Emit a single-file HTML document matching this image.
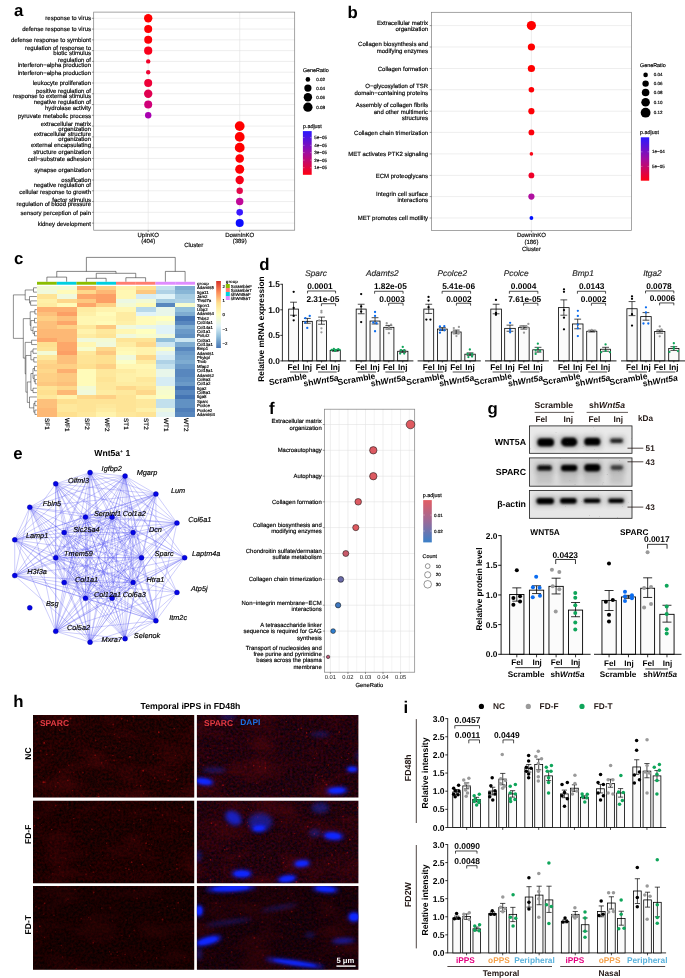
<!DOCTYPE html>
<html lang="en"><head><meta charset="utf-8"><title>Figure</title>
<style>
html,body{margin:0;padding:0;background:#fff;}
body{width:685px;height:978px;overflow:hidden;}
svg{display:block;font-family:"Liberation Sans",Arial,Helvetica,sans-serif;text-rendering:geometricPrecision;}
</style></head><body>
<svg width="685" height="978" viewBox="0 0 685 978">
<rect width="685" height="978" fill="#fff"/>
<g id="pa">
<text x="14" y="15.8" font-size="16.8" font-weight="bold">a</text>
<line x1="93.7" y1="18.3" x2="294.7" y2="18.3" stroke="#e2e2e2" stroke-width="0.6"/>
<line x1="93.7" y1="29.08" x2="294.7" y2="29.08" stroke="#e2e2e2" stroke-width="0.6"/>
<line x1="93.7" y1="39.86" x2="294.7" y2="39.86" stroke="#e2e2e2" stroke-width="0.6"/>
<line x1="93.7" y1="50.64" x2="294.7" y2="50.64" stroke="#e2e2e2" stroke-width="0.6"/>
<line x1="93.7" y1="61.42" x2="294.7" y2="61.42" stroke="#e2e2e2" stroke-width="0.6"/>
<line x1="93.7" y1="72.2" x2="294.7" y2="72.2" stroke="#e2e2e2" stroke-width="0.6"/>
<line x1="93.7" y1="82.98" x2="294.7" y2="82.98" stroke="#e2e2e2" stroke-width="0.6"/>
<line x1="93.7" y1="93.76" x2="294.7" y2="93.76" stroke="#e2e2e2" stroke-width="0.6"/>
<line x1="93.7" y1="104.54" x2="294.7" y2="104.54" stroke="#e2e2e2" stroke-width="0.6"/>
<line x1="93.7" y1="115.32" x2="294.7" y2="115.32" stroke="#e2e2e2" stroke-width="0.6"/>
<line x1="93.7" y1="126.1" x2="294.7" y2="126.1" stroke="#e2e2e2" stroke-width="0.6"/>
<line x1="93.7" y1="136.88" x2="294.7" y2="136.88" stroke="#e2e2e2" stroke-width="0.6"/>
<line x1="93.7" y1="147.66" x2="294.7" y2="147.66" stroke="#e2e2e2" stroke-width="0.6"/>
<line x1="93.7" y1="158.44" x2="294.7" y2="158.44" stroke="#e2e2e2" stroke-width="0.6"/>
<line x1="93.7" y1="169.22" x2="294.7" y2="169.22" stroke="#e2e2e2" stroke-width="0.6"/>
<line x1="93.7" y1="180" x2="294.7" y2="180" stroke="#e2e2e2" stroke-width="0.6"/>
<line x1="93.7" y1="190.78" x2="294.7" y2="190.78" stroke="#e2e2e2" stroke-width="0.6"/>
<line x1="93.7" y1="201.56" x2="294.7" y2="201.56" stroke="#e2e2e2" stroke-width="0.6"/>
<line x1="93.7" y1="212.34" x2="294.7" y2="212.34" stroke="#e2e2e2" stroke-width="0.6"/>
<line x1="93.7" y1="223.12" x2="294.7" y2="223.12" stroke="#e2e2e2" stroke-width="0.6"/>
<line x1="148.2" y1="12.1" x2="148.2" y2="230.2" stroke="#e2e2e2" stroke-width="0.6"/>
<line x1="239.7" y1="12.1" x2="239.7" y2="230.2" stroke="#e2e2e2" stroke-width="0.6"/>
<rect x="93.7" y="12.1" width="201" height="218.1" fill="none" stroke="#7f7f7f" stroke-width="0.7"/>
<line x1="91.9" y1="18.3" x2="93.7" y2="18.3" stroke="#333" stroke-width="0.5"/>
<line x1="91.9" y1="29.08" x2="93.7" y2="29.08" stroke="#333" stroke-width="0.5"/>
<line x1="91.9" y1="39.86" x2="93.7" y2="39.86" stroke="#333" stroke-width="0.5"/>
<line x1="91.9" y1="50.64" x2="93.7" y2="50.64" stroke="#333" stroke-width="0.5"/>
<line x1="91.9" y1="61.42" x2="93.7" y2="61.42" stroke="#333" stroke-width="0.5"/>
<line x1="91.9" y1="72.2" x2="93.7" y2="72.2" stroke="#333" stroke-width="0.5"/>
<line x1="91.9" y1="82.98" x2="93.7" y2="82.98" stroke="#333" stroke-width="0.5"/>
<line x1="91.9" y1="93.76" x2="93.7" y2="93.76" stroke="#333" stroke-width="0.5"/>
<line x1="91.9" y1="104.54" x2="93.7" y2="104.54" stroke="#333" stroke-width="0.5"/>
<line x1="91.9" y1="115.32" x2="93.7" y2="115.32" stroke="#333" stroke-width="0.5"/>
<line x1="91.9" y1="126.1" x2="93.7" y2="126.1" stroke="#333" stroke-width="0.5"/>
<line x1="91.9" y1="136.88" x2="93.7" y2="136.88" stroke="#333" stroke-width="0.5"/>
<line x1="91.9" y1="147.66" x2="93.7" y2="147.66" stroke="#333" stroke-width="0.5"/>
<line x1="91.9" y1="158.44" x2="93.7" y2="158.44" stroke="#333" stroke-width="0.5"/>
<line x1="91.9" y1="169.22" x2="93.7" y2="169.22" stroke="#333" stroke-width="0.5"/>
<line x1="91.9" y1="180" x2="93.7" y2="180" stroke="#333" stroke-width="0.5"/>
<line x1="91.9" y1="190.78" x2="93.7" y2="190.78" stroke="#333" stroke-width="0.5"/>
<line x1="91.9" y1="201.56" x2="93.7" y2="201.56" stroke="#333" stroke-width="0.5"/>
<line x1="91.9" y1="212.34" x2="93.7" y2="212.34" stroke="#333" stroke-width="0.5"/>
<line x1="91.9" y1="223.12" x2="93.7" y2="223.12" stroke="#333" stroke-width="0.5"/>
<line x1="148.2" y1="230.2" x2="148.2" y2="232" stroke="#333" stroke-width="0.5"/>
<line x1="239.7" y1="230.2" x2="239.7" y2="232" stroke="#333" stroke-width="0.5"/>
<text x="91" y="20.3" font-size="6" text-anchor="end" fill="#000" stroke="#000" stroke-width="0.16">response to virus</text>
<text x="91" y="31.4" font-size="6" text-anchor="end" fill="#000" stroke="#000" stroke-width="0.16">defense response to virus</text>
<text x="91" y="41.7" font-size="6" text-anchor="end" fill="#000" stroke="#000" stroke-width="0.16">defense response to symbiont</text>
<text x="91" y="49.7" font-size="6" text-anchor="end" fill="#000" stroke="#000" stroke-width="0.16">regulation of response to</text>
<text x="91" y="55" font-size="6" text-anchor="end" fill="#000" stroke="#000" stroke-width="0.16">biotic stimulus</text>
<text x="91" y="61.8" font-size="6" text-anchor="end" fill="#000" stroke="#000" stroke-width="0.16">regulation of</text>
<text x="91" y="67.1" font-size="6" text-anchor="end" fill="#000" stroke="#000" stroke-width="0.16">interferon−alpha production</text>
<text x="91" y="74.9" font-size="6" text-anchor="end" fill="#000" stroke="#000" stroke-width="0.16">interferon−alpha production</text>
<text x="91" y="84.9" font-size="6" text-anchor="end" fill="#000" stroke="#000" stroke-width="0.16">leukocyte proliferation</text>
<text x="91" y="93" font-size="6" text-anchor="end" fill="#000" stroke="#000" stroke-width="0.16">positive regulation of</text>
<text x="91" y="98.2" font-size="6" text-anchor="end" fill="#000" stroke="#000" stroke-width="0.16">response to external stimulus</text>
<text x="91" y="104.3" font-size="6" text-anchor="end" fill="#000" stroke="#000" stroke-width="0.16">negative regulation of</text>
<text x="91" y="110" font-size="6" text-anchor="end" fill="#000" stroke="#000" stroke-width="0.16">hydrolase activity</text>
<text x="91" y="118.3" font-size="6" text-anchor="end" fill="#000" stroke="#000" stroke-width="0.16">pyruvate metabolic process</text>
<text x="91" y="125.5" font-size="6" text-anchor="end" fill="#000" stroke="#000" stroke-width="0.16">extracellular matrix</text>
<text x="91" y="131.1" font-size="6" text-anchor="end" fill="#000" stroke="#000" stroke-width="0.16">organization</text>
<text x="91" y="136.3" font-size="6" text-anchor="end" fill="#000" stroke="#000" stroke-width="0.16">extracellular structure</text>
<text x="91" y="141.3" font-size="6" text-anchor="end" fill="#000" stroke="#000" stroke-width="0.16">organization</text>
<text x="91" y="147.1" font-size="6" text-anchor="end" fill="#000" stroke="#000" stroke-width="0.16">external encapsulating</text>
<text x="91" y="153.5" font-size="6" text-anchor="end" fill="#000" stroke="#000" stroke-width="0.16">structure organization</text>
<text x="91" y="161.1" font-size="6" text-anchor="end" fill="#000" stroke="#000" stroke-width="0.16">cell−substrate adhesion</text>
<text x="91" y="172.1" font-size="6" text-anchor="end" fill="#000" stroke="#000" stroke-width="0.16">synapse organization</text>
<text x="91" y="181.9" font-size="6" text-anchor="end" fill="#000" stroke="#000" stroke-width="0.16">ossification</text>
<text x="91" y="187" font-size="6" text-anchor="end" fill="#000" stroke="#000" stroke-width="0.16">negative regulation of</text>
<text x="91" y="193.8" font-size="6" text-anchor="end" fill="#000" stroke="#000" stroke-width="0.16">cellular response to growth</text>
<text x="91" y="201.6" font-size="6" text-anchor="end" fill="#000" stroke="#000" stroke-width="0.16">factor stimulus</text>
<text x="91" y="206.1" font-size="6" text-anchor="end" fill="#000" stroke="#000" stroke-width="0.16">regulation of blood pressure</text>
<text x="91" y="214.8" font-size="6" text-anchor="end" fill="#000" stroke="#000" stroke-width="0.16">sensory perception of pain</text>
<text x="91" y="225.9" font-size="6" text-anchor="end" fill="#000" stroke="#000" stroke-width="0.16">kidney development</text>
<circle cx="148.2" cy="18.3" r="4.2" fill="#ff0000"/>
<circle cx="148.2" cy="29.08" r="4" fill="#fe0004"/>
<circle cx="148.2" cy="39.86" r="4" fill="#fc0008"/>
<circle cx="148.2" cy="50.64" r="4.1" fill="#f8001c"/>
<circle cx="148.2" cy="61.42" r="2.2" fill="#f20028"/>
<circle cx="148.2" cy="72.2" r="2.2" fill="#ee0535"/>
<circle cx="148.2" cy="82.98" r="4" fill="#ee0038"/>
<circle cx="148.2" cy="93.76" r="4.2" fill="#e00050"/>
<circle cx="148.2" cy="104.54" r="4" fill="#d00078"/>
<circle cx="148.2" cy="115.32" r="3.2" fill="#a800b0"/>
<circle cx="239.7" cy="126.1" r="4.9" fill="#ff0000"/>
<circle cx="239.7" cy="136.88" r="4.9" fill="#ff0000"/>
<circle cx="239.7" cy="147.66" r="4.9" fill="#ff0000"/>
<circle cx="239.7" cy="158.44" r="4.3" fill="#fe0004"/>
<circle cx="239.7" cy="169.22" r="4.5" fill="#fe0004"/>
<circle cx="239.7" cy="180" r="4.2" fill="#f60018"/>
<circle cx="239.7" cy="190.78" r="3.2" fill="#e2084a"/>
<circle cx="239.7" cy="201.56" r="3.7" fill="#c00898"/>
<circle cx="239.7" cy="212.34" r="3.3" fill="#3a18ff"/>
<circle cx="239.7" cy="223.12" r="4" fill="#0c0cff"/>
<text x="148.2" y="237" font-size="6" text-anchor="middle" fill="#000" stroke="#000" stroke-width="0.16">UpInKO</text>
<text x="148.2" y="243.4" font-size="6" text-anchor="middle" fill="#000" stroke="#000" stroke-width="0.16">(404)</text>
<text x="239.7" y="237" font-size="6" text-anchor="middle" fill="#000" stroke="#000" stroke-width="0.16">DownInKO</text>
<text x="239.7" y="243.4" font-size="6" text-anchor="middle" fill="#000" stroke="#000" stroke-width="0.16">(389)</text>
<text x="193.7" y="246.6" font-size="6" text-anchor="middle" fill="#000" stroke="#000" stroke-width="0.16">Cluster</text>
<text x="302.9" y="71.5" font-size="5.4" fill="#000" stroke="#000" stroke-width="0.16">GeneRatio</text>
<circle cx="307.9" cy="79.4" r="2.3" fill="#000"/>
<text x="316.2" y="80.9" font-size="4.5" fill="#000" stroke="#000" stroke-width="0.16">0.02</text>
<circle cx="307.9" cy="88.1" r="3.6" fill="#000"/>
<text x="316.2" y="89.6" font-size="4.5" fill="#000" stroke="#000" stroke-width="0.16">0.04</text>
<circle cx="307.9" cy="97.2" r="4.2" fill="#000"/>
<text x="316.2" y="98.7" font-size="4.5" fill="#000" stroke="#000" stroke-width="0.16">0.06</text>
<circle cx="307.9" cy="107.2" r="4.65" fill="#000"/>
<text x="316.2" y="108.7" font-size="4.5" fill="#000" stroke="#000" stroke-width="0.16">0.08</text>
<text x="302.9" y="128.4" font-size="5.4" fill="#000" stroke="#000" stroke-width="0.16">p.adjust</text>
<defs><linearGradient id="ga" x1="0" y1="0" x2="0" y2="1"><stop offset="0" stop-color="#2a18ff"/><stop offset="0.5" stop-color="#a00ca0"/><stop offset="1" stop-color="#ff0010"/></linearGradient><linearGradient id="gf" x1="0" y1="0" x2="0" y2="1"><stop offset="0" stop-color="#e25d63"/><stop offset="0.5" stop-color="#9a6a98"/><stop offset="1" stop-color="#3a80c8"/></linearGradient></defs>
<rect x="302.9" y="131.1" width="8.8" height="43.7" fill="url(#ga)"/>
<text x="314.3" y="139.1" font-size="4.5" fill="#000" stroke="#000" stroke-width="0.16">5e−05</text>
<line x1="302.9" y1="137.6" x2="304.6" y2="137.6" stroke="#fff" stroke-width="0.3"/>
<line x1="310" y1="137.6" x2="311.7" y2="137.6" stroke="#fff" stroke-width="0.3"/>
<text x="314.3" y="146.8" font-size="4.5" fill="#000" stroke="#000" stroke-width="0.16">4e−05</text>
<line x1="302.9" y1="145.3" x2="304.6" y2="145.3" stroke="#fff" stroke-width="0.3"/>
<line x1="310" y1="145.3" x2="311.7" y2="145.3" stroke="#fff" stroke-width="0.3"/>
<text x="314.3" y="154.1" font-size="4.5" fill="#000" stroke="#000" stroke-width="0.16">3e−05</text>
<line x1="302.9" y1="152.6" x2="304.6" y2="152.6" stroke="#fff" stroke-width="0.3"/>
<line x1="310" y1="152.6" x2="311.7" y2="152.6" stroke="#fff" stroke-width="0.3"/>
<text x="314.3" y="161.6" font-size="4.5" fill="#000" stroke="#000" stroke-width="0.16">2e−05</text>
<line x1="302.9" y1="160.1" x2="304.6" y2="160.1" stroke="#fff" stroke-width="0.3"/>
<line x1="310" y1="160.1" x2="311.7" y2="160.1" stroke="#fff" stroke-width="0.3"/>
<text x="314.3" y="169.2" font-size="4.5" fill="#000" stroke="#000" stroke-width="0.16">1e−05</text>
<line x1="302.9" y1="167.7" x2="304.6" y2="167.7" stroke="#fff" stroke-width="0.3"/>
<line x1="310" y1="167.7" x2="311.7" y2="167.7" stroke="#fff" stroke-width="0.3"/>
</g>
<g id="pb">
<text x="347.5" y="17.9" font-size="16.8" font-weight="bold">b</text>
<line x1="431.4" y1="25.6" x2="631.6" y2="25.6" stroke="#e2e2e2" stroke-width="0.6"/>
<line x1="431.4" y1="47" x2="631.6" y2="47" stroke="#e2e2e2" stroke-width="0.6"/>
<line x1="431.4" y1="68.5" x2="631.6" y2="68.5" stroke="#e2e2e2" stroke-width="0.6"/>
<line x1="431.4" y1="89.7" x2="631.6" y2="89.7" stroke="#e2e2e2" stroke-width="0.6"/>
<line x1="431.4" y1="111.2" x2="631.6" y2="111.2" stroke="#e2e2e2" stroke-width="0.6"/>
<line x1="431.4" y1="132.4" x2="631.6" y2="132.4" stroke="#e2e2e2" stroke-width="0.6"/>
<line x1="431.4" y1="153.9" x2="631.6" y2="153.9" stroke="#e2e2e2" stroke-width="0.6"/>
<line x1="431.4" y1="175.4" x2="631.6" y2="175.4" stroke="#e2e2e2" stroke-width="0.6"/>
<line x1="431.4" y1="196.6" x2="631.6" y2="196.6" stroke="#e2e2e2" stroke-width="0.6"/>
<line x1="431.4" y1="218" x2="631.6" y2="218" stroke="#e2e2e2" stroke-width="0.6"/>
<line x1="531.4" y1="12.3" x2="531.4" y2="230.6" stroke="#e2e2e2" stroke-width="0.6"/>
<rect x="431.4" y="12.3" width="200.2" height="218.3" fill="none" stroke="#7f7f7f" stroke-width="0.7"/>
<line x1="429.6" y1="25.6" x2="431.4" y2="25.6" stroke="#333" stroke-width="0.5"/>
<line x1="429.6" y1="47" x2="431.4" y2="47" stroke="#333" stroke-width="0.5"/>
<line x1="429.6" y1="68.5" x2="431.4" y2="68.5" stroke="#333" stroke-width="0.5"/>
<line x1="429.6" y1="89.7" x2="431.4" y2="89.7" stroke="#333" stroke-width="0.5"/>
<line x1="429.6" y1="111.2" x2="431.4" y2="111.2" stroke="#333" stroke-width="0.5"/>
<line x1="429.6" y1="132.4" x2="431.4" y2="132.4" stroke="#333" stroke-width="0.5"/>
<line x1="429.6" y1="153.9" x2="431.4" y2="153.9" stroke="#333" stroke-width="0.5"/>
<line x1="429.6" y1="175.4" x2="431.4" y2="175.4" stroke="#333" stroke-width="0.5"/>
<line x1="429.6" y1="196.6" x2="431.4" y2="196.6" stroke="#333" stroke-width="0.5"/>
<line x1="429.6" y1="218" x2="431.4" y2="218" stroke="#333" stroke-width="0.5"/>
<line x1="531.4" y1="230.6" x2="531.4" y2="232.4" stroke="#333" stroke-width="0.5"/>
<text x="428.1" y="24.8" font-size="6" text-anchor="end" fill="#000" stroke="#000" stroke-width="0.16">Extracellular matrix</text>
<text x="428.1" y="31.1" font-size="6" text-anchor="end" fill="#000" stroke="#000" stroke-width="0.16">organization</text>
<text x="428.1" y="46" font-size="6" text-anchor="end" fill="#000" stroke="#000" stroke-width="0.16">Collagen biosynthesis and</text>
<text x="428.1" y="52.6" font-size="6" text-anchor="end" fill="#000" stroke="#000" stroke-width="0.16">modifying enzymes</text>
<text x="428.1" y="70.5" font-size="6" text-anchor="end" fill="#000" stroke="#000" stroke-width="0.16">Collagen formation</text>
<text x="428.1" y="88.4" font-size="6" text-anchor="end" fill="#000" stroke="#000" stroke-width="0.16">O−glycosylation of TSR</text>
<text x="428.1" y="94.8" font-size="6" text-anchor="end" fill="#000" stroke="#000" stroke-width="0.16">domain−containing proteins</text>
<text x="428.1" y="107.1" font-size="6" text-anchor="end" fill="#000" stroke="#000" stroke-width="0.16">Assembly of collagen fibrils</text>
<text x="428.1" y="113.5" font-size="6" text-anchor="end" fill="#000" stroke="#000" stroke-width="0.16">and other multimeric</text>
<text x="428.1" y="119.6" font-size="6" text-anchor="end" fill="#000" stroke="#000" stroke-width="0.16">structures</text>
<text x="428.1" y="134.7" font-size="6" text-anchor="end" fill="#000" stroke="#000" stroke-width="0.16">Collagen chain trimerization</text>
<text x="428.1" y="156.1" font-size="6" text-anchor="end" fill="#000" stroke="#000" stroke-width="0.16">MET activates PTK2 signaling</text>
<text x="428.1" y="177.6" font-size="6" text-anchor="end" fill="#000" stroke="#000" stroke-width="0.16">ECM proteoglycans</text>
<text x="428.1" y="195.8" font-size="6" text-anchor="end" fill="#000" stroke="#000" stroke-width="0.16">Integrin cell surface</text>
<text x="428.1" y="202.2" font-size="6" text-anchor="end" fill="#000" stroke="#000" stroke-width="0.16">interactions</text>
<text x="428.1" y="220.3" font-size="6" text-anchor="end" fill="#000" stroke="#000" stroke-width="0.16">MET promotes cell motility</text>
<circle cx="531.4" cy="25.6" r="4.6" fill="#ff0000"/>
<circle cx="531.4" cy="47" r="3.6" fill="#ff0000"/>
<circle cx="531.4" cy="68.5" r="3.6" fill="#ff0000"/>
<circle cx="531.4" cy="89.7" r="2.8" fill="#fe0006"/>
<circle cx="531.4" cy="111.2" r="3.1" fill="#fe0006"/>
<circle cx="531.4" cy="132.4" r="2.9" fill="#fc000c"/>
<circle cx="531.4" cy="153.9" r="1.8" fill="#f80818"/>
<circle cx="531.4" cy="175.4" r="2.9" fill="#f00028"/>
<circle cx="531.4" cy="196.6" r="3.1" fill="#b010a0"/>
<circle cx="531.4" cy="218" r="1.9" fill="#0010ff"/>
<text x="531.4" y="237.2" font-size="6" text-anchor="middle" fill="#000" stroke="#000" stroke-width="0.16">DownInKO</text>
<text x="531.4" y="243.6" font-size="6" text-anchor="middle" fill="#000" stroke="#000" stroke-width="0.16">(186)</text>
<text x="531.4" y="250.5" font-size="6" text-anchor="middle" fill="#000" stroke="#000" stroke-width="0.16">Cluster</text>
<text x="640" y="67.2" font-size="5.4" fill="#000" stroke="#000" stroke-width="0.16">GeneRatio</text>
<circle cx="645.6" cy="74.9" r="2.3" fill="#000"/>
<text x="653.8" y="76.4" font-size="4.5" fill="#000" stroke="#000" stroke-width="0.16">0.04</text>
<circle cx="645.6" cy="83.6" r="3.2" fill="#000"/>
<text x="653.8" y="85.1" font-size="4.5" fill="#000" stroke="#000" stroke-width="0.16">0.06</text>
<circle cx="645.6" cy="92.5" r="3.8" fill="#000"/>
<text x="653.8" y="94" font-size="4.5" fill="#000" stroke="#000" stroke-width="0.16">0.08</text>
<circle cx="645.6" cy="102.2" r="4.3" fill="#000"/>
<text x="653.8" y="103.7" font-size="4.5" fill="#000" stroke="#000" stroke-width="0.16">0.10</text>
<circle cx="645.6" cy="112.7" r="4.9" fill="#000"/>
<text x="653.8" y="114.2" font-size="4.5" fill="#000" stroke="#000" stroke-width="0.16">0.12</text>
<text x="640" y="134" font-size="5.4" fill="#000" stroke="#000" stroke-width="0.16">p.adjust</text>
<rect x="640.8" y="137.3" width="8.4" height="43.4" fill="url(#ga)"/>
<text x="652" y="153.3" font-size="4.5" fill="#000" stroke="#000" stroke-width="0.16">1e−04</text>
<line x1="640.8" y1="151.8" x2="642.5" y2="151.8" stroke="#fff" stroke-width="0.3"/>
<line x1="647.5" y1="151.8" x2="649.2" y2="151.8" stroke="#fff" stroke-width="0.3"/>
<text x="652" y="167.9" font-size="4.5" fill="#000" stroke="#000" stroke-width="0.16">5e−05</text>
<line x1="640.8" y1="166.4" x2="642.5" y2="166.4" stroke="#fff" stroke-width="0.3"/>
<line x1="647.5" y1="166.4" x2="649.2" y2="166.4" stroke="#fff" stroke-width="0.3"/>
</g>
<g id="pc">
<text x="14" y="263.5" font-size="16.8" font-weight="bold">c</text>
<rect x="37" y="285.6" width="19.8" height="4.42" fill="#f3fad4" shape-rendering="crispEdges"/>
<rect x="56.75" y="285.6" width="19.8" height="4.42" fill="#f3fad4" shape-rendering="crispEdges"/>
<rect x="76.5" y="285.6" width="19.8" height="4.42" fill="#fda76a" shape-rendering="crispEdges"/>
<rect x="96.25" y="285.6" width="19.8" height="4.42" fill="#fed085" shape-rendering="crispEdges"/>
<rect x="116" y="285.6" width="19.8" height="4.42" fill="#fff3ad" shape-rendering="crispEdges"/>
<rect x="135.75" y="285.6" width="19.8" height="4.42" fill="#fee090" shape-rendering="crispEdges"/>
<rect x="155.5" y="285.6" width="19.8" height="4.42" fill="#c2e0ed" shape-rendering="crispEdges"/>
<rect x="175.25" y="285.6" width="19.8" height="4.42" fill="#7eacd1" shape-rendering="crispEdges"/>
<rect x="37" y="289.97" width="19.8" height="4.42" fill="#f0f9dc" shape-rendering="crispEdges"/>
<rect x="56.75" y="289.97" width="19.8" height="4.42" fill="#fffbb9" shape-rendering="crispEdges"/>
<rect x="76.5" y="289.97" width="19.8" height="4.42" fill="#fed88b" shape-rendering="crispEdges"/>
<rect x="96.25" y="289.97" width="19.8" height="4.42" fill="#fdb875" shape-rendering="crispEdges"/>
<rect x="116" y="289.97" width="19.8" height="4.42" fill="#fff7b3" shape-rendering="crispEdges"/>
<rect x="135.75" y="289.97" width="19.8" height="4.42" fill="#fdc880" shape-rendering="crispEdges"/>
<rect x="155.5" y="289.97" width="19.8" height="4.42" fill="#afd2e6" shape-rendering="crispEdges"/>
<rect x="175.25" y="289.97" width="19.8" height="4.42" fill="#88b6d6" shape-rendering="crispEdges"/>
<rect x="37" y="294.33" width="19.8" height="4.42" fill="#fee496" shape-rendering="crispEdges"/>
<rect x="56.75" y="294.33" width="19.8" height="4.42" fill="#f0f9dc" shape-rendering="crispEdges"/>
<rect x="76.5" y="294.33" width="19.8" height="4.42" fill="#fda76a" shape-rendering="crispEdges"/>
<rect x="96.25" y="294.33" width="19.8" height="4.42" fill="#fc9f65" shape-rendering="crispEdges"/>
<rect x="116" y="294.33" width="19.8" height="4.42" fill="#fff7b3" shape-rendering="crispEdges"/>
<rect x="135.75" y="294.33" width="19.8" height="4.42" fill="#d6ecf4" shape-rendering="crispEdges"/>
<rect x="155.5" y="294.33" width="19.8" height="4.42" fill="#e0f3f8" shape-rendering="crispEdges"/>
<rect x="175.25" y="294.33" width="19.8" height="4.42" fill="#a5cce2" shape-rendering="crispEdges"/>
<rect x="37" y="298.7" width="19.8" height="4.42" fill="#fef0a8" shape-rendering="crispEdges"/>
<rect x="56.75" y="298.7" width="19.8" height="4.42" fill="#fed88b" shape-rendering="crispEdges"/>
<rect x="76.5" y="298.7" width="19.8" height="4.42" fill="#fdc880" shape-rendering="crispEdges"/>
<rect x="96.25" y="298.7" width="19.8" height="4.42" fill="#fc9f65" shape-rendering="crispEdges"/>
<rect x="116" y="298.7" width="19.8" height="4.42" fill="#ecf8e3" shape-rendering="crispEdges"/>
<rect x="135.75" y="298.7" width="19.8" height="4.42" fill="#f3fad4" shape-rendering="crispEdges"/>
<rect x="155.5" y="298.7" width="19.8" height="4.42" fill="#a5cce2" shape-rendering="crispEdges"/>
<rect x="175.25" y="298.7" width="19.8" height="4.42" fill="#afd2e6" shape-rendering="crispEdges"/>
<rect x="37" y="303.07" width="19.8" height="4.42" fill="#feeca2" shape-rendering="crispEdges"/>
<rect x="56.75" y="303.07" width="19.8" height="4.42" fill="#fffbb9" shape-rendering="crispEdges"/>
<rect x="76.5" y="303.07" width="19.8" height="4.42" fill="#fda76a" shape-rendering="crispEdges"/>
<rect x="96.25" y="303.07" width="19.8" height="4.42" fill="#fed085" shape-rendering="crispEdges"/>
<rect x="116" y="303.07" width="19.8" height="4.42" fill="#f3fad4" shape-rendering="crispEdges"/>
<rect x="135.75" y="303.07" width="19.8" height="4.42" fill="#fffbb9" shape-rendering="crispEdges"/>
<rect x="155.5" y="303.07" width="19.8" height="4.42" fill="#5887be" shape-rendering="crispEdges"/>
<rect x="175.25" y="303.07" width="19.8" height="4.42" fill="#f7fccd" shape-rendering="crispEdges"/>
<rect x="37" y="307.44" width="19.8" height="4.42" fill="#fdaf70" shape-rendering="crispEdges"/>
<rect x="56.75" y="307.44" width="19.8" height="4.42" fill="#fdaf70" shape-rendering="crispEdges"/>
<rect x="76.5" y="307.44" width="19.8" height="4.42" fill="#feeca2" shape-rendering="crispEdges"/>
<rect x="96.25" y="307.44" width="19.8" height="4.42" fill="#fff3ad" shape-rendering="crispEdges"/>
<rect x="116" y="307.44" width="19.8" height="4.42" fill="#fff7b3" shape-rendering="crispEdges"/>
<rect x="135.75" y="307.44" width="19.8" height="4.42" fill="#b8d9ea" shape-rendering="crispEdges"/>
<rect x="155.5" y="307.44" width="19.8" height="4.42" fill="#e8f6ea" shape-rendering="crispEdges"/>
<rect x="175.25" y="307.44" width="19.8" height="4.42" fill="#91bfdb" shape-rendering="crispEdges"/>
<rect x="37" y="311.8" width="19.8" height="4.42" fill="#fdc07b" shape-rendering="crispEdges"/>
<rect x="56.75" y="311.8" width="19.8" height="4.42" fill="#fc9f65" shape-rendering="crispEdges"/>
<rect x="76.5" y="311.8" width="19.8" height="4.42" fill="#fef0a8" shape-rendering="crispEdges"/>
<rect x="96.25" y="311.8" width="19.8" height="4.42" fill="#fffbb9" shape-rendering="crispEdges"/>
<rect x="116" y="311.8" width="19.8" height="4.42" fill="#feeca2" shape-rendering="crispEdges"/>
<rect x="135.75" y="311.8" width="19.8" height="4.42" fill="#e0f3f8" shape-rendering="crispEdges"/>
<rect x="155.5" y="311.8" width="19.8" height="4.42" fill="#e8f6ea" shape-rendering="crispEdges"/>
<rect x="175.25" y="311.8" width="19.8" height="4.42" fill="#7eacd1" shape-rendering="crispEdges"/>
<rect x="37" y="316.17" width="19.8" height="4.42" fill="#fed085" shape-rendering="crispEdges"/>
<rect x="56.75" y="316.17" width="19.8" height="4.42" fill="#fdc07b" shape-rendering="crispEdges"/>
<rect x="76.5" y="316.17" width="19.8" height="4.42" fill="#fff7b3" shape-rendering="crispEdges"/>
<rect x="96.25" y="316.17" width="19.8" height="4.42" fill="#fff7b3" shape-rendering="crispEdges"/>
<rect x="116" y="316.17" width="19.8" height="4.42" fill="#feeca2" shape-rendering="crispEdges"/>
<rect x="135.75" y="316.17" width="19.8" height="4.42" fill="#fffbb9" shape-rendering="crispEdges"/>
<rect x="155.5" y="316.17" width="19.8" height="4.42" fill="#ffffbf" shape-rendering="crispEdges"/>
<rect x="175.25" y="316.17" width="19.8" height="4.42" fill="#4575b4" shape-rendering="crispEdges"/>
<rect x="37" y="320.54" width="19.8" height="4.42" fill="#fdc07b" shape-rendering="crispEdges"/>
<rect x="56.75" y="320.54" width="19.8" height="4.42" fill="#fda76a" shape-rendering="crispEdges"/>
<rect x="76.5" y="320.54" width="19.8" height="4.42" fill="#fff7b3" shape-rendering="crispEdges"/>
<rect x="96.25" y="320.54" width="19.8" height="4.42" fill="#fffbb9" shape-rendering="crispEdges"/>
<rect x="116" y="320.54" width="19.8" height="4.42" fill="#fef0a8" shape-rendering="crispEdges"/>
<rect x="135.75" y="320.54" width="19.8" height="4.42" fill="#fffbb9" shape-rendering="crispEdges"/>
<rect x="155.5" y="320.54" width="19.8" height="4.42" fill="#f3fad4" shape-rendering="crispEdges"/>
<rect x="175.25" y="320.54" width="19.8" height="4.42" fill="#5887be" shape-rendering="crispEdges"/>
<rect x="37" y="324.9" width="19.8" height="4.42" fill="#fdc07b" shape-rendering="crispEdges"/>
<rect x="56.75" y="324.9" width="19.8" height="4.42" fill="#fed085" shape-rendering="crispEdges"/>
<rect x="76.5" y="324.9" width="19.8" height="4.42" fill="#fee89c" shape-rendering="crispEdges"/>
<rect x="96.25" y="324.9" width="19.8" height="4.42" fill="#fdc880" shape-rendering="crispEdges"/>
<rect x="116" y="324.9" width="19.8" height="4.42" fill="#f0f9dc" shape-rendering="crispEdges"/>
<rect x="135.75" y="324.9" width="19.8" height="4.42" fill="#e8f6ea" shape-rendering="crispEdges"/>
<rect x="155.5" y="324.9" width="19.8" height="4.42" fill="#e0f3f8" shape-rendering="crispEdges"/>
<rect x="175.25" y="324.9" width="19.8" height="4.42" fill="#7eacd1" shape-rendering="crispEdges"/>
<rect x="37" y="329.27" width="19.8" height="4.42" fill="#fdb875" shape-rendering="crispEdges"/>
<rect x="56.75" y="329.27" width="19.8" height="4.42" fill="#fdb875" shape-rendering="crispEdges"/>
<rect x="76.5" y="329.27" width="19.8" height="4.42" fill="#fff3ad" shape-rendering="crispEdges"/>
<rect x="96.25" y="329.27" width="19.8" height="4.42" fill="#fee89c" shape-rendering="crispEdges"/>
<rect x="116" y="329.27" width="19.8" height="4.42" fill="#fff7b3" shape-rendering="crispEdges"/>
<rect x="135.75" y="329.27" width="19.8" height="4.42" fill="#ffffbf" shape-rendering="crispEdges"/>
<rect x="155.5" y="329.27" width="19.8" height="4.42" fill="#e0f3f8" shape-rendering="crispEdges"/>
<rect x="175.25" y="329.27" width="19.8" height="4.42" fill="#6b9ac8" shape-rendering="crispEdges"/>
<rect x="37" y="333.64" width="19.8" height="4.42" fill="#fdb875" shape-rendering="crispEdges"/>
<rect x="56.75" y="333.64" width="19.8" height="4.42" fill="#fdb875" shape-rendering="crispEdges"/>
<rect x="76.5" y="333.64" width="19.8" height="4.42" fill="#feeca2" shape-rendering="crispEdges"/>
<rect x="96.25" y="333.64" width="19.8" height="4.42" fill="#fee496" shape-rendering="crispEdges"/>
<rect x="116" y="333.64" width="19.8" height="4.42" fill="#f0f9dc" shape-rendering="crispEdges"/>
<rect x="135.75" y="333.64" width="19.8" height="4.42" fill="#f7fccd" shape-rendering="crispEdges"/>
<rect x="155.5" y="333.64" width="19.8" height="4.42" fill="#f0f9dc" shape-rendering="crispEdges"/>
<rect x="175.25" y="333.64" width="19.8" height="4.42" fill="#6191c3" shape-rendering="crispEdges"/>
<rect x="37" y="338" width="19.8" height="4.42" fill="#fda76a" shape-rendering="crispEdges"/>
<rect x="56.75" y="338" width="19.8" height="4.42" fill="#fdb875" shape-rendering="crispEdges"/>
<rect x="76.5" y="338" width="19.8" height="4.42" fill="#f0f9dc" shape-rendering="crispEdges"/>
<rect x="96.25" y="338" width="19.8" height="4.42" fill="#f3fad4" shape-rendering="crispEdges"/>
<rect x="116" y="338" width="19.8" height="4.42" fill="#fee496" shape-rendering="crispEdges"/>
<rect x="135.75" y="338" width="19.8" height="4.42" fill="#fee496" shape-rendering="crispEdges"/>
<rect x="155.5" y="338" width="19.8" height="4.42" fill="#91bfdb" shape-rendering="crispEdges"/>
<rect x="175.25" y="338" width="19.8" height="4.42" fill="#cce6f1" shape-rendering="crispEdges"/>
<rect x="37" y="342.37" width="19.8" height="4.42" fill="#fee090" shape-rendering="crispEdges"/>
<rect x="56.75" y="342.37" width="19.8" height="4.42" fill="#fda76a" shape-rendering="crispEdges"/>
<rect x="76.5" y="342.37" width="19.8" height="4.42" fill="#fff7b3" shape-rendering="crispEdges"/>
<rect x="96.25" y="342.37" width="19.8" height="4.42" fill="#f0f9dc" shape-rendering="crispEdges"/>
<rect x="116" y="342.37" width="19.8" height="4.42" fill="#feeca2" shape-rendering="crispEdges"/>
<rect x="135.75" y="342.37" width="19.8" height="4.42" fill="#fed88b" shape-rendering="crispEdges"/>
<rect x="155.5" y="342.37" width="19.8" height="4.42" fill="#cce6f1" shape-rendering="crispEdges"/>
<rect x="175.25" y="342.37" width="19.8" height="4.42" fill="#7eacd1" shape-rendering="crispEdges"/>
<rect x="37" y="346.74" width="19.8" height="4.42" fill="#fee496" shape-rendering="crispEdges"/>
<rect x="56.75" y="346.74" width="19.8" height="4.42" fill="#fda76a" shape-rendering="crispEdges"/>
<rect x="76.5" y="346.74" width="19.8" height="4.42" fill="#f7fccd" shape-rendering="crispEdges"/>
<rect x="96.25" y="346.74" width="19.8" height="4.42" fill="#fed88b" shape-rendering="crispEdges"/>
<rect x="116" y="346.74" width="19.8" height="4.42" fill="#fff7b3" shape-rendering="crispEdges"/>
<rect x="135.75" y="346.74" width="19.8" height="4.42" fill="#fff3ad" shape-rendering="crispEdges"/>
<rect x="155.5" y="346.74" width="19.8" height="4.42" fill="#f7fccd" shape-rendering="crispEdges"/>
<rect x="175.25" y="346.74" width="19.8" height="4.42" fill="#5887be" shape-rendering="crispEdges"/>
<rect x="37" y="351.11" width="19.8" height="4.42" fill="#f3fad4" shape-rendering="crispEdges"/>
<rect x="56.75" y="351.11" width="19.8" height="4.42" fill="#fc9f65" shape-rendering="crispEdges"/>
<rect x="76.5" y="351.11" width="19.8" height="4.42" fill="#fee89c" shape-rendering="crispEdges"/>
<rect x="96.25" y="351.11" width="19.8" height="4.42" fill="#fdc880" shape-rendering="crispEdges"/>
<rect x="116" y="351.11" width="19.8" height="4.42" fill="#fffbb9" shape-rendering="crispEdges"/>
<rect x="135.75" y="351.11" width="19.8" height="4.42" fill="#fff3ad" shape-rendering="crispEdges"/>
<rect x="155.5" y="351.11" width="19.8" height="4.42" fill="#e4f4f1" shape-rendering="crispEdges"/>
<rect x="175.25" y="351.11" width="19.8" height="4.42" fill="#6b9ac8" shape-rendering="crispEdges"/>
<rect x="37" y="355.47" width="19.8" height="4.42" fill="#fee89c" shape-rendering="crispEdges"/>
<rect x="56.75" y="355.47" width="19.8" height="4.42" fill="#fdc07b" shape-rendering="crispEdges"/>
<rect x="76.5" y="355.47" width="19.8" height="4.42" fill="#fee496" shape-rendering="crispEdges"/>
<rect x="96.25" y="355.47" width="19.8" height="4.42" fill="#fee090" shape-rendering="crispEdges"/>
<rect x="116" y="355.47" width="19.8" height="4.42" fill="#f0f9dc" shape-rendering="crispEdges"/>
<rect x="135.75" y="355.47" width="19.8" height="4.42" fill="#fed88b" shape-rendering="crispEdges"/>
<rect x="155.5" y="355.47" width="19.8" height="4.42" fill="#d6ecf4" shape-rendering="crispEdges"/>
<rect x="175.25" y="355.47" width="19.8" height="4.42" fill="#74a3cc" shape-rendering="crispEdges"/>
<rect x="37" y="359.84" width="19.8" height="4.42" fill="#fed88b" shape-rendering="crispEdges"/>
<rect x="56.75" y="359.84" width="19.8" height="4.42" fill="#fdc07b" shape-rendering="crispEdges"/>
<rect x="76.5" y="359.84" width="19.8" height="4.42" fill="#fee496" shape-rendering="crispEdges"/>
<rect x="96.25" y="359.84" width="19.8" height="4.42" fill="#fee090" shape-rendering="crispEdges"/>
<rect x="116" y="359.84" width="19.8" height="4.42" fill="#fbfec6" shape-rendering="crispEdges"/>
<rect x="135.75" y="359.84" width="19.8" height="4.42" fill="#feeca2" shape-rendering="crispEdges"/>
<rect x="155.5" y="359.84" width="19.8" height="4.42" fill="#afd2e6" shape-rendering="crispEdges"/>
<rect x="175.25" y="359.84" width="19.8" height="4.42" fill="#7eacd1" shape-rendering="crispEdges"/>
<rect x="37" y="364.21" width="19.8" height="4.42" fill="#fed085" shape-rendering="crispEdges"/>
<rect x="56.75" y="364.21" width="19.8" height="4.42" fill="#fed085" shape-rendering="crispEdges"/>
<rect x="76.5" y="364.21" width="19.8" height="4.42" fill="#fee090" shape-rendering="crispEdges"/>
<rect x="96.25" y="364.21" width="19.8" height="4.42" fill="#fed085" shape-rendering="crispEdges"/>
<rect x="116" y="364.21" width="19.8" height="4.42" fill="#fff7b3" shape-rendering="crispEdges"/>
<rect x="135.75" y="364.21" width="19.8" height="4.42" fill="#fff7b3" shape-rendering="crispEdges"/>
<rect x="155.5" y="364.21" width="19.8" height="4.42" fill="#c2e0ed" shape-rendering="crispEdges"/>
<rect x="175.25" y="364.21" width="19.8" height="4.42" fill="#6b9ac8" shape-rendering="crispEdges"/>
<rect x="37" y="368.57" width="19.8" height="4.42" fill="#fed88b" shape-rendering="crispEdges"/>
<rect x="56.75" y="368.57" width="19.8" height="4.42" fill="#fdaf70" shape-rendering="crispEdges"/>
<rect x="76.5" y="368.57" width="19.8" height="4.42" fill="#fffbb9" shape-rendering="crispEdges"/>
<rect x="96.25" y="368.57" width="19.8" height="4.42" fill="#fee89c" shape-rendering="crispEdges"/>
<rect x="116" y="368.57" width="19.8" height="4.42" fill="#feeca2" shape-rendering="crispEdges"/>
<rect x="135.75" y="368.57" width="19.8" height="4.42" fill="#fff3ad" shape-rendering="crispEdges"/>
<rect x="155.5" y="368.57" width="19.8" height="4.42" fill="#e8f6ea" shape-rendering="crispEdges"/>
<rect x="175.25" y="368.57" width="19.8" height="4.42" fill="#5887be" shape-rendering="crispEdges"/>
<rect x="37" y="372.94" width="19.8" height="4.42" fill="#fed085" shape-rendering="crispEdges"/>
<rect x="56.75" y="372.94" width="19.8" height="4.42" fill="#fdc880" shape-rendering="crispEdges"/>
<rect x="76.5" y="372.94" width="19.8" height="4.42" fill="#fffbb9" shape-rendering="crispEdges"/>
<rect x="96.25" y="372.94" width="19.8" height="4.42" fill="#fee89c" shape-rendering="crispEdges"/>
<rect x="116" y="372.94" width="19.8" height="4.42" fill="#fef0a8" shape-rendering="crispEdges"/>
<rect x="135.75" y="372.94" width="19.8" height="4.42" fill="#fff3ad" shape-rendering="crispEdges"/>
<rect x="155.5" y="372.94" width="19.8" height="4.42" fill="#e8f6ea" shape-rendering="crispEdges"/>
<rect x="175.25" y="372.94" width="19.8" height="4.42" fill="#5887be" shape-rendering="crispEdges"/>
<rect x="37" y="377.31" width="19.8" height="4.42" fill="#fed085" shape-rendering="crispEdges"/>
<rect x="56.75" y="377.31" width="19.8" height="4.42" fill="#fdc880" shape-rendering="crispEdges"/>
<rect x="76.5" y="377.31" width="19.8" height="4.42" fill="#fffbb9" shape-rendering="crispEdges"/>
<rect x="96.25" y="377.31" width="19.8" height="4.42" fill="#fee496" shape-rendering="crispEdges"/>
<rect x="116" y="377.31" width="19.8" height="4.42" fill="#fef0a8" shape-rendering="crispEdges"/>
<rect x="135.75" y="377.31" width="19.8" height="4.42" fill="#fee89c" shape-rendering="crispEdges"/>
<rect x="155.5" y="377.31" width="19.8" height="4.42" fill="#d6ecf4" shape-rendering="crispEdges"/>
<rect x="175.25" y="377.31" width="19.8" height="4.42" fill="#6191c3" shape-rendering="crispEdges"/>
<rect x="37" y="381.67" width="19.8" height="4.42" fill="#fdc880" shape-rendering="crispEdges"/>
<rect x="56.75" y="381.67" width="19.8" height="4.42" fill="#fdc07b" shape-rendering="crispEdges"/>
<rect x="76.5" y="381.67" width="19.8" height="4.42" fill="#fffbb9" shape-rendering="crispEdges"/>
<rect x="96.25" y="381.67" width="19.8" height="4.42" fill="#fee89c" shape-rendering="crispEdges"/>
<rect x="116" y="381.67" width="19.8" height="4.42" fill="#feeca2" shape-rendering="crispEdges"/>
<rect x="135.75" y="381.67" width="19.8" height="4.42" fill="#feeca2" shape-rendering="crispEdges"/>
<rect x="155.5" y="381.67" width="19.8" height="4.42" fill="#d6ecf4" shape-rendering="crispEdges"/>
<rect x="175.25" y="381.67" width="19.8" height="4.42" fill="#6b9ac8" shape-rendering="crispEdges"/>
<rect x="37" y="386.04" width="19.8" height="4.42" fill="#fee496" shape-rendering="crispEdges"/>
<rect x="56.75" y="386.04" width="19.8" height="4.42" fill="#fed88b" shape-rendering="crispEdges"/>
<rect x="76.5" y="386.04" width="19.8" height="4.42" fill="#f3fad4" shape-rendering="crispEdges"/>
<rect x="96.25" y="386.04" width="19.8" height="4.42" fill="#fee89c" shape-rendering="crispEdges"/>
<rect x="116" y="386.04" width="19.8" height="4.42" fill="#fed88b" shape-rendering="crispEdges"/>
<rect x="135.75" y="386.04" width="19.8" height="4.42" fill="#fee496" shape-rendering="crispEdges"/>
<rect x="155.5" y="386.04" width="19.8" height="4.42" fill="#f3fad4" shape-rendering="crispEdges"/>
<rect x="175.25" y="386.04" width="19.8" height="4.42" fill="#4575b4" shape-rendering="crispEdges"/>
<rect x="37" y="390.41" width="19.8" height="4.42" fill="#fee090" shape-rendering="crispEdges"/>
<rect x="56.75" y="390.41" width="19.8" height="4.42" fill="#fdb875" shape-rendering="crispEdges"/>
<rect x="76.5" y="390.41" width="19.8" height="4.42" fill="#f0f9dc" shape-rendering="crispEdges"/>
<rect x="96.25" y="390.41" width="19.8" height="4.42" fill="#feeca2" shape-rendering="crispEdges"/>
<rect x="116" y="390.41" width="19.8" height="4.42" fill="#fee89c" shape-rendering="crispEdges"/>
<rect x="135.75" y="390.41" width="19.8" height="4.42" fill="#fed88b" shape-rendering="crispEdges"/>
<rect x="155.5" y="390.41" width="19.8" height="4.42" fill="#f7fccd" shape-rendering="crispEdges"/>
<rect x="175.25" y="390.41" width="19.8" height="4.42" fill="#5887be" shape-rendering="crispEdges"/>
<rect x="37" y="394.78" width="19.8" height="4.42" fill="#fee89c" shape-rendering="crispEdges"/>
<rect x="56.75" y="394.78" width="19.8" height="4.42" fill="#fff3ad" shape-rendering="crispEdges"/>
<rect x="76.5" y="394.78" width="19.8" height="4.42" fill="#fed88b" shape-rendering="crispEdges"/>
<rect x="96.25" y="394.78" width="19.8" height="4.42" fill="#fed085" shape-rendering="crispEdges"/>
<rect x="116" y="394.78" width="19.8" height="4.42" fill="#fee496" shape-rendering="crispEdges"/>
<rect x="135.75" y="394.78" width="19.8" height="4.42" fill="#fff7b3" shape-rendering="crispEdges"/>
<rect x="155.5" y="394.78" width="19.8" height="4.42" fill="#fbfec6" shape-rendering="crispEdges"/>
<rect x="175.25" y="394.78" width="19.8" height="4.42" fill="#4575b4" shape-rendering="crispEdges"/>
<rect x="37" y="399.14" width="19.8" height="4.42" fill="#fdc07b" shape-rendering="crispEdges"/>
<rect x="56.75" y="399.14" width="19.8" height="4.42" fill="#fee090" shape-rendering="crispEdges"/>
<rect x="76.5" y="399.14" width="19.8" height="4.42" fill="#fee496" shape-rendering="crispEdges"/>
<rect x="96.25" y="399.14" width="19.8" height="4.42" fill="#fee496" shape-rendering="crispEdges"/>
<rect x="116" y="399.14" width="19.8" height="4.42" fill="#fee496" shape-rendering="crispEdges"/>
<rect x="135.75" y="399.14" width="19.8" height="4.42" fill="#fee89c" shape-rendering="crispEdges"/>
<rect x="155.5" y="399.14" width="19.8" height="4.42" fill="#c2e0ed" shape-rendering="crispEdges"/>
<rect x="175.25" y="399.14" width="19.8" height="4.42" fill="#6191c3" shape-rendering="crispEdges"/>
<rect x="37" y="403.51" width="19.8" height="4.42" fill="#fdc07b" shape-rendering="crispEdges"/>
<rect x="56.75" y="403.51" width="19.8" height="4.42" fill="#fee89c" shape-rendering="crispEdges"/>
<rect x="76.5" y="403.51" width="19.8" height="4.42" fill="#fee496" shape-rendering="crispEdges"/>
<rect x="96.25" y="403.51" width="19.8" height="4.42" fill="#fee89c" shape-rendering="crispEdges"/>
<rect x="116" y="403.51" width="19.8" height="4.42" fill="#fee496" shape-rendering="crispEdges"/>
<rect x="135.75" y="403.51" width="19.8" height="4.42" fill="#fee89c" shape-rendering="crispEdges"/>
<rect x="155.5" y="403.51" width="19.8" height="4.42" fill="#c2e0ed" shape-rendering="crispEdges"/>
<rect x="175.25" y="403.51" width="19.8" height="4.42" fill="#6191c3" shape-rendering="crispEdges"/>
<rect x="37" y="407.88" width="19.8" height="4.42" fill="#fdb875" shape-rendering="crispEdges"/>
<rect x="56.75" y="407.88" width="19.8" height="4.42" fill="#fee89c" shape-rendering="crispEdges"/>
<rect x="76.5" y="407.88" width="19.8" height="4.42" fill="#fee496" shape-rendering="crispEdges"/>
<rect x="96.25" y="407.88" width="19.8" height="4.42" fill="#feeca2" shape-rendering="crispEdges"/>
<rect x="116" y="407.88" width="19.8" height="4.42" fill="#fee496" shape-rendering="crispEdges"/>
<rect x="135.75" y="407.88" width="19.8" height="4.42" fill="#fef0a8" shape-rendering="crispEdges"/>
<rect x="155.5" y="407.88" width="19.8" height="4.42" fill="#ecf8e3" shape-rendering="crispEdges"/>
<rect x="175.25" y="407.88" width="19.8" height="4.42" fill="#4f7eb9" shape-rendering="crispEdges"/>
<rect x="37" y="412.24" width="19.8" height="4.42" fill="#fdb875" shape-rendering="crispEdges"/>
<rect x="56.75" y="412.24" width="19.8" height="4.42" fill="#fee090" shape-rendering="crispEdges"/>
<rect x="76.5" y="412.24" width="19.8" height="4.42" fill="#fee89c" shape-rendering="crispEdges"/>
<rect x="96.25" y="412.24" width="19.8" height="4.42" fill="#fff3ad" shape-rendering="crispEdges"/>
<rect x="116" y="412.24" width="19.8" height="4.42" fill="#fee89c" shape-rendering="crispEdges"/>
<rect x="135.75" y="412.24" width="19.8" height="4.42" fill="#fee496" shape-rendering="crispEdges"/>
<rect x="155.5" y="412.24" width="19.8" height="4.42" fill="#e4f4f1" shape-rendering="crispEdges"/>
<rect x="175.25" y="412.24" width="19.8" height="4.42" fill="#5887be" shape-rendering="crispEdges"/>
<rect x="37" y="281.8" width="19.8" height="2.9" fill="#8bbd00"/>
<rect x="56.75" y="281.8" width="19.8" height="2.9" fill="#00cfdf"/>
<rect x="76.5" y="281.8" width="19.8" height="2.9" fill="#8bbd00"/>
<rect x="96.25" y="281.8" width="19.8" height="2.9" fill="#00cfdf"/>
<rect x="116" y="281.8" width="19.8" height="2.9" fill="#ff7d70"/>
<rect x="135.75" y="281.8" width="19.8" height="2.9" fill="#ff7d70"/>
<rect x="155.5" y="281.8" width="19.8" height="2.9" fill="#df8cff"/>
<rect x="175.25" y="281.8" width="19.8" height="2.9" fill="#df8cff"/>
<text x="196.9" y="289.23" font-size="4.3" fill="#000" stroke="#000" stroke-width="0.16">Adamts5</text>
<text x="196.9" y="293.6" font-size="4.3" fill="#000" stroke="#000" stroke-width="0.16">Itga11</text>
<text x="196.9" y="297.97" font-size="4.3" fill="#000" stroke="#000" stroke-width="0.16">Jam2</text>
<text x="196.9" y="302.33" font-size="4.3" fill="#000" stroke="#000" stroke-width="0.16">Thsd7a</text>
<text x="196.9" y="306.7" font-size="4.3" fill="#000" stroke="#000" stroke-width="0.16">Spon1</text>
<text x="196.9" y="311.07" font-size="4.3" fill="#000" stroke="#000" stroke-width="0.16">Ltbp2</text>
<text x="196.9" y="315.44" font-size="4.3" fill="#000" stroke="#000" stroke-width="0.16">Adamts4</text>
<text x="196.9" y="319.8" font-size="4.3" fill="#000" stroke="#000" stroke-width="0.16">Thbs2</text>
<text x="196.9" y="324.17" font-size="4.3" fill="#000" stroke="#000" stroke-width="0.16">Col24a1</text>
<text x="196.9" y="328.54" font-size="4.3" fill="#000" stroke="#000" stroke-width="0.16">Col14a1</text>
<text x="196.9" y="332.9" font-size="4.3" fill="#000" stroke="#000" stroke-width="0.16">Col1a1</text>
<text x="196.9" y="337.27" font-size="4.3" fill="#000" stroke="#000" stroke-width="0.16">Pofut2</text>
<text x="196.9" y="341.64" font-size="4.3" fill="#000" stroke="#000" stroke-width="0.16">Col3a1</text>
<text x="196.9" y="346" font-size="4.3" fill="#000" stroke="#000" stroke-width="0.16">Col13a1</text>
<text x="196.9" y="350.37" font-size="4.3" fill="#000" stroke="#000" stroke-width="0.16">Bmp1</text>
<text x="196.9" y="354.74" font-size="4.3" fill="#000" stroke="#000" stroke-width="0.16">Adamts1</text>
<text x="196.9" y="359.11" font-size="4.3" fill="#000" stroke="#000" stroke-width="0.16">Phykpl</text>
<text x="196.9" y="363.47" font-size="4.3" fill="#000" stroke="#000" stroke-width="0.16">Tnxb</text>
<text x="196.9" y="367.84" font-size="4.3" fill="#000" stroke="#000" stroke-width="0.16">Mfap2</text>
<text x="196.9" y="372.21" font-size="4.3" fill="#000" stroke="#000" stroke-width="0.16">Col15a1</text>
<text x="196.9" y="376.57" font-size="4.3" fill="#000" stroke="#000" stroke-width="0.16">Adamts2</text>
<text x="196.9" y="380.94" font-size="4.3" fill="#000" stroke="#000" stroke-width="0.16">Col6a3</text>
<text x="196.9" y="385.31" font-size="4.3" fill="#000" stroke="#000" stroke-width="0.16">Col1a2</text>
<text x="196.9" y="389.67" font-size="4.3" fill="#000" stroke="#000" stroke-width="0.16">Itga2</text>
<text x="196.9" y="394.04" font-size="4.3" fill="#000" stroke="#000" stroke-width="0.16">Col5a1</text>
<text x="196.9" y="398.41" font-size="4.3" fill="#000" stroke="#000" stroke-width="0.16">Itga8</text>
<text x="196.9" y="402.78" font-size="4.3" fill="#000" stroke="#000" stroke-width="0.16">Sparc</text>
<text x="196.9" y="407.14" font-size="4.3" fill="#000" stroke="#000" stroke-width="0.16">Pcolce</text>
<text x="196.9" y="411.51" font-size="4.3" fill="#000" stroke="#000" stroke-width="0.16">Pcolce2</text>
<text x="196.9" y="415.88" font-size="4.3" fill="#000" stroke="#000" stroke-width="0.16">Adamtsl4</text>
<text x="196.9" y="284.6" font-size="4.25" font-weight="bold">group</text>
<text x="45.27" y="418.1" font-size="6.3" fill="#000" stroke="#000" stroke-width="0.16" transform="rotate(90 45.27 418.1)">SF1</text>
<text x="65.03" y="418.1" font-size="6.3" fill="#000" stroke="#000" stroke-width="0.16" transform="rotate(90 65.03 418.1)">WF1</text>
<text x="84.78" y="418.1" font-size="6.3" fill="#000" stroke="#000" stroke-width="0.16" transform="rotate(90 84.78 418.1)">SF2</text>
<text x="104.53" y="418.1" font-size="6.3" fill="#000" stroke="#000" stroke-width="0.16" transform="rotate(90 104.53 418.1)">WF2</text>
<text x="124.28" y="418.1" font-size="6.3" fill="#000" stroke="#000" stroke-width="0.16" transform="rotate(90 124.28 418.1)">ST1</text>
<text x="144.03" y="418.1" font-size="6.3" fill="#000" stroke="#000" stroke-width="0.16" transform="rotate(90 144.03 418.1)">ST2</text>
<text x="163.78" y="418.1" font-size="6.3" fill="#000" stroke="#000" stroke-width="0.16" transform="rotate(90 163.78 418.1)">WT1</text>
<text x="183.53" y="418.1" font-size="6.3" fill="#000" stroke="#000" stroke-width="0.16" transform="rotate(90 183.53 418.1)">WT2</text>
<path d="M46.88 281.7V277.1H66.62V281.7" stroke="#222" stroke-width="0.55" fill="none"/>
<path d="M86.38 281.7V278.3H106.12V281.7" stroke="#222" stroke-width="0.55" fill="none"/>
<path d="M125.88 281.7V277.7H145.62V281.7" stroke="#222" stroke-width="0.55" fill="none"/>
<path d="M165.38 281.7V271.4H185.12V281.7" stroke="#222" stroke-width="0.55" fill="none"/>
<path d="M96.25 278.3V273.3H135.75V277.7" stroke="#222" stroke-width="0.55" fill="none"/>
<path d="M56.75 277.1V271.4H116V273.3" stroke="#222" stroke-width="0.55" fill="none"/>
<path d="M86.38 271.4V257.4H175.25V271.4" stroke="#222" stroke-width="0.55" fill="none"/>
<line x1="33.5" y1="287.78" x2="36.9" y2="287.78" stroke="#222" stroke-width="0.5"/>
<line x1="33.5" y1="292.15" x2="36.9" y2="292.15" stroke="#222" stroke-width="0.5"/>
<line x1="33.5" y1="287.78" x2="33.5" y2="292.15" stroke="#222" stroke-width="0.5"/>
<line x1="30.6" y1="300.88" x2="36.9" y2="300.88" stroke="#222" stroke-width="0.5"/>
<line x1="30.6" y1="305.25" x2="36.9" y2="305.25" stroke="#222" stroke-width="0.5"/>
<line x1="30.6" y1="300.88" x2="30.6" y2="305.25" stroke="#222" stroke-width="0.5"/>
<line x1="29.5" y1="296.52" x2="36.9" y2="296.52" stroke="#222" stroke-width="0.5"/>
<line x1="29.5" y1="303.07" x2="30.6" y2="303.07" stroke="#222" stroke-width="0.5"/>
<line x1="29.5" y1="296.52" x2="29.5" y2="303.07" stroke="#222" stroke-width="0.5"/>
<line x1="25.2" y1="289.97" x2="33.5" y2="289.97" stroke="#222" stroke-width="0.5"/>
<line x1="25.2" y1="299.79" x2="29.5" y2="299.79" stroke="#222" stroke-width="0.5"/>
<line x1="25.2" y1="289.97" x2="25.2" y2="299.79" stroke="#222" stroke-width="0.5"/>
<line x1="34.9" y1="309.62" x2="36.9" y2="309.62" stroke="#222" stroke-width="0.5"/>
<line x1="34.9" y1="313.99" x2="36.9" y2="313.99" stroke="#222" stroke-width="0.5"/>
<line x1="34.9" y1="309.62" x2="34.9" y2="313.99" stroke="#222" stroke-width="0.5"/>
<line x1="34.5" y1="318.35" x2="36.9" y2="318.35" stroke="#222" stroke-width="0.5"/>
<line x1="34.5" y1="322.72" x2="36.9" y2="322.72" stroke="#222" stroke-width="0.5"/>
<line x1="34.5" y1="318.35" x2="34.5" y2="322.72" stroke="#222" stroke-width="0.5"/>
<line x1="34.5" y1="331.45" x2="36.9" y2="331.45" stroke="#222" stroke-width="0.5"/>
<line x1="34.5" y1="335.82" x2="36.9" y2="335.82" stroke="#222" stroke-width="0.5"/>
<line x1="34.5" y1="331.45" x2="34.5" y2="335.82" stroke="#222" stroke-width="0.5"/>
<line x1="33" y1="327.09" x2="36.9" y2="327.09" stroke="#222" stroke-width="0.5"/>
<line x1="33" y1="333.64" x2="34.5" y2="333.64" stroke="#222" stroke-width="0.5"/>
<line x1="33" y1="327.09" x2="33" y2="333.64" stroke="#222" stroke-width="0.5"/>
<line x1="30.9" y1="320.54" x2="34.5" y2="320.54" stroke="#222" stroke-width="0.5"/>
<line x1="30.9" y1="330.36" x2="33" y2="330.36" stroke="#222" stroke-width="0.5"/>
<line x1="30.9" y1="320.54" x2="30.9" y2="330.36" stroke="#222" stroke-width="0.5"/>
<line x1="30.2" y1="311.8" x2="34.9" y2="311.8" stroke="#222" stroke-width="0.5"/>
<line x1="30.2" y1="325.45" x2="30.9" y2="325.45" stroke="#222" stroke-width="0.5"/>
<line x1="30.2" y1="311.8" x2="30.2" y2="325.45" stroke="#222" stroke-width="0.5"/>
<line x1="31.6" y1="340.19" x2="36.9" y2="340.19" stroke="#222" stroke-width="0.5"/>
<line x1="31.6" y1="344.55" x2="36.9" y2="344.55" stroke="#222" stroke-width="0.5"/>
<line x1="31.6" y1="340.19" x2="31.6" y2="344.55" stroke="#222" stroke-width="0.5"/>
<line x1="33" y1="348.92" x2="36.9" y2="348.92" stroke="#222" stroke-width="0.5"/>
<line x1="33" y1="353.29" x2="36.9" y2="353.29" stroke="#222" stroke-width="0.5"/>
<line x1="33" y1="348.92" x2="33" y2="353.29" stroke="#222" stroke-width="0.5"/>
<line x1="33.8" y1="357.66" x2="36.9" y2="357.66" stroke="#222" stroke-width="0.5"/>
<line x1="33.8" y1="362.02" x2="36.9" y2="362.02" stroke="#222" stroke-width="0.5"/>
<line x1="33.8" y1="357.66" x2="33.8" y2="362.02" stroke="#222" stroke-width="0.5"/>
<line x1="30.9" y1="351.11" x2="33" y2="351.11" stroke="#222" stroke-width="0.5"/>
<line x1="30.9" y1="359.84" x2="33.8" y2="359.84" stroke="#222" stroke-width="0.5"/>
<line x1="30.9" y1="351.11" x2="30.9" y2="359.84" stroke="#222" stroke-width="0.5"/>
<line x1="34.5" y1="366.39" x2="36.9" y2="366.39" stroke="#222" stroke-width="0.5"/>
<line x1="34.5" y1="370.76" x2="36.9" y2="370.76" stroke="#222" stroke-width="0.5"/>
<line x1="34.5" y1="366.39" x2="34.5" y2="370.76" stroke="#222" stroke-width="0.5"/>
<line x1="35.2" y1="379.49" x2="36.9" y2="379.49" stroke="#222" stroke-width="0.5"/>
<line x1="35.2" y1="383.86" x2="36.9" y2="383.86" stroke="#222" stroke-width="0.5"/>
<line x1="35.2" y1="379.49" x2="35.2" y2="383.86" stroke="#222" stroke-width="0.5"/>
<line x1="34.2" y1="375.12" x2="36.9" y2="375.12" stroke="#222" stroke-width="0.5"/>
<line x1="34.2" y1="381.67" x2="35.2" y2="381.67" stroke="#222" stroke-width="0.5"/>
<line x1="34.2" y1="375.12" x2="34.2" y2="381.67" stroke="#222" stroke-width="0.5"/>
<line x1="33" y1="368.57" x2="34.5" y2="368.57" stroke="#222" stroke-width="0.5"/>
<line x1="33" y1="378.4" x2="34.2" y2="378.4" stroke="#222" stroke-width="0.5"/>
<line x1="33" y1="368.57" x2="33" y2="378.4" stroke="#222" stroke-width="0.5"/>
<line x1="33" y1="388.22" x2="36.9" y2="388.22" stroke="#222" stroke-width="0.5"/>
<line x1="33" y1="392.59" x2="36.9" y2="392.59" stroke="#222" stroke-width="0.5"/>
<line x1="33" y1="388.22" x2="33" y2="392.59" stroke="#222" stroke-width="0.5"/>
<line x1="30.9" y1="373.49" x2="33" y2="373.49" stroke="#222" stroke-width="0.5"/>
<line x1="30.9" y1="390.41" x2="33" y2="390.41" stroke="#222" stroke-width="0.5"/>
<line x1="30.9" y1="373.49" x2="30.9" y2="390.41" stroke="#222" stroke-width="0.5"/>
<line x1="34.9" y1="401.33" x2="36.9" y2="401.33" stroke="#222" stroke-width="0.5"/>
<line x1="34.9" y1="405.69" x2="36.9" y2="405.69" stroke="#222" stroke-width="0.5"/>
<line x1="34.9" y1="401.33" x2="34.9" y2="405.69" stroke="#222" stroke-width="0.5"/>
<line x1="34.9" y1="410.06" x2="36.9" y2="410.06" stroke="#222" stroke-width="0.5"/>
<line x1="34.9" y1="414.43" x2="36.9" y2="414.43" stroke="#222" stroke-width="0.5"/>
<line x1="34.9" y1="410.06" x2="34.9" y2="414.43" stroke="#222" stroke-width="0.5"/>
<line x1="33.8" y1="403.51" x2="34.9" y2="403.51" stroke="#222" stroke-width="0.5"/>
<line x1="33.8" y1="412.24" x2="34.9" y2="412.24" stroke="#222" stroke-width="0.5"/>
<line x1="33.8" y1="403.51" x2="33.8" y2="412.24" stroke="#222" stroke-width="0.5"/>
<line x1="29.5" y1="396.96" x2="36.9" y2="396.96" stroke="#222" stroke-width="0.5"/>
<line x1="29.5" y1="407.88" x2="33.8" y2="407.88" stroke="#222" stroke-width="0.5"/>
<line x1="29.5" y1="396.96" x2="29.5" y2="407.88" stroke="#222" stroke-width="0.5"/>
<line x1="27.3" y1="381.95" x2="30.9" y2="381.95" stroke="#222" stroke-width="0.5"/>
<line x1="27.3" y1="402.42" x2="29.5" y2="402.42" stroke="#222" stroke-width="0.5"/>
<line x1="27.3" y1="381.95" x2="27.3" y2="402.42" stroke="#222" stroke-width="0.5"/>
<line x1="25.9" y1="355.47" x2="30.9" y2="355.47" stroke="#222" stroke-width="0.5"/>
<line x1="25.9" y1="392.18" x2="27.3" y2="392.18" stroke="#222" stroke-width="0.5"/>
<line x1="25.9" y1="355.47" x2="25.9" y2="392.18" stroke="#222" stroke-width="0.5"/>
<line x1="25.2" y1="342.37" x2="31.6" y2="342.37" stroke="#222" stroke-width="0.5"/>
<line x1="25.2" y1="373.83" x2="25.9" y2="373.83" stroke="#222" stroke-width="0.5"/>
<line x1="25.2" y1="342.37" x2="25.2" y2="373.83" stroke="#222" stroke-width="0.5"/>
<line x1="23.3" y1="318.63" x2="30.2" y2="318.63" stroke="#222" stroke-width="0.5"/>
<line x1="23.3" y1="358.1" x2="25.2" y2="358.1" stroke="#222" stroke-width="0.5"/>
<line x1="23.3" y1="318.63" x2="23.3" y2="358.1" stroke="#222" stroke-width="0.5"/>
<line x1="13.4" y1="294.88" x2="25.2" y2="294.88" stroke="#222" stroke-width="0.5"/>
<line x1="13.4" y1="338.36" x2="23.3" y2="338.36" stroke="#222" stroke-width="0.5"/>
<line x1="13.4" y1="294.88" x2="13.4" y2="338.36" stroke="#222" stroke-width="0.5"/>
<defs><linearGradient id="gc" x1="0" y1="1" x2="0" y2="0"><stop offset="0" stop-color="#4575b4"/><stop offset="0.17" stop-color="#91bfdb"/><stop offset="0.33" stop-color="#e0f3f8"/><stop offset="0.5" stop-color="#ffffbf"/><stop offset="0.67" stop-color="#fee090"/><stop offset="0.83" stop-color="#fc8d59"/><stop offset="1" stop-color="#d73027"/></linearGradient></defs>
<rect x="216.2" y="281" width="4.7" height="67" fill="url(#gc)"/>
<text x="222.6" y="287.5" font-size="4.3" fill="#000" stroke="#000" stroke-width="0.16">2</text>
<text x="222.6" y="301.5" font-size="4.3" fill="#000" stroke="#000" stroke-width="0.16">1</text>
<text x="222.6" y="316.2" font-size="4.3" fill="#000" stroke="#000" stroke-width="0.16">0</text>
<text x="222.6" y="330.8" font-size="4.3" fill="#000" stroke="#000" stroke-width="0.16">−1</text>
<text x="222.6" y="345.2" font-size="4.3" fill="#000" stroke="#000" stroke-width="0.16">−2</text>
<text x="225.8" y="282.8" font-size="4.25" font-weight="bold">group</text>
<rect x="225.8" y="284" width="4" height="4" fill="#8bbd00"/>
<text x="230.8" y="287.5" font-size="4.35" fill="#000" stroke="#000" stroke-width="0.16">ScrambleF</text>
<rect x="225.8" y="288" width="4" height="4" fill="#ff7d70"/>
<text x="230.8" y="291.5" font-size="4.35" fill="#000" stroke="#000" stroke-width="0.16">ScrambleT</text>
<rect x="225.8" y="292" width="4" height="4" fill="#00cfdf"/>
<text x="230.8" y="295.5" font-size="4.35" fill="#000" stroke="#000" stroke-width="0.16">shWnt5aF</text>
<rect x="225.8" y="296" width="4" height="4" fill="#df8cff"/>
<text x="230.8" y="299.5" font-size="4.35" fill="#000" stroke="#000" stroke-width="0.16">shWnt5aT</text>
</g>
<g id="pd">
<text x="259.2" y="270.3" font-size="16.8" font-weight="bold">d</text>
<line x1="282.4" y1="283.85" x2="282.4" y2="361.3" stroke="#000" stroke-width="0.8"/>
<line x1="280.3" y1="284.25" x2="282.4" y2="284.25" stroke="#000" stroke-width="0.8"/>
<text x="279.8" y="287.25" font-size="8.4" text-anchor="end" font-weight="bold">1.5</text>
<line x1="280.3" y1="309.8" x2="282.4" y2="309.8" stroke="#000" stroke-width="0.8"/>
<text x="279.8" y="312.8" font-size="8.4" text-anchor="end" font-weight="bold">1.0</text>
<line x1="280.3" y1="335.35" x2="282.4" y2="335.35" stroke="#000" stroke-width="0.8"/>
<text x="279.8" y="338.35" font-size="8.4" text-anchor="end" font-weight="bold">0.5</text>
<line x1="280.3" y1="360.9" x2="282.4" y2="360.9" stroke="#000" stroke-width="0.8"/>
<text x="279.8" y="363.9" font-size="8.4" text-anchor="end" font-weight="bold">0.0</text>
<text x="263.6" y="329" font-size="8.3" text-anchor="middle" font-weight="bold" transform="rotate(-90 263.6 329)">Relative mRNA expression</text>
<text x="316" y="275.8" font-size="8.3" text-anchor="middle" font-style="italic" fill="#222" stroke="#222" stroke-width="0.15">Sparc</text>
<rect x="288.68" y="309.08" width="9.71" height="51.82" fill="#fbfbfb" stroke="#000" stroke-width="0.8"/>
<line x1="293.54" y1="302.21" x2="293.54" y2="315.21" stroke="#000" stroke-width="0.7"/>
<line x1="290.14" y1="302.21" x2="296.94" y2="302.21" stroke="#000" stroke-width="0.7"/>
<line x1="290.14" y1="315.21" x2="296.94" y2="315.21" stroke="#000" stroke-width="0.7"/>
<line x1="293.54" y1="360.9" x2="293.54" y2="362.5" stroke="#000" stroke-width="0.6"/>
<rect x="302.41" y="321.34" width="9.86" height="39.56" fill="#fbfbfb" stroke="#000" stroke-width="0.8"/>
<line x1="307.34" y1="318.42" x2="307.34" y2="323.24" stroke="#000" stroke-width="0.7"/>
<line x1="303.94" y1="318.42" x2="310.74" y2="318.42" stroke="#000" stroke-width="0.7"/>
<line x1="303.94" y1="323.24" x2="310.74" y2="323.24" stroke="#000" stroke-width="0.7"/>
<line x1="307.34" y1="360.9" x2="307.34" y2="362.5" stroke="#000" stroke-width="0.6"/>
<rect x="316.71" y="320.75" width="9.71" height="40.15" fill="#fbfbfb" stroke="#000" stroke-width="0.8"/>
<line x1="321.57" y1="317.1" x2="321.57" y2="324.26" stroke="#000" stroke-width="0.7"/>
<line x1="318.17" y1="317.1" x2="324.97" y2="317.1" stroke="#000" stroke-width="0.7"/>
<line x1="318.17" y1="324.26" x2="324.97" y2="324.26" stroke="#000" stroke-width="0.7"/>
<line x1="321.57" y1="360.9" x2="321.57" y2="362.5" stroke="#000" stroke-width="0.6"/>
<rect x="330.14" y="350.54" width="10.15" height="10.36" fill="#fbfbfb" stroke="#000" stroke-width="0.8"/>
<line x1="335.22" y1="349.81" x2="335.22" y2="351.26" stroke="#000" stroke-width="0.7"/>
<line x1="331.82" y1="349.81" x2="338.62" y2="349.81" stroke="#000" stroke-width="0.7"/>
<line x1="331.82" y1="351.26" x2="338.62" y2="351.26" stroke="#000" stroke-width="0.7"/>
<line x1="335.22" y1="360.9" x2="335.22" y2="362.5" stroke="#000" stroke-width="0.6"/>
<line x1="282.4" y1="360.9" x2="346.2" y2="360.9" stroke="#000" stroke-width="0.9"/>
<circle cx="293.69" cy="291.85" r="1.15" fill="#000"/>
<circle cx="293.69" cy="307.91" r="1.15" fill="#000"/>
<circle cx="293.69" cy="315.94" r="1.15" fill="#000"/>
<circle cx="293.69" cy="320.32" r="1.15" fill="#000"/>
<circle cx="305.36" cy="318.13" r="1.15" fill="#0a6cf0"/>
<circle cx="309.74" cy="315.94" r="1.15" fill="#0a6cf0"/>
<circle cx="305.36" cy="322.51" r="1.15" fill="#0a6cf0"/>
<circle cx="307.26" cy="327.91" r="1.15" fill="#0a6cf0"/>
<circle cx="321.42" cy="310.83" r="1.15" fill="#9a9a9a"/>
<circle cx="321.42" cy="312.43" r="1.15" fill="#9a9a9a"/>
<circle cx="319.23" cy="320.32" r="1.15" fill="#9a9a9a"/>
<circle cx="323.61" cy="321.05" r="1.15" fill="#9a9a9a"/>
<circle cx="321.42" cy="328.35" r="1.15" fill="#9a9a9a"/>
<circle cx="321.42" cy="332.29" r="1.15" fill="#9a9a9a"/>
<circle cx="331.64" cy="349.95" r="1.15" fill="#0fa55a"/>
<circle cx="333.83" cy="348.93" r="1.15" fill="#0fa55a"/>
<circle cx="336.02" cy="349.95" r="1.15" fill="#0fa55a"/>
<circle cx="338.21" cy="349.22" r="1.15" fill="#0fa55a"/>
<circle cx="339.67" cy="349.81" r="1.15" fill="#0fa55a"/>
<circle cx="335" cy="350.97" r="1.15" fill="#0fa55a"/>
<text x="319.96" y="288.73" font-size="8.35" text-anchor="middle" font-weight="bold">0.0001</text>
<path d="M307.55 293.39V290.99H335.58V293.39" stroke="#000" stroke-width="0.7" fill="none"/>
<text x="322.88" y="302.31" font-size="8.35" text-anchor="middle" font-weight="bold">2.31e-05</text>
<path d="M321.42 306.09V303.69H335.58V306.09" stroke="#000" stroke-width="0.7" fill="none"/>
<text x="293.54" y="369.8" font-size="8.2" text-anchor="middle" font-weight="bold">Fel</text>
<text x="307.34" y="369.8" font-size="8.2" text-anchor="middle" font-weight="bold">Inj</text>
<text x="321.57" y="369.8" font-size="8.2" text-anchor="middle" font-weight="bold">Fel</text>
<text x="335.22" y="369.8" font-size="8.2" text-anchor="middle" font-weight="bold">Inj</text>
<line x1="290.04" y1="372" x2="308.34" y2="372" stroke="#000" stroke-width="0.7"/>
<line x1="318.07" y1="372" x2="336.72" y2="372" stroke="#000" stroke-width="0.7"/>
<text x="269.44" y="385.3" font-size="8.5" font-weight="bold" transform="rotate(-10 269.44 385.3)">Scramble</text>
<text x="304.07" y="386.6" font-size="8.5" font-weight="bold" transform="rotate(-10 304.07 386.6)">sh<tspan font-style="italic">Wnt5a</tspan></text>
<text x="382.3" y="275.8" font-size="8.3" text-anchor="middle" font-style="italic" fill="#222" stroke="#222" stroke-width="0.15">Adamts2</text>
<rect x="356.17" y="309.08" width="10" height="51.82" fill="#fbfbfb" stroke="#000" stroke-width="0.8"/>
<line x1="361.17" y1="304.26" x2="361.17" y2="313.75" stroke="#000" stroke-width="0.7"/>
<line x1="357.77" y1="304.26" x2="364.57" y2="304.26" stroke="#000" stroke-width="0.7"/>
<line x1="357.77" y1="313.75" x2="364.57" y2="313.75" stroke="#000" stroke-width="0.7"/>
<line x1="361.17" y1="360.9" x2="361.17" y2="362.5" stroke="#000" stroke-width="0.6"/>
<rect x="370.04" y="321.05" width="10" height="39.85" fill="#fbfbfb" stroke="#000" stroke-width="0.8"/>
<line x1="375.04" y1="317.69" x2="375.04" y2="323.97" stroke="#000" stroke-width="0.7"/>
<line x1="371.64" y1="317.69" x2="378.44" y2="317.69" stroke="#000" stroke-width="0.7"/>
<line x1="371.64" y1="323.97" x2="378.44" y2="323.97" stroke="#000" stroke-width="0.7"/>
<line x1="375.04" y1="360.9" x2="375.04" y2="362.5" stroke="#000" stroke-width="0.6"/>
<rect x="383.76" y="327.32" width="10.15" height="33.58" fill="#fbfbfb" stroke="#000" stroke-width="0.8"/>
<line x1="388.83" y1="325.43" x2="388.83" y2="329.08" stroke="#000" stroke-width="0.7"/>
<line x1="385.43" y1="325.43" x2="392.23" y2="325.43" stroke="#000" stroke-width="0.7"/>
<line x1="385.43" y1="329.08" x2="392.23" y2="329.08" stroke="#000" stroke-width="0.7"/>
<line x1="388.83" y1="360.9" x2="388.83" y2="362.5" stroke="#000" stroke-width="0.6"/>
<rect x="397.63" y="351.26" width="10.29" height="9.64" fill="#fbfbfb" stroke="#000" stroke-width="0.8"/>
<line x1="402.77" y1="350.24" x2="402.77" y2="352.43" stroke="#000" stroke-width="0.7"/>
<line x1="399.37" y1="350.24" x2="406.17" y2="350.24" stroke="#000" stroke-width="0.7"/>
<line x1="399.37" y1="352.43" x2="406.17" y2="352.43" stroke="#000" stroke-width="0.7"/>
<line x1="402.77" y1="360.9" x2="402.77" y2="362.5" stroke="#000" stroke-width="0.6"/>
<line x1="349.9" y1="360.9" x2="413.4" y2="360.9" stroke="#000" stroke-width="0.9"/>
<circle cx="361.17" cy="294.04" r="1.15" fill="#000"/>
<circle cx="361.17" cy="306.45" r="1.15" fill="#000"/>
<circle cx="361.17" cy="311.56" r="1.15" fill="#000"/>
<circle cx="361.17" cy="322.07" r="1.15" fill="#000"/>
<circle cx="375.04" cy="311.99" r="1.15" fill="#0a6cf0"/>
<circle cx="375.04" cy="315.94" r="1.15" fill="#0a6cf0"/>
<circle cx="373.28" cy="322.51" r="1.15" fill="#0a6cf0"/>
<circle cx="376.5" cy="323.24" r="1.15" fill="#0a6cf0"/>
<circle cx="375.04" cy="331.26" r="1.15" fill="#0a6cf0"/>
<circle cx="386.72" cy="323.24" r="1.15" fill="#9a9a9a"/>
<circle cx="391.09" cy="324.7" r="1.15" fill="#9a9a9a"/>
<circle cx="388.91" cy="326.89" r="1.15" fill="#9a9a9a"/>
<circle cx="388.91" cy="329.08" r="1.15" fill="#9a9a9a"/>
<circle cx="388.91" cy="333.16" r="1.15" fill="#9a9a9a"/>
<circle cx="402.77" cy="346.89" r="1.15" fill="#0fa55a"/>
<circle cx="401.02" cy="350.24" r="1.15" fill="#0fa55a"/>
<circle cx="404.23" cy="350.24" r="1.15" fill="#0fa55a"/>
<circle cx="400.15" cy="353.6" r="1.15" fill="#0fa55a"/>
<circle cx="404.23" cy="353.6" r="1.15" fill="#0fa55a"/>
<text x="390.36" y="289.17" font-size="8.35" text-anchor="middle" font-weight="bold">1.82e-05</text>
<path d="M374.6 293.68V291.28H403.07V293.68" stroke="#000" stroke-width="0.7" fill="none"/>
<text x="392.12" y="301.58" font-size="8.35" text-anchor="middle" font-weight="bold">0.0003</text>
<path d="M388.61 305.65V303.25H403.07V305.65" stroke="#000" stroke-width="0.7" fill="none"/>
<text x="361.17" y="369.8" font-size="8.2" text-anchor="middle" font-weight="bold">Fel</text>
<text x="375.04" y="369.8" font-size="8.2" text-anchor="middle" font-weight="bold">Inj</text>
<text x="388.83" y="369.8" font-size="8.2" text-anchor="middle" font-weight="bold">Fel</text>
<text x="402.77" y="369.8" font-size="8.2" text-anchor="middle" font-weight="bold">Inj</text>
<line x1="357.67" y1="372" x2="376.04" y2="372" stroke="#000" stroke-width="0.7"/>
<line x1="385.33" y1="372" x2="404.27" y2="372" stroke="#000" stroke-width="0.7"/>
<text x="338.07" y="385.3" font-size="8.5" font-weight="bold" transform="rotate(-10 338.07 385.3)">Scramble</text>
<text x="371.33" y="386.6" font-size="8.5" font-weight="bold" transform="rotate(-10 371.33 386.6)">sh<tspan font-style="italic">Wnt5a</tspan></text>
<text x="452.3" y="275.8" font-size="8.3" text-anchor="middle" font-style="italic" fill="#222" stroke="#222" stroke-width="0.15">Pcolce2</text>
<rect x="423.83" y="309.08" width="9.86" height="51.82" fill="#fbfbfb" stroke="#000" stroke-width="0.8"/>
<line x1="428.76" y1="304.26" x2="428.76" y2="313.45" stroke="#000" stroke-width="0.7"/>
<line x1="425.36" y1="304.26" x2="432.16" y2="304.26" stroke="#000" stroke-width="0.7"/>
<line x1="425.36" y1="313.45" x2="432.16" y2="313.45" stroke="#000" stroke-width="0.7"/>
<line x1="428.76" y1="360.9" x2="428.76" y2="362.5" stroke="#000" stroke-width="0.6"/>
<rect x="437.41" y="329.08" width="9.86" height="31.82" fill="#fbfbfb" stroke="#000" stroke-width="0.8"/>
<line x1="442.34" y1="327.62" x2="442.34" y2="330.54" stroke="#000" stroke-width="0.7"/>
<line x1="438.94" y1="327.62" x2="445.74" y2="327.62" stroke="#000" stroke-width="0.7"/>
<line x1="438.94" y1="330.54" x2="445.74" y2="330.54" stroke="#000" stroke-width="0.7"/>
<line x1="442.34" y1="360.9" x2="442.34" y2="362.5" stroke="#000" stroke-width="0.6"/>
<rect x="451.28" y="331.99" width="9.86" height="28.91" fill="#fbfbfb" stroke="#000" stroke-width="0.8"/>
<line x1="456.2" y1="330.1" x2="456.2" y2="333.75" stroke="#000" stroke-width="0.7"/>
<line x1="452.8" y1="330.1" x2="459.6" y2="330.1" stroke="#000" stroke-width="0.7"/>
<line x1="452.8" y1="333.75" x2="459.6" y2="333.75" stroke="#000" stroke-width="0.7"/>
<line x1="456.2" y1="360.9" x2="456.2" y2="362.5" stroke="#000" stroke-width="0.6"/>
<rect x="464.85" y="354.18" width="10.44" height="6.72" fill="#fbfbfb" stroke="#000" stroke-width="0.8"/>
<line x1="470.07" y1="352.87" x2="470.07" y2="355.35" stroke="#000" stroke-width="0.7"/>
<line x1="466.67" y1="352.87" x2="473.47" y2="352.87" stroke="#000" stroke-width="0.7"/>
<line x1="466.67" y1="355.35" x2="473.47" y2="355.35" stroke="#000" stroke-width="0.7"/>
<line x1="470.07" y1="360.9" x2="470.07" y2="362.5" stroke="#000" stroke-width="0.6"/>
<line x1="417.6" y1="360.9" x2="480.8" y2="360.9" stroke="#000" stroke-width="0.9"/>
<circle cx="428.54" cy="296.96" r="1.15" fill="#000"/>
<circle cx="428.54" cy="300.61" r="1.15" fill="#000"/>
<circle cx="428.54" cy="307.18" r="1.15" fill="#000"/>
<circle cx="426.35" cy="319.59" r="1.15" fill="#000"/>
<circle cx="430.44" cy="319.59" r="1.15" fill="#000"/>
<circle cx="439.93" cy="326.45" r="1.15" fill="#0a6cf0"/>
<circle cx="444.31" cy="326.16" r="1.15" fill="#0a6cf0"/>
<circle cx="440.66" cy="329.81" r="1.15" fill="#0a6cf0"/>
<circle cx="444.31" cy="330.24" r="1.15" fill="#0a6cf0"/>
<circle cx="439.93" cy="332.72" r="1.15" fill="#0a6cf0"/>
<circle cx="453.8" cy="328.05" r="1.15" fill="#9a9a9a"/>
<circle cx="458.91" cy="326.89" r="1.15" fill="#9a9a9a"/>
<circle cx="453.8" cy="333.16" r="1.15" fill="#9a9a9a"/>
<circle cx="458.18" cy="333.45" r="1.15" fill="#9a9a9a"/>
<circle cx="456.42" cy="336.08" r="1.15" fill="#9a9a9a"/>
<circle cx="469.85" cy="349.51" r="1.15" fill="#0fa55a"/>
<circle cx="467.66" cy="353.89" r="1.15" fill="#0fa55a"/>
<circle cx="472.04" cy="353.89" r="1.15" fill="#0fa55a"/>
<circle cx="468.39" cy="357.1" r="1.15" fill="#0fa55a"/>
<circle cx="472.04" cy="356.52" r="1.15" fill="#0fa55a"/>
<text x="458.61" y="289.17" font-size="8.35" text-anchor="middle" font-weight="bold">5.41e-06</text>
<path d="M442.12 293.68V291.28H470.58V293.68" stroke="#000" stroke-width="0.7" fill="none"/>
<text x="458.91" y="301.58" font-size="8.35" text-anchor="middle" font-weight="bold">0.0002</text>
<path d="M456.42 305.65V303.25H470.58V305.65" stroke="#000" stroke-width="0.7" fill="none"/>
<text x="428.76" y="369.8" font-size="8.2" text-anchor="middle" font-weight="bold">Fel</text>
<text x="442.34" y="369.8" font-size="8.2" text-anchor="middle" font-weight="bold">Inj</text>
<text x="456.2" y="369.8" font-size="8.2" text-anchor="middle" font-weight="bold">Fel</text>
<text x="470.07" y="369.8" font-size="8.2" text-anchor="middle" font-weight="bold">Inj</text>
<line x1="425.26" y1="372" x2="443.34" y2="372" stroke="#000" stroke-width="0.7"/>
<line x1="452.7" y1="372" x2="471.57" y2="372" stroke="#000" stroke-width="0.7"/>
<text x="406.86" y="385.3" font-size="8.5" font-weight="bold" transform="rotate(-10 406.86 385.3)">Scramble</text>
<text x="439.7" y="386.6" font-size="8.5" font-weight="bold" transform="rotate(-10 439.7 386.6)">sh<tspan font-style="italic">Wnt5a</tspan></text>
<text x="516.2" y="275.8" font-size="8.3" text-anchor="middle" font-style="italic" fill="#222" stroke="#222" stroke-width="0.15">Pcolce</text>
<rect x="490.81" y="309.08" width="10.59" height="51.82" fill="#fbfbfb" stroke="#000" stroke-width="0.8"/>
<line x1="496.1" y1="304.26" x2="496.1" y2="313.75" stroke="#000" stroke-width="0.7"/>
<line x1="492.7" y1="304.26" x2="499.5" y2="304.26" stroke="#000" stroke-width="0.7"/>
<line x1="492.7" y1="313.75" x2="499.5" y2="313.75" stroke="#000" stroke-width="0.7"/>
<line x1="496.1" y1="360.9" x2="496.1" y2="362.5" stroke="#000" stroke-width="0.6"/>
<rect x="504.68" y="328.35" width="10.59" height="32.55" fill="#fbfbfb" stroke="#000" stroke-width="0.8"/>
<line x1="509.97" y1="325.13" x2="509.97" y2="331.26" stroke="#000" stroke-width="0.7"/>
<line x1="506.57" y1="325.13" x2="513.37" y2="325.13" stroke="#000" stroke-width="0.7"/>
<line x1="506.57" y1="331.26" x2="513.37" y2="331.26" stroke="#000" stroke-width="0.7"/>
<line x1="509.97" y1="360.9" x2="509.97" y2="362.5" stroke="#000" stroke-width="0.6"/>
<rect x="518.55" y="327.62" width="10.59" height="33.28" fill="#fbfbfb" stroke="#000" stroke-width="0.8"/>
<line x1="523.84" y1="325.86" x2="523.84" y2="329.08" stroke="#000" stroke-width="0.7"/>
<line x1="520.44" y1="325.86" x2="527.24" y2="325.86" stroke="#000" stroke-width="0.7"/>
<line x1="520.44" y1="329.08" x2="527.24" y2="329.08" stroke="#000" stroke-width="0.7"/>
<line x1="523.84" y1="360.9" x2="523.84" y2="362.5" stroke="#000" stroke-width="0.6"/>
<rect x="532.71" y="349.81" width="10.59" height="11.09" fill="#fbfbfb" stroke="#000" stroke-width="0.8"/>
<line x1="538" y1="347.32" x2="538" y2="352.14" stroke="#000" stroke-width="0.7"/>
<line x1="534.6" y1="347.32" x2="541.4" y2="347.32" stroke="#000" stroke-width="0.7"/>
<line x1="534.6" y1="352.14" x2="541.4" y2="352.14" stroke="#000" stroke-width="0.7"/>
<line x1="538" y1="360.9" x2="538" y2="362.5" stroke="#000" stroke-width="0.6"/>
<line x1="485" y1="360.9" x2="548.8" y2="360.9" stroke="#000" stroke-width="0.9"/>
<circle cx="495.96" cy="299.88" r="1.15" fill="#000"/>
<circle cx="495.96" cy="313.02" r="1.15" fill="#000"/>
<circle cx="495.96" cy="314.77" r="1.15" fill="#000"/>
<circle cx="510.12" cy="322.8" r="1.15" fill="#0a6cf0"/>
<circle cx="510.12" cy="329.81" r="1.15" fill="#0a6cf0"/>
<circle cx="510.12" cy="332.29" r="1.15" fill="#0a6cf0"/>
<circle cx="520.34" cy="326.16" r="1.15" fill="#9a9a9a"/>
<circle cx="522.53" cy="326.89" r="1.15" fill="#9a9a9a"/>
<circle cx="525.45" cy="326.16" r="1.15" fill="#9a9a9a"/>
<circle cx="528.36" cy="323.97" r="1.15" fill="#9a9a9a"/>
<circle cx="523.99" cy="332.72" r="1.15" fill="#9a9a9a"/>
<circle cx="527.64" cy="327.32" r="1.15" fill="#9a9a9a"/>
<circle cx="537.85" cy="343.67" r="1.15" fill="#0fa55a"/>
<circle cx="537.85" cy="348.05" r="1.15" fill="#0fa55a"/>
<circle cx="535.66" cy="350.24" r="1.15" fill="#0fa55a"/>
<circle cx="540.04" cy="350.97" r="1.15" fill="#0fa55a"/>
<circle cx="535.66" cy="353.89" r="1.15" fill="#0fa55a"/>
<text x="523.55" y="289.17" font-size="8.35" text-anchor="middle" font-weight="bold">0.0004</text>
<path d="M509.39 293.68V291.28H537.85V293.68" stroke="#000" stroke-width="0.7" fill="none"/>
<text x="524.72" y="301.58" font-size="8.35" text-anchor="middle" font-weight="bold">7.61e-05</text>
<path d="M523.55 305.65V303.25H537.85V305.65" stroke="#000" stroke-width="0.7" fill="none"/>
<text x="496.1" y="369.8" font-size="8.2" text-anchor="middle" font-weight="bold">Fel</text>
<text x="509.97" y="369.8" font-size="8.2" text-anchor="middle" font-weight="bold">Inj</text>
<text x="523.84" y="369.8" font-size="8.2" text-anchor="middle" font-weight="bold">Fel</text>
<text x="538" y="369.8" font-size="8.2" text-anchor="middle" font-weight="bold">Inj</text>
<line x1="492.6" y1="372" x2="510.97" y2="372" stroke="#000" stroke-width="0.7"/>
<line x1="520.34" y1="372" x2="539.5" y2="372" stroke="#000" stroke-width="0.7"/>
<text x="474.6" y="385.3" font-size="8.5" font-weight="bold" transform="rotate(-10 474.6 385.3)">Scramble</text>
<text x="508.54" y="386.6" font-size="8.5" font-weight="bold" transform="rotate(-10 508.54 386.6)">sh<tspan font-style="italic">Wnt5a</tspan></text>
<text x="583" y="275.8" font-size="8.3" text-anchor="middle" font-style="italic" fill="#222" stroke="#222" stroke-width="0.15">Bmp1</text>
<rect x="558.54" y="307.62" width="10.59" height="53.28" fill="#fbfbfb" stroke="#000" stroke-width="0.8"/>
<line x1="563.83" y1="299.88" x2="563.83" y2="315.21" stroke="#000" stroke-width="0.7"/>
<line x1="560.43" y1="299.88" x2="567.23" y2="299.88" stroke="#000" stroke-width="0.7"/>
<line x1="560.43" y1="315.21" x2="567.23" y2="315.21" stroke="#000" stroke-width="0.7"/>
<line x1="563.83" y1="360.9" x2="563.83" y2="362.5" stroke="#000" stroke-width="0.6"/>
<rect x="572.41" y="323.97" width="10.59" height="36.93" fill="#fbfbfb" stroke="#000" stroke-width="0.8"/>
<line x1="577.7" y1="319.15" x2="577.7" y2="328.78" stroke="#000" stroke-width="0.7"/>
<line x1="574.3" y1="319.15" x2="581.1" y2="319.15" stroke="#000" stroke-width="0.7"/>
<line x1="574.3" y1="328.78" x2="581.1" y2="328.78" stroke="#000" stroke-width="0.7"/>
<line x1="577.7" y1="360.9" x2="577.7" y2="362.5" stroke="#000" stroke-width="0.6"/>
<rect x="586.71" y="331.26" width="10.15" height="29.64" fill="#fbfbfb" stroke="#000" stroke-width="0.8"/>
<line x1="591.79" y1="330.24" x2="591.79" y2="331.99" stroke="#000" stroke-width="0.7"/>
<line x1="588.39" y1="330.24" x2="595.19" y2="330.24" stroke="#000" stroke-width="0.7"/>
<line x1="588.39" y1="331.99" x2="595.19" y2="331.99" stroke="#000" stroke-width="0.7"/>
<line x1="591.79" y1="360.9" x2="591.79" y2="362.5" stroke="#000" stroke-width="0.6"/>
<rect x="600.58" y="349.22" width="10" height="11.68" fill="#fbfbfb" stroke="#000" stroke-width="0.8"/>
<line x1="605.58" y1="347.32" x2="605.58" y2="351.26" stroke="#000" stroke-width="0.7"/>
<line x1="602.18" y1="347.32" x2="608.98" y2="347.32" stroke="#000" stroke-width="0.7"/>
<line x1="602.18" y1="351.26" x2="608.98" y2="351.26" stroke="#000" stroke-width="0.7"/>
<line x1="605.58" y1="360.9" x2="605.58" y2="362.5" stroke="#000" stroke-width="0.6"/>
<line x1="553" y1="360.9" x2="616.5" y2="360.9" stroke="#000" stroke-width="0.9"/>
<circle cx="563.98" cy="289.37" r="1.15" fill="#000"/>
<circle cx="563.98" cy="291.85" r="1.15" fill="#000"/>
<circle cx="563.98" cy="310.1" r="1.15" fill="#000"/>
<circle cx="563.98" cy="317.69" r="1.15" fill="#000"/>
<circle cx="563.98" cy="329.37" r="1.15" fill="#000"/>
<circle cx="577.85" cy="310.83" r="1.15" fill="#0a6cf0"/>
<circle cx="577.85" cy="315.94" r="1.15" fill="#0a6cf0"/>
<circle cx="577.85" cy="324.7" r="1.15" fill="#0a6cf0"/>
<circle cx="577.85" cy="328.35" r="1.15" fill="#0a6cf0"/>
<circle cx="577.85" cy="336.08" r="1.15" fill="#0a6cf0"/>
<circle cx="588.8" cy="330.83" r="1.15" fill="#9a9a9a"/>
<circle cx="591.72" cy="329.81" r="1.15" fill="#9a9a9a"/>
<circle cx="595.36" cy="330.54" r="1.15" fill="#9a9a9a"/>
<circle cx="605.58" cy="344.4" r="1.15" fill="#0fa55a"/>
<circle cx="601.2" cy="352.14" r="1.15" fill="#0fa55a"/>
<circle cx="605.58" cy="350.97" r="1.15" fill="#0fa55a"/>
<circle cx="609.96" cy="352.14" r="1.15" fill="#0fa55a"/>
<text x="591.72" y="289.17" font-size="8.35" text-anchor="middle" font-weight="bold">0.0143</text>
<path d="M577.41 293.68V291.28H605.58V293.68" stroke="#000" stroke-width="0.7" fill="none"/>
<text x="593.61" y="301.58" font-size="8.35" text-anchor="middle" font-weight="bold">0.0002</text>
<path d="M591.42 305.65V303.25H605.58V305.65" stroke="#000" stroke-width="0.7" fill="none"/>
<text x="563.83" y="369.8" font-size="8.2" text-anchor="middle" font-weight="bold">Fel</text>
<text x="577.7" y="369.8" font-size="8.2" text-anchor="middle" font-weight="bold">Inj</text>
<text x="591.79" y="369.8" font-size="8.2" text-anchor="middle" font-weight="bold">Fel</text>
<text x="605.58" y="369.8" font-size="8.2" text-anchor="middle" font-weight="bold">Inj</text>
<line x1="560.33" y1="372" x2="578.7" y2="372" stroke="#000" stroke-width="0.7"/>
<line x1="588.29" y1="372" x2="607.08" y2="372" stroke="#000" stroke-width="0.7"/>
<text x="543.23" y="385.3" font-size="8.5" font-weight="bold" transform="rotate(-10 543.23 385.3)">Scramble</text>
<text x="575.89" y="386.6" font-size="8.5" font-weight="bold" transform="rotate(-10 575.89 386.6)">sh<tspan font-style="italic">Wnt5a</tspan></text>
<text x="652.4" y="275.8" font-size="8.3" text-anchor="middle" font-style="italic" fill="#222" stroke="#222" stroke-width="0.15">Itga2</text>
<rect x="626.89" y="308.74" width="10.24" height="52.16" fill="#fbfbfb" stroke="#000" stroke-width="0.8"/>
<line x1="632.01" y1="301.57" x2="632.01" y2="315.64" stroke="#000" stroke-width="0.7"/>
<line x1="628.61" y1="301.57" x2="635.41" y2="301.57" stroke="#000" stroke-width="0.7"/>
<line x1="628.61" y1="315.64" x2="635.41" y2="315.64" stroke="#000" stroke-width="0.7"/>
<line x1="632.01" y1="360.9" x2="632.01" y2="362.5" stroke="#000" stroke-width="0.6"/>
<rect x="640.69" y="316.61" width="10.52" height="44.29" fill="#fbfbfb" stroke="#000" stroke-width="0.8"/>
<line x1="645.95" y1="312.6" x2="645.95" y2="320.19" stroke="#000" stroke-width="0.7"/>
<line x1="642.55" y1="312.6" x2="649.35" y2="312.6" stroke="#000" stroke-width="0.7"/>
<line x1="642.55" y1="320.19" x2="649.35" y2="320.19" stroke="#000" stroke-width="0.7"/>
<line x1="645.95" y1="360.9" x2="645.95" y2="362.5" stroke="#000" stroke-width="0.6"/>
<rect x="654.63" y="331.51" width="10.24" height="29.39" fill="#fbfbfb" stroke="#000" stroke-width="0.8"/>
<line x1="659.75" y1="330.13" x2="659.75" y2="333.16" stroke="#000" stroke-width="0.7"/>
<line x1="656.35" y1="330.13" x2="663.15" y2="330.13" stroke="#000" stroke-width="0.7"/>
<line x1="656.35" y1="333.16" x2="663.15" y2="333.16" stroke="#000" stroke-width="0.7"/>
<line x1="659.75" y1="360.9" x2="659.75" y2="362.5" stroke="#000" stroke-width="0.6"/>
<rect x="668.7" y="348.48" width="10.24" height="12.42" fill="#fbfbfb" stroke="#000" stroke-width="0.8"/>
<line x1="673.82" y1="346.69" x2="673.82" y2="350.41" stroke="#000" stroke-width="0.7"/>
<line x1="670.42" y1="346.69" x2="677.22" y2="346.69" stroke="#000" stroke-width="0.7"/>
<line x1="670.42" y1="350.41" x2="677.22" y2="350.41" stroke="#000" stroke-width="0.7"/>
<line x1="673.82" y1="360.9" x2="673.82" y2="362.5" stroke="#000" stroke-width="0.6"/>
<line x1="621" y1="360.9" x2="685" y2="360.9" stroke="#000" stroke-width="0.9"/>
<circle cx="632.01" cy="296.32" r="1.15" fill="#000"/>
<circle cx="632.01" cy="298.81" r="1.15" fill="#000"/>
<circle cx="632.01" cy="314.26" r="1.15" fill="#000"/>
<circle cx="632.01" cy="325.58" r="1.15" fill="#000"/>
<circle cx="645.95" cy="307.36" r="1.15" fill="#0a6cf0"/>
<circle cx="645.95" cy="312.47" r="1.15" fill="#0a6cf0"/>
<circle cx="643.47" cy="323.51" r="1.15" fill="#0a6cf0"/>
<circle cx="648.3" cy="323.51" r="1.15" fill="#0a6cf0"/>
<circle cx="659.75" cy="326.4" r="1.15" fill="#9a9a9a"/>
<circle cx="657.96" cy="330.13" r="1.15" fill="#9a9a9a"/>
<circle cx="661.4" cy="329.44" r="1.15" fill="#9a9a9a"/>
<circle cx="659.75" cy="332.89" r="1.15" fill="#9a9a9a"/>
<circle cx="659.75" cy="336.34" r="1.15" fill="#9a9a9a"/>
<circle cx="673.82" cy="343.24" r="1.15" fill="#0fa55a"/>
<circle cx="673.82" cy="346.96" r="1.15" fill="#0fa55a"/>
<circle cx="669.41" cy="351.93" r="1.15" fill="#0fa55a"/>
<circle cx="677.96" cy="351.1" r="1.15" fill="#0fa55a"/>
<circle cx="673.82" cy="348.76" r="1.15" fill="#0fa55a"/>
<text x="658.92" y="289.11" font-size="8.35" text-anchor="middle" font-weight="bold">0.0078</text>
<path d="M645.54 293.34V290.94H673.82V293.34" stroke="#000" stroke-width="0.7" fill="none"/>
<text x="662.51" y="301.39" font-size="8.35" text-anchor="middle" font-weight="bold">0.0006</text>
<path d="M659.61 305.35V302.95H673.82V305.35" stroke="#000" stroke-width="0.7" fill="none"/>
<text x="632.01" y="369.8" font-size="8.2" text-anchor="middle" font-weight="bold">Fel</text>
<text x="645.95" y="369.8" font-size="8.2" text-anchor="middle" font-weight="bold">Inj</text>
<text x="659.75" y="369.8" font-size="8.2" text-anchor="middle" font-weight="bold">Fel</text>
<text x="673.82" y="369.8" font-size="8.2" text-anchor="middle" font-weight="bold">Inj</text>
<line x1="628.51" y1="372" x2="646.95" y2="372" stroke="#000" stroke-width="0.7"/>
<line x1="656.25" y1="372" x2="675.32" y2="372" stroke="#000" stroke-width="0.7"/>
<text x="610.11" y="385.3" font-size="8.5" font-weight="bold" transform="rotate(-10 610.11 385.3)">Scramble</text>
<text x="643.25" y="386.6" font-size="8.5" font-weight="bold" transform="rotate(-10 643.25 386.6)">sh<tspan font-style="italic">Wnt5a</tspan></text>
</g>
<g id="pe">
<text x="13.2" y="459" font-size="16.8" font-weight="bold">e</text>
<text x="94.3" y="456" font-size="8.6" font-weight="bold">Wnt5a<tspan font-size="5" dy="-3">+</tspan><tspan dy="3"> 1</tspan></text>
<path d="M90.05 472.59L125.09 476.09M90.05 472.59L155.92 493.96M90.05 472.59L176.94 523.04M90.05 472.59L184.65 557.73M90.05 472.59L155.92 620.8M90.05 472.59L125.09 638.67M90.05 472.59L90.05 642.17M90.05 472.59L55.71 631.31M90.05 472.59L14.72 575.6M90.05 472.59L14.72 539.86M90.05 472.59L29.78 507.27M90.05 472.59L55.71 483.8M90.05 472.59L85.49 517.08M90.05 472.59L112.12 517.08M90.05 472.59L133.15 532.5M90.05 472.59L141.56 557.73M90.05 472.59L112.12 598.37M90.05 472.59L85.49 598.37M90.05 472.59L55.71 557.73M90.05 472.59L64.12 532.5M125.09 476.09L155.92 493.96M125.09 476.09L176.94 523.04M125.09 476.09L184.65 557.73M125.09 476.09L176.94 592.42M125.09 476.09L155.92 620.8M125.09 476.09L125.09 638.67M125.09 476.09L90.05 642.17M125.09 476.09L55.71 631.31M125.09 476.09L14.72 575.6M125.09 476.09L14.72 539.86M125.09 476.09L29.78 507.27M125.09 476.09L55.71 483.8M125.09 476.09L85.49 517.08M125.09 476.09L112.12 517.08M125.09 476.09L133.15 532.5M125.09 476.09L141.56 557.73M125.09 476.09L133.15 582.61M125.09 476.09L112.12 598.37M125.09 476.09L85.49 598.37M125.09 476.09L64.12 582.61M125.09 476.09L55.71 557.73M125.09 476.09L64.12 532.5M155.92 493.96L176.94 523.04M155.92 493.96L155.92 620.8M155.92 493.96L125.09 638.67M155.92 493.96L55.71 631.31M155.92 493.96L14.72 575.6M155.92 493.96L14.72 539.86M155.92 493.96L29.78 507.27M155.92 493.96L55.71 483.8M155.92 493.96L85.49 517.08M155.92 493.96L112.12 517.08M155.92 493.96L133.15 532.5M155.92 493.96L141.56 557.73M155.92 493.96L112.12 598.37M155.92 493.96L85.49 598.37M155.92 493.96L64.12 582.61M155.92 493.96L55.71 557.73M155.92 493.96L64.12 532.5M176.94 523.04L155.92 620.8M176.94 523.04L90.05 642.17M176.94 523.04L55.71 631.31M176.94 523.04L14.72 575.6M176.94 523.04L55.71 483.8M176.94 523.04L85.49 517.08M176.94 523.04L112.12 517.08M176.94 523.04L133.15 532.5M176.94 523.04L141.56 557.73M176.94 523.04L133.15 582.61M176.94 523.04L112.12 598.37M176.94 523.04L85.49 598.37M176.94 523.04L64.12 582.61M176.94 523.04L55.71 557.73M176.94 523.04L64.12 532.5M184.65 557.73L125.09 638.67M184.65 557.73L90.05 642.17M184.65 557.73L55.71 631.31M184.65 557.73L55.71 483.8M184.65 557.73L85.49 517.08M184.65 557.73L112.12 517.08M184.65 557.73L133.15 582.61M184.65 557.73L112.12 598.37M184.65 557.73L85.49 598.37M184.65 557.73L64.12 582.61M184.65 557.73L55.71 557.73M176.94 592.42L155.92 620.8M176.94 592.42L125.09 638.67M176.94 592.42L55.71 631.31M176.94 592.42L133.15 532.5M176.94 592.42L64.12 582.61M176.94 592.42L55.71 557.73M176.94 592.42L64.12 532.5M155.92 620.8L125.09 638.67M155.92 620.8L90.05 642.17M155.92 620.8L55.71 631.31M155.92 620.8L14.72 575.6M155.92 620.8L14.72 539.86M155.92 620.8L29.78 507.27M155.92 620.8L55.71 483.8M155.92 620.8L85.49 517.08M155.92 620.8L112.12 517.08M155.92 620.8L133.15 532.5M155.92 620.8L141.56 557.73M155.92 620.8L133.15 582.61M155.92 620.8L112.12 598.37M155.92 620.8L85.49 598.37M155.92 620.8L64.12 582.61M155.92 620.8L55.71 557.73M155.92 620.8L64.12 532.5M125.09 638.67L90.05 642.17M125.09 638.67L55.71 631.31M125.09 638.67L29.78 507.27M125.09 638.67L55.71 483.8M125.09 638.67L85.49 517.08M125.09 638.67L112.12 517.08M125.09 638.67L133.15 532.5M125.09 638.67L141.56 557.73M125.09 638.67L112.12 598.37M125.09 638.67L85.49 598.37M125.09 638.67L55.71 557.73M125.09 638.67L64.12 532.5M90.05 642.17L55.71 631.31M90.05 642.17L14.72 575.6M90.05 642.17L14.72 539.86M90.05 642.17L55.71 483.8M90.05 642.17L85.49 517.08M90.05 642.17L112.12 517.08M90.05 642.17L133.15 532.5M90.05 642.17L141.56 557.73M90.05 642.17L133.15 582.61M90.05 642.17L112.12 598.37M90.05 642.17L85.49 598.37M90.05 642.17L64.12 582.61M90.05 642.17L55.71 557.73M90.05 642.17L64.12 532.5M55.71 631.31L14.72 539.86M55.71 631.31L29.78 507.27M55.71 631.31L55.71 483.8M55.71 631.31L85.49 517.08M55.71 631.31L112.12 517.08M55.71 631.31L133.15 532.5M55.71 631.31L141.56 557.73M55.71 631.31L133.15 582.61M55.71 631.31L112.12 598.37M55.71 631.31L85.49 598.37M55.71 631.31L64.12 582.61M55.71 631.31L55.71 557.73M14.72 575.6L14.72 539.86M14.72 575.6L29.78 507.27M14.72 575.6L112.12 517.08M14.72 575.6L133.15 532.5M14.72 575.6L141.56 557.73M14.72 575.6L133.15 582.61M14.72 575.6L112.12 598.37M14.72 575.6L85.49 598.37M14.72 575.6L64.12 582.61M14.72 575.6L55.71 557.73M14.72 575.6L64.12 532.5M14.72 539.86L29.78 507.27M14.72 539.86L55.71 483.8M14.72 539.86L85.49 517.08M14.72 539.86L112.12 517.08M14.72 539.86L133.15 532.5M14.72 539.86L141.56 557.73M14.72 539.86L133.15 582.61M14.72 539.86L112.12 598.37M14.72 539.86L85.49 598.37M14.72 539.86L64.12 582.61M14.72 539.86L55.71 557.73M14.72 539.86L64.12 532.5M29.78 507.27L85.49 517.08M29.78 507.27L112.12 517.08M29.78 507.27L141.56 557.73M29.78 507.27L133.15 582.61M29.78 507.27L112.12 598.37M29.78 507.27L85.49 598.37M29.78 507.27L64.12 582.61M29.78 507.27L55.71 557.73M29.78 507.27L64.12 532.5M55.71 483.8L85.49 517.08M55.71 483.8L133.15 532.5M55.71 483.8L141.56 557.73M55.71 483.8L133.15 582.61M55.71 483.8L112.12 598.37M55.71 483.8L85.49 598.37M55.71 483.8L55.71 557.73M55.71 483.8L64.12 532.5M85.49 517.08L112.12 517.08M85.49 517.08L133.15 532.5M85.49 517.08L141.56 557.73M85.49 517.08L133.15 582.61M85.49 517.08L112.12 598.37M85.49 517.08L85.49 598.37M85.49 517.08L64.12 582.61M85.49 517.08L55.71 557.73M85.49 517.08L64.12 532.5M112.12 517.08L133.15 532.5M112.12 517.08L141.56 557.73M112.12 517.08L133.15 582.61M112.12 517.08L112.12 598.37M112.12 517.08L85.49 598.37M112.12 517.08L64.12 582.61M112.12 517.08L55.71 557.73M112.12 517.08L64.12 532.5M133.15 532.5L141.56 557.73M133.15 532.5L133.15 582.61M133.15 532.5L112.12 598.37M133.15 532.5L85.49 598.37M133.15 532.5L64.12 582.61M133.15 532.5L55.71 557.73M133.15 532.5L64.12 532.5M141.56 557.73L133.15 582.61M141.56 557.73L112.12 598.37M141.56 557.73L85.49 598.37M141.56 557.73L64.12 582.61M141.56 557.73L55.71 557.73M141.56 557.73L64.12 532.5M133.15 582.61L112.12 598.37M133.15 582.61L85.49 598.37M133.15 582.61L64.12 582.61M133.15 582.61L55.71 557.73M133.15 582.61L64.12 532.5M112.12 598.37L85.49 598.37M112.12 598.37L64.12 582.61M112.12 598.37L55.71 557.73M112.12 598.37L64.12 532.5M85.49 598.37L64.12 582.61M85.49 598.37L55.71 557.73M85.49 598.37L64.12 532.5M64.12 582.61L55.71 557.73M64.12 582.61L64.12 532.5M55.71 557.73L64.12 532.5" stroke="#4646f0" stroke-width="0.36" fill="none" stroke-opacity="0.75"/>
<circle cx="90.05" cy="472.59" r="2.5" fill="#0404e6" stroke="#00007a" stroke-width="0.3"/>
<circle cx="125.09" cy="476.09" r="2.5" fill="#0404e6" stroke="#00007a" stroke-width="0.3"/>
<circle cx="155.92" cy="493.96" r="2.5" fill="#0404e6" stroke="#00007a" stroke-width="0.3"/>
<circle cx="176.94" cy="523.04" r="2.5" fill="#0404e6" stroke="#00007a" stroke-width="0.3"/>
<circle cx="184.65" cy="557.73" r="2.5" fill="#0404e6" stroke="#00007a" stroke-width="0.3"/>
<circle cx="176.94" cy="592.42" r="2.5" fill="#0404e6" stroke="#00007a" stroke-width="0.3"/>
<circle cx="155.92" cy="620.8" r="2.5" fill="#0404e6" stroke="#00007a" stroke-width="0.3"/>
<circle cx="125.09" cy="638.67" r="2.5" fill="#0404e6" stroke="#00007a" stroke-width="0.3"/>
<circle cx="90.05" cy="642.17" r="2.5" fill="#0404e6" stroke="#00007a" stroke-width="0.3"/>
<circle cx="55.71" cy="631.31" r="2.5" fill="#0404e6" stroke="#00007a" stroke-width="0.3"/>
<circle cx="29.78" cy="607.83" r="2.5" fill="#0404e6" stroke="#00007a" stroke-width="0.3"/>
<circle cx="14.72" cy="575.6" r="2.5" fill="#0404e6" stroke="#00007a" stroke-width="0.3"/>
<circle cx="14.72" cy="539.86" r="2.5" fill="#0404e6" stroke="#00007a" stroke-width="0.3"/>
<circle cx="29.78" cy="507.27" r="2.5" fill="#0404e6" stroke="#00007a" stroke-width="0.3"/>
<circle cx="55.71" cy="483.8" r="2.5" fill="#0404e6" stroke="#00007a" stroke-width="0.3"/>
<circle cx="85.49" cy="517.08" r="2.5" fill="#0404e6" stroke="#00007a" stroke-width="0.3"/>
<circle cx="112.12" cy="517.08" r="2.5" fill="#0404e6" stroke="#00007a" stroke-width="0.3"/>
<circle cx="133.15" cy="532.5" r="2.5" fill="#0404e6" stroke="#00007a" stroke-width="0.3"/>
<circle cx="141.56" cy="557.73" r="2.5" fill="#0404e6" stroke="#00007a" stroke-width="0.3"/>
<circle cx="133.15" cy="582.61" r="2.5" fill="#0404e6" stroke="#00007a" stroke-width="0.3"/>
<circle cx="112.12" cy="598.37" r="2.5" fill="#0404e6" stroke="#00007a" stroke-width="0.3"/>
<circle cx="85.49" cy="598.37" r="2.5" fill="#0404e6" stroke="#00007a" stroke-width="0.3"/>
<circle cx="64.12" cy="582.61" r="2.5" fill="#0404e6" stroke="#00007a" stroke-width="0.3"/>
<circle cx="55.71" cy="557.73" r="2.5" fill="#0404e6" stroke="#00007a" stroke-width="0.3"/>
<circle cx="64.12" cy="532.5" r="2.5" fill="#0404e6" stroke="#00007a" stroke-width="0.3"/>
<text x="101.61" y="470.63" font-size="7.3" font-style="italic" fill="#000" stroke="#000" stroke-width="0.16">Igfbp2</text>
<text x="136.65" y="474.84" font-size="7.3" font-style="italic" fill="#000" stroke="#000" stroke-width="0.16">Mgarp</text>
<text x="170.99" y="493.41" font-size="7.3" font-style="italic" fill="#000" stroke="#000" stroke-width="0.16">Lum</text>
<text x="188.16" y="522.14" font-size="7.3" font-style="italic" fill="#000" stroke="#000" stroke-width="0.16">Col6a1</text>
<text x="192.01" y="556.13" font-size="7.3" font-style="italic" fill="#000" stroke="#000" stroke-width="0.16">Laptm4a</text>
<text x="190.96" y="591.16" font-size="7.3" font-style="italic" fill="#000" stroke="#000" stroke-width="0.16">Atp5j</text>
<text x="169.24" y="620.25" font-size="7.3" font-style="italic" fill="#000" stroke="#000" stroke-width="0.16">Itm2c</text>
<text x="133.85" y="637.77" font-size="7.3" font-style="italic" fill="#000" stroke="#000" stroke-width="0.16">Selenok</text>
<text x="101.61" y="641.62" font-size="7.3" font-style="italic" fill="#000" stroke="#000" stroke-width="0.16">Mxra7</text>
<text x="66.92" y="630.41" font-size="7.3" font-style="italic" fill="#000" stroke="#000" stroke-width="0.16">Col5a2</text>
<text x="45.9" y="605.88" font-size="7.3" font-style="italic" fill="#000" stroke="#000" stroke-width="0.16">Bsg</text>
<text x="27.33" y="574.35" font-size="7.3" font-style="italic" fill="#000" stroke="#000" stroke-width="0.16">H3f3a</text>
<text x="25.93" y="537.91" font-size="7.3" font-style="italic" fill="#000" stroke="#000" stroke-width="0.16">Lamp1</text>
<text x="42.75" y="506.37" font-size="7.3" font-style="italic" fill="#000" stroke="#000" stroke-width="0.16">Fbln5</text>
<text x="67.97" y="482.54" font-size="7.3" font-style="italic" fill="#000" stroke="#000" stroke-width="0.16">Olfml3</text>
<text x="93.9" y="515.83" font-size="7.3" font-style="italic" fill="#000" stroke="#000" stroke-width="0.16">Serpinf1</text>
<text x="122.63" y="516.18" font-size="7.3" font-style="italic" fill="#000" stroke="#000" stroke-width="0.16">Col1a2</text>
<text x="148.91" y="531.6" font-size="7.3" font-style="italic" fill="#000" stroke="#000" stroke-width="0.16">Dcn</text>
<text x="154.52" y="556.13" font-size="7.3" font-style="italic" fill="#000" stroke="#000" stroke-width="0.16">Sparc</text>
<text x="146.46" y="581.7" font-size="7.3" font-style="italic" fill="#000" stroke="#000" stroke-width="0.16">Htra1</text>
<text x="122.63" y="597.12" font-size="7.3" font-style="italic" fill="#000" stroke="#000" stroke-width="0.16">Col6a3</text>
<text x="93.9" y="597.12" font-size="7.3" font-style="italic" fill="#000" stroke="#000" stroke-width="0.16">Col12a1</text>
<text x="74.98" y="581.7" font-size="7.3" font-style="italic" fill="#000" stroke="#000" stroke-width="0.16">Col1a1</text>
<text x="64.12" y="556.48" font-size="7.3" font-style="italic" fill="#000" stroke="#000" stroke-width="0.16">Tmem59</text>
<text x="73.23" y="531.6" font-size="7.3" font-style="italic" fill="#000" stroke="#000" stroke-width="0.16">Slc25a4</text>
</g>
<g id="pf">
<text x="269" y="413.8" font-size="16.8" font-weight="bold">f</text>
<line x1="324.6" y1="424.5" x2="414.7" y2="424.5" stroke="#e2e2e2" stroke-width="0.6"/>
<line x1="324.6" y1="450.3" x2="414.7" y2="450.3" stroke="#e2e2e2" stroke-width="0.6"/>
<line x1="324.6" y1="476.2" x2="414.7" y2="476.2" stroke="#e2e2e2" stroke-width="0.6"/>
<line x1="324.6" y1="501.8" x2="414.7" y2="501.8" stroke="#e2e2e2" stroke-width="0.6"/>
<line x1="324.6" y1="527.6" x2="414.7" y2="527.6" stroke="#e2e2e2" stroke-width="0.6"/>
<line x1="324.6" y1="553.5" x2="414.7" y2="553.5" stroke="#e2e2e2" stroke-width="0.6"/>
<line x1="324.6" y1="579.4" x2="414.7" y2="579.4" stroke="#e2e2e2" stroke-width="0.6"/>
<line x1="324.6" y1="605.2" x2="414.7" y2="605.2" stroke="#e2e2e2" stroke-width="0.6"/>
<line x1="324.6" y1="631.1" x2="414.7" y2="631.1" stroke="#e2e2e2" stroke-width="0.6"/>
<line x1="324.6" y1="656.9" x2="414.7" y2="656.9" stroke="#e2e2e2" stroke-width="0.6"/>
<line x1="330.4" y1="409.2" x2="330.4" y2="672.2" stroke="#e2e2e2" stroke-width="0.6"/>
<line x1="339.17" y1="409.2" x2="339.17" y2="672.2" stroke="#e2e2e2" stroke-width="0.35"/>
<line x1="347.94" y1="409.2" x2="347.94" y2="672.2" stroke="#e2e2e2" stroke-width="0.6"/>
<line x1="356.71" y1="409.2" x2="356.71" y2="672.2" stroke="#e2e2e2" stroke-width="0.35"/>
<line x1="365.48" y1="409.2" x2="365.48" y2="672.2" stroke="#e2e2e2" stroke-width="0.6"/>
<line x1="374.25" y1="409.2" x2="374.25" y2="672.2" stroke="#e2e2e2" stroke-width="0.35"/>
<line x1="383.02" y1="409.2" x2="383.02" y2="672.2" stroke="#e2e2e2" stroke-width="0.6"/>
<line x1="391.79" y1="409.2" x2="391.79" y2="672.2" stroke="#e2e2e2" stroke-width="0.35"/>
<line x1="400.56" y1="409.2" x2="400.56" y2="672.2" stroke="#e2e2e2" stroke-width="0.6"/>
<line x1="409.33" y1="409.2" x2="409.33" y2="672.2" stroke="#e2e2e2" stroke-width="0.35"/>
<rect x="324.6" y="409.2" width="90.1" height="263" fill="none" stroke="#7f7f7f" stroke-width="0.7"/>
<line x1="322.8" y1="424.5" x2="324.6" y2="424.5" stroke="#333" stroke-width="0.5"/>
<line x1="322.8" y1="450.3" x2="324.6" y2="450.3" stroke="#333" stroke-width="0.5"/>
<line x1="322.8" y1="476.2" x2="324.6" y2="476.2" stroke="#333" stroke-width="0.5"/>
<line x1="322.8" y1="501.8" x2="324.6" y2="501.8" stroke="#333" stroke-width="0.5"/>
<line x1="322.8" y1="527.6" x2="324.6" y2="527.6" stroke="#333" stroke-width="0.5"/>
<line x1="322.8" y1="553.5" x2="324.6" y2="553.5" stroke="#333" stroke-width="0.5"/>
<line x1="322.8" y1="579.4" x2="324.6" y2="579.4" stroke="#333" stroke-width="0.5"/>
<line x1="322.8" y1="605.2" x2="324.6" y2="605.2" stroke="#333" stroke-width="0.5"/>
<line x1="322.8" y1="631.1" x2="324.6" y2="631.1" stroke="#333" stroke-width="0.5"/>
<line x1="322.8" y1="656.9" x2="324.6" y2="656.9" stroke="#333" stroke-width="0.5"/>
<line x1="330.4" y1="672.2" x2="330.4" y2="674" stroke="#333" stroke-width="0.5"/>
<text x="330.4" y="679.4" font-size="5.8" text-anchor="middle" fill="#222">0.01</text>
<line x1="347.94" y1="672.2" x2="347.94" y2="674" stroke="#333" stroke-width="0.5"/>
<text x="347.94" y="679.4" font-size="5.8" text-anchor="middle" fill="#222">0.02</text>
<line x1="365.48" y1="672.2" x2="365.48" y2="674" stroke="#333" stroke-width="0.5"/>
<text x="365.48" y="679.4" font-size="5.8" text-anchor="middle" fill="#222">0.03</text>
<line x1="383.02" y1="672.2" x2="383.02" y2="674" stroke="#333" stroke-width="0.5"/>
<text x="383.02" y="679.4" font-size="5.8" text-anchor="middle" fill="#222">0.04</text>
<line x1="400.56" y1="672.2" x2="400.56" y2="674" stroke="#333" stroke-width="0.5"/>
<text x="400.56" y="679.4" font-size="5.8" text-anchor="middle" fill="#222">0.05</text>
<text x="369.4" y="686.8" font-size="5.8" text-anchor="middle" fill="#000" stroke="#000" stroke-width="0.16">GeneRatio</text>
<text x="321.7" y="423.4" font-size="5.92" text-anchor="end" fill="#000" stroke="#000" stroke-width="0.16">Extracellular matrix</text>
<text x="321.7" y="430.1" font-size="5.92" text-anchor="end" fill="#000" stroke="#000" stroke-width="0.16">organization</text>
<text x="321.7" y="452.4" font-size="5.92" text-anchor="end" fill="#000" stroke="#000" stroke-width="0.16">Macroautophagy</text>
<text x="321.7" y="478.3" font-size="5.92" text-anchor="end" fill="#000" stroke="#000" stroke-width="0.16">Autophagy</text>
<text x="321.7" y="504" font-size="5.92" text-anchor="end" fill="#000" stroke="#000" stroke-width="0.16">Collagen formation</text>
<text x="321.7" y="526.8" font-size="5.92" text-anchor="end" fill="#000" stroke="#000" stroke-width="0.16">Collagen biosynthesis and</text>
<text x="321.7" y="533.4" font-size="5.92" text-anchor="end" fill="#000" stroke="#000" stroke-width="0.16">modifying enzymes</text>
<text x="321.7" y="552.7" font-size="5.92" text-anchor="end" fill="#000" stroke="#000" stroke-width="0.16">Chondroitin sulfate/dermatan</text>
<text x="321.7" y="559.1" font-size="5.92" text-anchor="end" fill="#000" stroke="#000" stroke-width="0.16">sulfate metabolism</text>
<text x="321.7" y="581.4" font-size="5.92" text-anchor="end" fill="#000" stroke="#000" stroke-width="0.16">Collagen chain trimerization</text>
<text x="321.7" y="604.5" font-size="5.92" text-anchor="end" fill="#000" stroke="#000" stroke-width="0.16">Non−integrin membrane−ECM</text>
<text x="321.7" y="610.8" font-size="5.92" text-anchor="end" fill="#000" stroke="#000" stroke-width="0.16">interactions</text>
<text x="321.7" y="626.6" font-size="5.92" text-anchor="end" fill="#000" stroke="#000" stroke-width="0.16">A tetrasaccharide linker</text>
<text x="321.7" y="633" font-size="5.92" text-anchor="end" fill="#000" stroke="#000" stroke-width="0.16">sequence is required for GAG</text>
<text x="321.7" y="639.5" font-size="5.92" text-anchor="end" fill="#000" stroke="#000" stroke-width="0.16">synthesis</text>
<text x="321.7" y="649.5" font-size="5.92" text-anchor="end" fill="#000" stroke="#000" stroke-width="0.16">Transport of nucleosides and</text>
<text x="321.7" y="655.8" font-size="5.92" text-anchor="end" fill="#000" stroke="#000" stroke-width="0.16">free purine and pyrimidine</text>
<text x="321.7" y="662.2" font-size="5.92" text-anchor="end" fill="#000" stroke="#000" stroke-width="0.16">bases across the plasma</text>
<text x="321.7" y="668.6" font-size="5.92" text-anchor="end" fill="#000" stroke="#000" stroke-width="0.16">membrane</text>
<circle cx="410.5" cy="424.5" r="4.3" fill="#de5a60" stroke="#111" stroke-width="0.55"/>
<circle cx="373.3" cy="450.3" r="3.7" fill="#dc5a62" stroke="#111" stroke-width="0.55"/>
<circle cx="373.3" cy="476.2" r="3.7" fill="#dc5a62" stroke="#111" stroke-width="0.55"/>
<circle cx="358.2" cy="501.8" r="3.3" fill="#dc5a62" stroke="#111" stroke-width="0.55"/>
<circle cx="355.8" cy="527.6" r="3.1" fill="#de5a60" stroke="#111" stroke-width="0.55"/>
<circle cx="345.8" cy="553.5" r="3" fill="#c85a6a" stroke="#111" stroke-width="0.55"/>
<circle cx="340.8" cy="579.4" r="2.9" fill="#6a6aa8" stroke="#111" stroke-width="0.55"/>
<circle cx="338.1" cy="605.2" r="2.7" fill="#3f78bf" stroke="#111" stroke-width="0.55"/>
<circle cx="333.1" cy="631.1" r="2.4" fill="#2f7fd0" stroke="#111" stroke-width="0.55"/>
<circle cx="328.1" cy="656.9" r="1.7" fill="#c0587a" stroke="#111" stroke-width="0.55"/>
<text x="422.8" y="497" font-size="5.4" fill="#000" stroke="#000" stroke-width="0.16">p.adjust</text>
<rect x="423.2" y="500.1" width="8.6" height="42.3" fill="url(#gf)"/>
<text x="434" y="516.5" font-size="4.5" fill="#000" stroke="#000" stroke-width="0.16">0.01</text>
<line x1="423.2" y1="515" x2="424.9" y2="515" stroke="#fff" stroke-width="0.3"/>
<line x1="430.1" y1="515" x2="431.8" y2="515" stroke="#fff" stroke-width="0.3"/>
<text x="434" y="532.5" font-size="4.5" fill="#000" stroke="#000" stroke-width="0.16">0.02</text>
<line x1="423.2" y1="531" x2="424.9" y2="531" stroke="#fff" stroke-width="0.3"/>
<line x1="430.1" y1="531" x2="431.8" y2="531" stroke="#fff" stroke-width="0.3"/>
<text x="422.5" y="558.4" font-size="5.4" fill="#000" stroke="#000" stroke-width="0.16">Count</text>
<circle cx="427.7" cy="566.1" r="2.4" fill="#fff" stroke="#1a1a1a" stroke-width="0.45"/>
<text x="435.8" y="567.6" font-size="4.5" fill="#000" stroke="#000" stroke-width="0.16">10</text>
<circle cx="427.7" cy="574.8" r="3.1" fill="#fff" stroke="#1a1a1a" stroke-width="0.45"/>
<text x="435.8" y="576.3" font-size="4.5" fill="#000" stroke="#000" stroke-width="0.16">20</text>
<circle cx="427.7" cy="584.3" r="3.8" fill="#fff" stroke="#1a1a1a" stroke-width="0.45"/>
<text x="435.8" y="585.8" font-size="4.5" fill="#000" stroke="#000" stroke-width="0.16">30</text>
</g>
<g id="pg">
<text x="487.5" y="414" font-size="16.8" font-weight="bold">g</text>
<text x="534.4" y="408.4" font-size="8.62" font-weight="bold" fill="#231815">Scramble</text>
<text x="589" y="408.4" font-size="8.65" font-weight="bold" fill="#231815">sh<tspan font-style="italic">Wnt5a</tspan></text>
<line x1="534.6" y1="412.4" x2="574.2" y2="412.4" stroke="#231815" stroke-width="0.7"/>
<line x1="586.6" y1="412.4" x2="628" y2="412.4" stroke="#231815" stroke-width="0.7"/>
<text x="535.4" y="421.6" font-size="8.2" font-weight="bold" fill="#231815">Fel</text>
<text x="563.4" y="421.6" font-size="8.2" font-weight="bold" fill="#231815">Inj</text>
<text x="588.4" y="421.6" font-size="8.2" font-weight="bold" fill="#231815">Fel</text>
<text x="613.5" y="421.6" font-size="8.2" font-weight="bold" fill="#231815">Inj</text>
<text x="638" y="420.7" font-size="8.2" font-weight="bold" fill="#231815">kDa</text>
<defs><filter id="bl1" x="-20%" y="-50%" width="140%" height="200%"><feGaussianBlur stdDeviation="1.3 1.1"/></filter><filter id="bl2" x="-20%" y="-50%" width="140%" height="200%"><feGaussianBlur stdDeviation="2.2 2.5"/></filter><linearGradient id="gb1" x1="0" y1="0" x2="0" y2="1"><stop offset="0" stop-color="#e9e9e9"/><stop offset="1" stop-color="#dcdcdc"/></linearGradient><clipPath id="cb1"><rect x="529.4" y="425.9" width="102.6" height="27.4"/></clipPath><clipPath id="cb2"><rect x="529.4" y="457.9" width="102.6" height="28.3"/></clipPath><clipPath id="cb3"><rect x="529.4" y="490.4" width="102.6" height="27.9"/></clipPath></defs>
<rect x="529.4" y="425.9" width="102.6" height="27.4" fill="#e9e9e9"/>
<g clip-path="url(#cb1)">
<rect x="535.3" y="436.2" width="20.8" height="12.4" fill="#777" filter="url(#bl2)" opacity="0.45"/>
<rect x="559" y="435.5" width="20.3" height="13" fill="#777" filter="url(#bl2)" opacity="0.45"/>
<rect x="582.2" y="435.7" width="20.2" height="12" fill="#777" filter="url(#bl2)" opacity="0.45"/>
<rect x="608.2" y="436.4" width="16.8" height="8.6" fill="#777" filter="url(#bl2)" opacity="0.45"/>
<rect x="537.3" y="438.3" width="16.8" height="8.2" fill="#000" rx="4.1" filter="url(#bl1)" opacity="1"/>
<rect x="561" y="437.6" width="16.3" height="8.8" fill="#000" rx="4.4" filter="url(#bl1)" opacity="1"/>
<rect x="584.2" y="437.8" width="16.2" height="7.8" fill="#000" rx="3.9" filter="url(#bl1)" opacity="1"/>
<rect x="610.2" y="438.5" width="12.8" height="4.4" fill="#181818" rx="2.2" filter="url(#bl1)" opacity="0.9"/>
<circle cx="553.82" cy="440.81" r="0.3" fill="#555" opacity="0.6"/>
<circle cx="567.36" cy="442.45" r="0.3" fill="#555" opacity="0.6"/>
<circle cx="593.6" cy="427.7" r="0.3" fill="#555" opacity="0.6"/>
<circle cx="530.75" cy="448.85" r="0.3" fill="#555" opacity="0.6"/>
<circle cx="556.01" cy="432.32" r="0.3" fill="#555" opacity="0.6"/>
<circle cx="631.55" cy="438.79" r="0.3" fill="#555" opacity="0.6"/>
<circle cx="615.22" cy="438.95" r="0.3" fill="#555" opacity="0.6"/>
<circle cx="594.97" cy="430.03" r="0.3" fill="#555" opacity="0.6"/>
<circle cx="594.54" cy="449.68" r="0.3" fill="#555" opacity="0.6"/>
<circle cx="583.08" cy="446.21" r="0.3" fill="#555" opacity="0.6"/>
</g>
<rect x="529.4" y="425.9" width="102.6" height="27.4" fill="none" stroke="#1a1a1a" stroke-width="0.8"/>
<rect x="529.4" y="457.9" width="102.6" height="28.3" fill="#dadada"/>
<g clip-path="url(#cb2)">
<rect x="536.3" y="469.9" width="16.4" height="14" fill="#8c8c8c" filter="url(#bl2)" opacity="0.3"/>
<rect x="560" y="470" width="18.3" height="14" fill="#8c8c8c" filter="url(#bl2)" opacity="0.3"/>
<rect x="583.2" y="469.7" width="18.2" height="14" fill="#8c8c8c" filter="url(#bl2)" opacity="0.3"/>
<rect x="609.7" y="469.6" width="14.3" height="14" fill="#8c8c8c" filter="url(#bl2)" opacity="0.3"/>
<rect x="535.3" y="463.2" width="18.4" height="9.4" fill="#777" filter="url(#bl2)" opacity="0.45"/>
<rect x="559" y="462.6" width="20.3" height="10.8" fill="#777" filter="url(#bl2)" opacity="0.45"/>
<rect x="582.2" y="461.9" width="20.2" height="11.6" fill="#777" filter="url(#bl2)" opacity="0.45"/>
<rect x="608.7" y="463.2" width="16.3" height="8.8" fill="#777" filter="url(#bl2)" opacity="0.45"/>
<rect x="537.3" y="465.3" width="14.4" height="5.2" fill="#0a0a0a" rx="2.6" filter="url(#bl1)" opacity="1"/>
<rect x="561" y="464.7" width="16.3" height="6.6" fill="#000" rx="3.3" filter="url(#bl1)" opacity="1"/>
<rect x="584.2" y="464" width="16.2" height="7.4" fill="#000" rx="3.7" filter="url(#bl1)" opacity="1"/>
<rect x="610.7" y="465.3" width="12.3" height="4.6" fill="#2a2a2a" rx="2.3" filter="url(#bl1)" opacity="0.85"/>
<circle cx="598.29" cy="459.71" r="0.3" fill="#555" opacity="0.6"/>
<circle cx="607.19" cy="474.63" r="0.3" fill="#555" opacity="0.6"/>
<circle cx="560.31" cy="458.78" r="0.3" fill="#555" opacity="0.6"/>
<circle cx="618.2" cy="471.28" r="0.3" fill="#555" opacity="0.6"/>
<circle cx="603.15" cy="482.77" r="0.3" fill="#555" opacity="0.6"/>
<circle cx="602.67" cy="483.97" r="0.3" fill="#555" opacity="0.6"/>
<circle cx="569.92" cy="480.57" r="0.3" fill="#555" opacity="0.6"/>
<circle cx="575.02" cy="484.38" r="0.3" fill="#555" opacity="0.6"/>
<circle cx="619.57" cy="460.66" r="0.3" fill="#555" opacity="0.6"/>
<circle cx="543.35" cy="464.04" r="0.3" fill="#555" opacity="0.6"/>
</g>
<rect x="529.4" y="457.9" width="102.6" height="28.3" fill="none" stroke="#1a1a1a" stroke-width="0.8"/>
<rect x="529.4" y="490.4" width="102.6" height="27.9" fill="#e6e6e6"/>
<g clip-path="url(#cb3)">
<rect x="534.4" y="495.9" width="21.7" height="10.4" fill="#777" filter="url(#bl2)" opacity="0.45"/>
<rect x="558" y="495.8" width="20.7" height="10" fill="#777" filter="url(#bl2)" opacity="0.45"/>
<rect x="581.7" y="496.3" width="20.7" height="8.8" fill="#777" filter="url(#bl2)" opacity="0.45"/>
<rect x="606.3" y="496.3" width="19.7" height="8.8" fill="#777" filter="url(#bl2)" opacity="0.45"/>
<rect x="536.4" y="498" width="17.7" height="6.2" fill="#000" rx="3.1" filter="url(#bl1)" opacity="1"/>
<rect x="560" y="497.9" width="16.7" height="5.8" fill="#000" rx="2.9" filter="url(#bl1)" opacity="1"/>
<rect x="583.7" y="498.4" width="16.7" height="4.6" fill="#000" rx="2.3" filter="url(#bl1)" opacity="1"/>
<rect x="608.3" y="498.4" width="15.7" height="4.6" fill="#000" rx="2.3" filter="url(#bl1)" opacity="1"/>
<circle cx="628.46" cy="502.57" r="0.3" fill="#555" opacity="0.6"/>
<circle cx="593.69" cy="498.8" r="0.3" fill="#555" opacity="0.6"/>
<circle cx="581.44" cy="501.17" r="0.3" fill="#555" opacity="0.6"/>
<circle cx="565.4" cy="506.72" r="0.3" fill="#555" opacity="0.6"/>
<circle cx="589.34" cy="515.63" r="0.3" fill="#555" opacity="0.6"/>
<circle cx="599.37" cy="516.32" r="0.3" fill="#555" opacity="0.6"/>
<circle cx="617.27" cy="518.05" r="0.3" fill="#555" opacity="0.6"/>
<circle cx="598.27" cy="494.95" r="0.3" fill="#555" opacity="0.6"/>
<circle cx="617.7" cy="517.31" r="0.3" fill="#555" opacity="0.6"/>
<circle cx="622.22" cy="506.28" r="0.3" fill="#555" opacity="0.6"/>
</g>
<rect x="529.4" y="490.4" width="102.6" height="27.9" fill="none" stroke="#1a1a1a" stroke-width="0.8"/>
<text x="526" y="444.6" font-size="8.8" text-anchor="end" font-weight="bold">WNT5A</text>
<text x="526" y="474.5" font-size="8.8" text-anchor="end" font-weight="bold">SPARC</text>
<text x="526" y="507.2" font-size="8.8" text-anchor="end" font-weight="bold">β-actin</text>
<line x1="627.5" y1="448.2" x2="643.3" y2="448.2" stroke="#231815" stroke-width="0.8"/>
<text x="645.6" y="451.1" font-size="8.2" font-weight="bold" fill="#231815">51</text>
<line x1="627.5" y1="461.8" x2="643.3" y2="461.8" stroke="#231815" stroke-width="0.8"/>
<text x="645.6" y="464.7" font-size="8.2" font-weight="bold" fill="#231815">43</text>
<line x1="627.5" y1="507.1" x2="643.3" y2="507.1" stroke="#231815" stroke-width="0.8"/>
<text x="645.6" y="510" font-size="8.2" font-weight="bold" fill="#231815">43</text>
<line x1="501.1" y1="535.2" x2="501.1" y2="654.7" stroke="#000" stroke-width="0.9"/>
<line x1="498.2" y1="535.6" x2="501.1" y2="535.6" stroke="#000" stroke-width="0.9"/>
<text x="497.5" y="538.6" font-size="8.4" text-anchor="end" font-weight="bold">2.0</text>
<line x1="498.2" y1="565.27" x2="501.1" y2="565.27" stroke="#000" stroke-width="0.9"/>
<text x="497.5" y="568.27" font-size="8.4" text-anchor="end" font-weight="bold">1.5</text>
<line x1="498.2" y1="594.95" x2="501.1" y2="594.95" stroke="#000" stroke-width="0.9"/>
<text x="497.5" y="597.95" font-size="8.4" text-anchor="end" font-weight="bold">1.0</text>
<line x1="498.2" y1="624.62" x2="501.1" y2="624.62" stroke="#000" stroke-width="0.9"/>
<text x="497.5" y="627.62" font-size="8.4" text-anchor="end" font-weight="bold">0.5</text>
<line x1="498.2" y1="654.3" x2="501.1" y2="654.3" stroke="#000" stroke-width="0.9"/>
<text x="497.5" y="657.3" font-size="8.4" text-anchor="end" font-weight="bold">0.0</text>
<text x="481.5" y="589" font-size="8.3" text-anchor="middle" font-weight="bold" transform="rotate(-90 481.5 589)">Relative protein level</text>
<text x="545.1" y="535" font-size="8.3" text-anchor="middle" font-weight="bold">WNT5A</text>
<rect x="509.67" y="594.52" width="14.28" height="59.78" fill="#fbfbfb" stroke="#000" stroke-width="0.9"/>
<line x1="516.81" y1="587.87" x2="516.81" y2="601.16" stroke="#000" stroke-width="0.8"/>
<line x1="512.31" y1="587.87" x2="521.31" y2="587.87" stroke="#000" stroke-width="0.8"/>
<line x1="512.31" y1="601.16" x2="521.31" y2="601.16" stroke="#000" stroke-width="0.8"/>
<line x1="516.81" y1="654.3" x2="516.81" y2="657.3" stroke="#000" stroke-width="0.8"/>
<rect x="529.41" y="590.15" width="14.28" height="64.15" fill="#fbfbfb" stroke="#000" stroke-width="0.9"/>
<line x1="536.55" y1="585.79" x2="536.55" y2="593.57" stroke="#000" stroke-width="0.8"/>
<line x1="532.05" y1="585.79" x2="541.05" y2="585.79" stroke="#000" stroke-width="0.8"/>
<line x1="532.05" y1="593.57" x2="541.05" y2="593.57" stroke="#000" stroke-width="0.8"/>
<line x1="536.55" y1="654.3" x2="536.55" y2="657.3" stroke="#000" stroke-width="0.8"/>
<rect x="548.96" y="586.36" width="14.28" height="67.94" fill="#fbfbfb" stroke="#000" stroke-width="0.9"/>
<line x1="556.1" y1="578.19" x2="556.1" y2="593.95" stroke="#000" stroke-width="0.8"/>
<line x1="551.6" y1="578.19" x2="560.6" y2="578.19" stroke="#000" stroke-width="0.8"/>
<line x1="551.6" y1="593.95" x2="560.6" y2="593.95" stroke="#000" stroke-width="0.8"/>
<line x1="556.1" y1="654.3" x2="556.1" y2="657.3" stroke="#000" stroke-width="0.8"/>
<rect x="568.51" y="610.08" width="14.09" height="44.22" fill="#fbfbfb" stroke="#000" stroke-width="0.9"/>
<line x1="575.55" y1="602.49" x2="575.55" y2="616.72" stroke="#000" stroke-width="0.8"/>
<line x1="571.05" y1="602.49" x2="580.05" y2="602.49" stroke="#000" stroke-width="0.8"/>
<line x1="571.05" y1="616.72" x2="580.05" y2="616.72" stroke="#000" stroke-width="0.8"/>
<line x1="575.55" y1="654.3" x2="575.55" y2="657.3" stroke="#000" stroke-width="0.8"/>
<line x1="501.1" y1="654.3" x2="590.6" y2="654.3" stroke="#000" stroke-width="0.9"/>
<circle cx="516.81" cy="570.22" r="2" fill="#000"/>
<circle cx="520.04" cy="596.22" r="2" fill="#000"/>
<circle cx="513.4" cy="598.12" r="2" fill="#000"/>
<circle cx="520.04" cy="601.54" r="2" fill="#000"/>
<circle cx="513.4" cy="604.76" r="2" fill="#000"/>
<circle cx="536.17" cy="576.87" r="2" fill="#0a6cf0"/>
<circle cx="532.94" cy="587.3" r="2" fill="#0a6cf0"/>
<circle cx="539.59" cy="587.87" r="2" fill="#0a6cf0"/>
<circle cx="539.97" cy="595.84" r="2" fill="#0a6cf0"/>
<circle cx="532.75" cy="597.17" r="2" fill="#0a6cf0"/>
<circle cx="551.92" cy="569.84" r="2" fill="#9a9a9a"/>
<circle cx="559.33" cy="572.12" r="2" fill="#9a9a9a"/>
<circle cx="552.68" cy="586.36" r="2" fill="#9a9a9a"/>
<circle cx="559.33" cy="589.2" r="2" fill="#9a9a9a"/>
<circle cx="555.72" cy="611.6" r="2" fill="#9a9a9a"/>
<circle cx="575.27" cy="593" r="2" fill="#0fa55a"/>
<circle cx="575.27" cy="597.74" r="2" fill="#0fa55a"/>
<circle cx="575.27" cy="605.33" r="2" fill="#0fa55a"/>
<circle cx="575.27" cy="612.93" r="2" fill="#0fa55a"/>
<circle cx="575.27" cy="622.42" r="2" fill="#0fa55a"/>
<circle cx="575.27" cy="629.44" r="2" fill="#0fa55a"/>
<text x="565.21" y="557.54" font-size="8.4" text-anchor="middle" font-weight="bold">0.0423</text>
<path d="M555.72 564.03V559.48H575.46V564.03" stroke="#000" stroke-width="0.8" fill="none"/>
<text x="517.19" y="664.86" font-size="8.1" text-anchor="middle" font-weight="bold">Fel</text>
<text x="537.12" y="664.86" font-size="8.1" text-anchor="middle" font-weight="bold">Inj</text>
<text x="556.67" y="664.86" font-size="8.1" text-anchor="middle" font-weight="bold">Fel</text>
<text x="575.65" y="664.86" font-size="8.1" text-anchor="middle" font-weight="bold">Inj</text>
<line x1="515.29" y1="667.66" x2="539.97" y2="667.66" stroke="#000" stroke-width="0.8"/>
<line x1="554.2" y1="667.66" x2="579.82" y2="667.66" stroke="#000" stroke-width="0.8"/>
<text x="526.11" y="677.28" font-size="8.15" text-anchor="middle" font-weight="bold">Scramble</text>
<text x="567.49" y="677.28" font-size="8.15" text-anchor="middle" font-weight="bold">sh<tspan font-style="italic">Wnt5a</tspan></text>
<text x="634.2" y="534.8" font-size="8.3" text-anchor="middle" font-weight="bold">SPARC</text>
<rect x="601.96" y="600.42" width="14.22" height="53.88" fill="#fbfbfb" stroke="#000" stroke-width="0.9"/>
<line x1="609.07" y1="590.51" x2="609.07" y2="610.5" stroke="#000" stroke-width="0.8"/>
<line x1="604.57" y1="590.51" x2="613.57" y2="590.51" stroke="#000" stroke-width="0.8"/>
<line x1="604.57" y1="610.5" x2="613.57" y2="610.5" stroke="#000" stroke-width="0.8"/>
<line x1="609.07" y1="654.3" x2="609.07" y2="657.3" stroke="#000" stroke-width="0.8"/>
<rect x="621.43" y="596.94" width="14.05" height="57.36" fill="#fbfbfb" stroke="#000" stroke-width="0.9"/>
<line x1="628.46" y1="595.37" x2="628.46" y2="598.33" stroke="#000" stroke-width="0.8"/>
<line x1="623.96" y1="595.37" x2="632.96" y2="595.37" stroke="#000" stroke-width="0.8"/>
<line x1="623.96" y1="598.33" x2="632.96" y2="598.33" stroke="#000" stroke-width="0.8"/>
<line x1="628.46" y1="654.3" x2="628.46" y2="657.3" stroke="#000" stroke-width="0.8"/>
<rect x="640.73" y="588.25" width="13.87" height="66.05" fill="#fbfbfb" stroke="#000" stroke-width="0.9"/>
<line x1="647.66" y1="577.82" x2="647.66" y2="597.46" stroke="#000" stroke-width="0.8"/>
<line x1="643.16" y1="577.82" x2="652.16" y2="577.82" stroke="#000" stroke-width="0.8"/>
<line x1="643.16" y1="597.46" x2="652.16" y2="597.46" stroke="#000" stroke-width="0.8"/>
<line x1="647.66" y1="654.3" x2="647.66" y2="657.3" stroke="#000" stroke-width="0.8"/>
<rect x="659.85" y="614.32" width="14.22" height="39.98" fill="#fbfbfb" stroke="#000" stroke-width="0.9"/>
<line x1="666.96" y1="605.28" x2="666.96" y2="622.14" stroke="#000" stroke-width="0.8"/>
<line x1="662.46" y1="605.28" x2="671.46" y2="605.28" stroke="#000" stroke-width="0.8"/>
<line x1="662.46" y1="622.14" x2="671.46" y2="622.14" stroke="#000" stroke-width="0.8"/>
<line x1="666.96" y1="654.3" x2="666.96" y2="657.3" stroke="#000" stroke-width="0.8"/>
<line x1="594" y1="654.3" x2="681.5" y2="654.3" stroke="#000" stroke-width="0.9"/>
<circle cx="608.99" cy="563.56" r="2" fill="#000"/>
<circle cx="605.86" cy="601.81" r="2" fill="#000"/>
<circle cx="612.81" cy="600.07" r="2" fill="#000"/>
<circle cx="608.99" cy="614.84" r="2" fill="#000"/>
<circle cx="608.99" cy="621.45" r="2" fill="#000"/>
<circle cx="624.98" cy="591.72" r="2" fill="#0a6cf0"/>
<circle cx="624.98" cy="596.59" r="2" fill="#0a6cf0"/>
<circle cx="631.93" cy="595.2" r="2" fill="#0a6cf0"/>
<circle cx="631.93" cy="598.33" r="2" fill="#0a6cf0"/>
<circle cx="624.98" cy="600.94" r="2" fill="#0a6cf0"/>
<circle cx="647.58" cy="552.27" r="2" fill="#9a9a9a"/>
<circle cx="644.1" cy="587.9" r="2" fill="#9a9a9a"/>
<circle cx="651.05" cy="587.03" r="2" fill="#9a9a9a"/>
<circle cx="651.05" cy="604.07" r="2" fill="#9a9a9a"/>
<circle cx="644.1" cy="607.54" r="2" fill="#9a9a9a"/>
<circle cx="666.7" cy="585.81" r="2" fill="#0fa55a"/>
<circle cx="666.7" cy="606.5" r="2" fill="#0fa55a"/>
<circle cx="666.7" cy="613.97" r="2" fill="#0fa55a"/>
<circle cx="666.7" cy="629.27" r="2" fill="#0fa55a"/>
<circle cx="666.7" cy="633.62" r="2" fill="#0fa55a"/>
<text x="656.79" y="542.12" font-size="8.4" text-anchor="middle" font-weight="bold">0.0017</text>
<path d="M647.58 548.68V544.34H667.04V548.68" stroke="#000" stroke-width="0.8" fill="none"/>
<text x="609.86" y="665.78" font-size="8.1" text-anchor="middle" font-weight="bold">Fel</text>
<text x="628.98" y="665.78" font-size="8.1" text-anchor="middle" font-weight="bold">Inj</text>
<text x="648.45" y="665.78" font-size="8.1" text-anchor="middle" font-weight="bold">Fel</text>
<text x="667.57" y="665.78" font-size="8.1" text-anchor="middle" font-weight="bold">Inj</text>
<line x1="607.6" y1="668.97" x2="630.54" y2="668.97" stroke="#000" stroke-width="0.8"/>
<line x1="645.32" y1="668.97" x2="668.09" y2="668.97" stroke="#000" stroke-width="0.8"/>
<text x="618.03" y="677.3" font-size="8.15" text-anchor="middle" font-weight="bold">Scramble</text>
<text x="660.09" y="677.3" font-size="8.15" text-anchor="middle" font-weight="bold">sh<tspan font-style="italic">Wnt5a</tspan></text>
</g>
<g id="ph">
<text x="13.2" y="706.7" font-size="16.8" font-weight="bold">h</text>
<text x="190.4" y="708.8" font-size="8.7" text-anchor="middle" font-weight="bold">Temporal iPPS in FD48h</text>
<defs><filter id="nz" x="0" y="0" width="100%" height="100%" color-interpolation-filters="sRGB"><feTurbulence type="fractalNoise" baseFrequency="0.42" numOctaves="2" seed="5" result="t"/><feColorMatrix in="t" type="matrix" values="0.3 0 0 0 -0.03  0 0 0 0 0.006  0 0 0 0 0.006  0 0 0 0 1"/><feGaussianBlur stdDeviation="0.6"/></filter><filter id="nz2" x="0" y="0" width="100%" height="100%" color-interpolation-filters="sRGB"><feTurbulence type="fractalNoise" baseFrequency="0.42" numOctaves="2" seed="11" result="t"/><feColorMatrix in="t" type="matrix" values="0.32 0 0 0 -0.03  0 0 0 0 0.008  0 0 0.2 0 -0.05  0 0 0 0 1"/><feGaussianBlur stdDeviation="0.6"/></filter><filter id="hz" x="0" y="0" width="100%" height="100%" color-interpolation-filters="sRGB"><feTurbulence type="fractalNoise" baseFrequency="0.025 0.05" numOctaves="2" seed="4" result="t"/><feColorMatrix in="t" type="matrix" values="0 0 0 0 0.42  0 0 0 0 0.03  0 0 0 0 0.05  2.2 0 0 0 -0.95"/></filter><filter id="bb" x="-40%" y="-80%" width="180%" height="260%"><feGaussianBlur stdDeviation="1.3"/></filter><filter id="bb3" x="-40%" y="-80%" width="180%" height="260%"><feGaussianBlur stdDeviation="2.1"/></filter><filter id="bb2" x="-40%" y="-80%" width="180%" height="260%"><feGaussianBlur stdDeviation="2.8"/></filter></defs>
<clipPath id="hc1"><rect x="33" y="715" width="161.2" height="82.5"/></clipPath>
<g clip-path="url(#hc1)">
<rect x="33" y="715" width="161.2" height="82.5" fill="#2a0404" filter="url(#nz)"/>
<rect x="33" y="715" width="161.2" height="82.5" fill="#2a0404" filter="url(#hz)" opacity="0.4"/>
<circle cx="59.59" cy="771.91" r="0.79" fill="#b01010" opacity="0.52"/>
<circle cx="67.82" cy="780.39" r="0.86" fill="#b01010" opacity="0.53"/>
<circle cx="114.42" cy="734.47" r="0.5" fill="#b01010" opacity="0.47"/>
<circle cx="127.36" cy="720.71" r="0.86" fill="#b01010" opacity="0.4"/>
<circle cx="70.51" cy="718.49" r="0.95" fill="#b01010" opacity="0.63"/>
<circle cx="174.06" cy="765.81" r="0.52" fill="#b01010" opacity="0.45"/>
<circle cx="113.21" cy="724.55" r="0.93" fill="#b01010" opacity="0.47"/>
<circle cx="57.96" cy="782.44" r="0.56" fill="#b01010" opacity="0.72"/>
<circle cx="106.04" cy="760.54" r="0.65" fill="#b01010" opacity="0.52"/>
<circle cx="63.13" cy="718.06" r="0.89" fill="#b01010" opacity="0.41"/>
<circle cx="158.78" cy="732.21" r="0.94" fill="#b01010" opacity="0.7"/>
<circle cx="154.67" cy="777.93" r="0.76" fill="#b01010" opacity="0.63"/>
<circle cx="52.74" cy="754.3" r="0.87" fill="#b01010" opacity="0.39"/>
<circle cx="181.81" cy="788.22" r="0.68" fill="#b01010" opacity="0.46"/>
<circle cx="105.75" cy="746.83" r="0.95" fill="#b01010" opacity="0.47"/>
<circle cx="37.33" cy="722.69" r="0.82" fill="#b01010" opacity="0.75"/>
<circle cx="112.96" cy="755.55" r="0.75" fill="#b01010" opacity="0.64"/>
<circle cx="68.79" cy="765.23" r="0.75" fill="#b01010" opacity="0.58"/>
<circle cx="62.13" cy="729.03" r="0.66" fill="#b01010" opacity="0.72"/>
<circle cx="88.87" cy="764.27" r="0.64" fill="#b01010" opacity="0.35"/>
<circle cx="43.58" cy="782.13" r="0.85" fill="#b01010" opacity="0.47"/>
<circle cx="143.16" cy="770.76" r="0.9" fill="#b01010" opacity="0.73"/>
<circle cx="98.61" cy="796.6" r="0.93" fill="#b01010" opacity="0.57"/>
<circle cx="175.37" cy="755.5" r="0.67" fill="#b01010" opacity="0.41"/>
<circle cx="174.23" cy="728.39" r="0.53" fill="#b01010" opacity="0.66"/>
<circle cx="157.76" cy="754.86" r="0.88" fill="#b01010" opacity="0.32"/>
<circle cx="74.59" cy="738.91" r="0.69" fill="#b01010" opacity="0.38"/>
<circle cx="44.2" cy="742.89" r="0.9" fill="#b01010" opacity="0.74"/>
<circle cx="153.23" cy="754.52" r="0.61" fill="#b01010" opacity="0.73"/>
<circle cx="117.73" cy="775.11" r="0.51" fill="#b01010" opacity="0.4"/>
<circle cx="168.13" cy="780.61" r="0.9" fill="#b01010" opacity="0.57"/>
<circle cx="101.68" cy="762.94" r="0.88" fill="#b01010" opacity="0.44"/>
<circle cx="119.13" cy="737.77" r="0.85" fill="#b01010" opacity="0.3"/>
<circle cx="143.47" cy="793.7" r="0.51" fill="#b01010" opacity="0.57"/>
<circle cx="136.79" cy="785.26" r="0.76" fill="#b01010" opacity="0.42"/>
<circle cx="98.38" cy="794.09" r="0.91" fill="#b01010" opacity="0.36"/>
<circle cx="48.29" cy="722.75" r="0.51" fill="#b01010" opacity="0.5"/>
<circle cx="55.7" cy="786.56" r="0.79" fill="#b01010" opacity="0.36"/>
<circle cx="119.83" cy="741.75" r="0.72" fill="#b01010" opacity="0.4"/>
<circle cx="59.77" cy="730.18" r="0.67" fill="#b01010" opacity="0.62"/>
<circle cx="121.67" cy="718.81" r="0.82" fill="#b01010" opacity="0.69"/>
<circle cx="157.81" cy="780.23" r="0.5" fill="#b01010" opacity="0.51"/>
<circle cx="43.23" cy="778.02" r="0.58" fill="#b01010" opacity="0.62"/>
<circle cx="73.77" cy="772.48" r="0.64" fill="#b01010" opacity="0.32"/>
<circle cx="95.69" cy="740.53" r="0.91" fill="#b01010" opacity="0.43"/>
<circle cx="114.1" cy="760.32" r="0.93" fill="#b01010" opacity="0.34"/>
<circle cx="129.91" cy="756.93" r="0.83" fill="#b01010" opacity="0.74"/>
<circle cx="83" cy="772.7" r="0.74" fill="#b01010" opacity="0.55"/>
<circle cx="43.27" cy="782.21" r="0.94" fill="#b01010" opacity="0.46"/>
<circle cx="84.28" cy="796.94" r="0.55" fill="#b01010" opacity="0.33"/>
<circle cx="44.82" cy="782.18" r="0.84" fill="#b01010" opacity="0.5"/>
<circle cx="133.17" cy="716.63" r="0.79" fill="#b01010" opacity="0.5"/>
<circle cx="116.41" cy="747.13" r="0.68" fill="#b01010" opacity="0.4"/>
<circle cx="40.87" cy="750.8" r="0.61" fill="#b01010" opacity="0.62"/>
<circle cx="164.75" cy="774.71" r="0.71" fill="#b01010" opacity="0.41"/>
<circle cx="95.13" cy="755.16" r="0.78" fill="#b01010" opacity="0.73"/>
<circle cx="46.77" cy="754.58" r="0.72" fill="#b01010" opacity="0.62"/>
<circle cx="176.55" cy="779.31" r="0.78" fill="#b01010" opacity="0.64"/>
<circle cx="140.69" cy="785.86" r="0.81" fill="#b01010" opacity="0.61"/>
<circle cx="72.54" cy="790.63" r="0.67" fill="#b01010" opacity="0.58"/>
</g>
<clipPath id="hc2"><rect x="196.9" y="715" width="161.5" height="82.5"/></clipPath>
<g clip-path="url(#hc2)">
<rect x="196.9" y="715" width="161.5" height="82.5" fill="#2a0404" filter="url(#nz2)"/>
<rect x="196.9" y="715" width="161.5" height="82.5" fill="#2a0404" filter="url(#hz)" opacity="0.5"/>
<circle cx="330.11" cy="794.51" r="0.95" fill="#b01010" opacity="0.3"/>
<circle cx="247.39" cy="740.72" r="0.68" fill="#b01010" opacity="0.37"/>
<circle cx="286.25" cy="721.56" r="0.64" fill="#b01010" opacity="0.72"/>
<circle cx="316.79" cy="753.14" r="0.55" fill="#b01010" opacity="0.73"/>
<circle cx="310.59" cy="731.98" r="0.65" fill="#b01010" opacity="0.59"/>
<circle cx="306.98" cy="736.52" r="0.93" fill="#b01010" opacity="0.44"/>
<circle cx="237.96" cy="784.74" r="0.57" fill="#b01010" opacity="0.61"/>
<circle cx="229.18" cy="764.33" r="0.62" fill="#b01010" opacity="0.47"/>
<circle cx="348.83" cy="753.52" r="0.7" fill="#b01010" opacity="0.58"/>
<circle cx="242.22" cy="729.38" r="0.67" fill="#b01010" opacity="0.42"/>
<circle cx="227.34" cy="794.26" r="0.52" fill="#b01010" opacity="0.66"/>
<circle cx="347.86" cy="773.13" r="0.51" fill="#b01010" opacity="0.53"/>
<circle cx="203.24" cy="765.15" r="0.82" fill="#b01010" opacity="0.41"/>
<circle cx="198.13" cy="759.91" r="0.54" fill="#b01010" opacity="0.44"/>
<circle cx="270.24" cy="788.79" r="0.67" fill="#b01010" opacity="0.36"/>
<circle cx="324.76" cy="782.84" r="0.74" fill="#b01010" opacity="0.32"/>
<circle cx="227.19" cy="748.25" r="0.75" fill="#b01010" opacity="0.4"/>
<circle cx="326.48" cy="784.59" r="0.92" fill="#b01010" opacity="0.7"/>
<circle cx="199.74" cy="763.02" r="0.54" fill="#b01010" opacity="0.7"/>
<circle cx="317.53" cy="777.64" r="0.58" fill="#b01010" opacity="0.33"/>
<circle cx="328.56" cy="765.04" r="0.78" fill="#b01010" opacity="0.51"/>
<circle cx="326.12" cy="742.88" r="0.62" fill="#b01010" opacity="0.46"/>
<circle cx="245.03" cy="766.74" r="0.9" fill="#b01010" opacity="0.33"/>
<circle cx="207.82" cy="757.22" r="0.81" fill="#b01010" opacity="0.39"/>
<circle cx="240.48" cy="719.85" r="0.52" fill="#b01010" opacity="0.52"/>
<circle cx="306.84" cy="768.89" r="0.57" fill="#b01010" opacity="0.35"/>
<circle cx="347.23" cy="759.43" r="0.68" fill="#b01010" opacity="0.61"/>
<circle cx="314.44" cy="758.28" r="0.54" fill="#b01010" opacity="0.67"/>
<circle cx="231.42" cy="718.34" r="0.66" fill="#b01010" opacity="0.54"/>
<circle cx="298.36" cy="729.36" r="0.82" fill="#b01010" opacity="0.52"/>
<circle cx="223.06" cy="785.2" r="0.86" fill="#b01010" opacity="0.71"/>
<circle cx="306.64" cy="732.93" r="0.85" fill="#b01010" opacity="0.71"/>
<circle cx="283.02" cy="789.95" r="0.94" fill="#b01010" opacity="0.48"/>
<circle cx="349.01" cy="792.28" r="0.86" fill="#b01010" opacity="0.31"/>
<circle cx="253.73" cy="765.62" r="0.77" fill="#b01010" opacity="0.64"/>
<circle cx="301.37" cy="728.32" r="0.92" fill="#b01010" opacity="0.54"/>
<circle cx="339.29" cy="732.06" r="0.95" fill="#b01010" opacity="0.55"/>
<circle cx="322.16" cy="776.05" r="0.9" fill="#b01010" opacity="0.46"/>
<circle cx="210.27" cy="748.46" r="0.58" fill="#b01010" opacity="0.54"/>
<circle cx="328.52" cy="744.88" r="0.56" fill="#b01010" opacity="0.31"/>
<circle cx="265.21" cy="762.89" r="0.51" fill="#b01010" opacity="0.6"/>
<circle cx="230.96" cy="723.83" r="0.92" fill="#b01010" opacity="0.54"/>
<circle cx="341.45" cy="757.4" r="0.56" fill="#b01010" opacity="0.41"/>
<circle cx="265.42" cy="767.87" r="0.85" fill="#b01010" opacity="0.64"/>
<circle cx="302" cy="735.87" r="0.69" fill="#b01010" opacity="0.47"/>
<circle cx="275.97" cy="736.9" r="0.74" fill="#b01010" opacity="0.51"/>
<circle cx="202.64" cy="782.89" r="0.76" fill="#b01010" opacity="0.66"/>
<circle cx="315.85" cy="775.29" r="0.95" fill="#b01010" opacity="0.47"/>
<circle cx="260.47" cy="715.31" r="0.8" fill="#b01010" opacity="0.56"/>
<circle cx="289.99" cy="797.31" r="0.59" fill="#b01010" opacity="0.4"/>
<circle cx="315.46" cy="782.02" r="0.72" fill="#b01010" opacity="0.32"/>
<circle cx="256.72" cy="783.18" r="0.72" fill="#b01010" opacity="0.51"/>
<circle cx="259.8" cy="766.85" r="0.77" fill="#b01010" opacity="0.61"/>
<circle cx="336.64" cy="776.98" r="0.67" fill="#b01010" opacity="0.41"/>
<circle cx="323.18" cy="780.42" r="0.92" fill="#b01010" opacity="0.39"/>
<ellipse cx="320.3" cy="734.3" rx="10" ry="2" fill="#1a2cc0" opacity="0.5" filter="url(#bb3)" transform="rotate(0 320.3 734.3)"/>
<ellipse cx="214.3" cy="770" rx="12" ry="2.5" fill="#1a2cc0" opacity="0.5" filter="url(#bb3)" transform="rotate(0 214.3 770)"/>
<ellipse cx="204" cy="781.5" rx="10" ry="3.6" fill="#1422f0" opacity="0.9" filter="url(#bb3)" transform="rotate(8 204 781.5)"/>
<ellipse cx="204" cy="781.5" rx="7.2" ry="2.52" fill="#0c28ff" filter="url(#bb)" transform="rotate(8 204 781.5)"/>
<ellipse cx="352.2" cy="769.3" rx="6" ry="2.8" fill="#1422f0" opacity="0.9" filter="url(#bb3)" transform="rotate(0 352.2 769.3)"/>
<ellipse cx="352.2" cy="769.3" rx="4.32" ry="1.96" fill="#0c28ff" filter="url(#bb)" transform="rotate(0 352.2 769.3)"/>
<ellipse cx="336.9" cy="790.5" rx="11" ry="3.6" fill="#1422f0" opacity="0.9" filter="url(#bb3)" transform="rotate(-3 336.9 790.5)"/>
<ellipse cx="336.9" cy="790.5" rx="7.92" ry="2.52" fill="#0c28ff" filter="url(#bb)" transform="rotate(-3 336.9 790.5)"/>
<ellipse cx="228" cy="717" rx="8" ry="2.5" fill="#1a2cc0" opacity="0.5" filter="url(#bb3)" transform="rotate(0 228 717)"/>
<ellipse cx="357.5" cy="756" rx="2" ry="4" fill="#1a2cc0" opacity="0.5" filter="url(#bb3)" transform="rotate(0 357.5 756)"/>
</g>
<clipPath id="hc3"><rect x="33" y="800.7" width="161.2" height="82.6"/></clipPath>
<g clip-path="url(#hc3)">
<rect x="33" y="800.7" width="161.2" height="82.6" fill="#2a0404" filter="url(#nz)"/>
<rect x="33" y="800.7" width="161.2" height="82.6" fill="#2a0404" filter="url(#hz)" opacity="0.4"/>
<circle cx="169.65" cy="874.26" r="0.53" fill="#b01010" opacity="0.44"/>
<circle cx="135.15" cy="812.77" r="0.87" fill="#b01010" opacity="0.42"/>
<circle cx="143" cy="825.13" r="0.6" fill="#b01010" opacity="0.39"/>
<circle cx="113.21" cy="859.6" r="0.6" fill="#b01010" opacity="0.61"/>
<circle cx="87.02" cy="854.33" r="0.67" fill="#b01010" opacity="0.39"/>
<circle cx="55.73" cy="805.47" r="0.81" fill="#b01010" opacity="0.49"/>
<circle cx="52.87" cy="873.43" r="0.79" fill="#b01010" opacity="0.31"/>
<circle cx="149.83" cy="849.82" r="0.7" fill="#b01010" opacity="0.53"/>
<circle cx="188.11" cy="831.58" r="0.79" fill="#b01010" opacity="0.59"/>
<circle cx="91.96" cy="829.31" r="0.84" fill="#b01010" opacity="0.59"/>
<circle cx="106.66" cy="843.14" r="0.6" fill="#b01010" opacity="0.66"/>
<circle cx="36.2" cy="853.83" r="0.7" fill="#b01010" opacity="0.4"/>
<circle cx="127.59" cy="848.86" r="0.54" fill="#b01010" opacity="0.52"/>
<circle cx="59.61" cy="866.71" r="0.65" fill="#b01010" opacity="0.45"/>
<circle cx="67.72" cy="804.68" r="0.58" fill="#b01010" opacity="0.37"/>
<circle cx="133.62" cy="870.69" r="0.6" fill="#b01010" opacity="0.35"/>
<circle cx="119.16" cy="810.25" r="0.68" fill="#b01010" opacity="0.64"/>
<circle cx="65.75" cy="858.49" r="0.74" fill="#b01010" opacity="0.34"/>
<circle cx="72.1" cy="850.21" r="0.54" fill="#b01010" opacity="0.39"/>
<circle cx="125.97" cy="868.27" r="0.73" fill="#b01010" opacity="0.6"/>
<circle cx="34.46" cy="825.7" r="0.64" fill="#b01010" opacity="0.71"/>
<circle cx="90.63" cy="865.52" r="0.52" fill="#b01010" opacity="0.52"/>
<circle cx="176.7" cy="864.41" r="0.76" fill="#b01010" opacity="0.38"/>
<circle cx="182.31" cy="807.29" r="0.93" fill="#b01010" opacity="0.65"/>
<circle cx="149.02" cy="844.53" r="0.57" fill="#b01010" opacity="0.45"/>
<circle cx="140.03" cy="854.88" r="0.68" fill="#b01010" opacity="0.66"/>
<circle cx="41.61" cy="824.43" r="0.54" fill="#b01010" opacity="0.45"/>
<circle cx="160.82" cy="862.94" r="0.57" fill="#b01010" opacity="0.44"/>
<circle cx="51.07" cy="855.37" r="0.7" fill="#b01010" opacity="0.4"/>
<circle cx="93.32" cy="872.17" r="0.69" fill="#b01010" opacity="0.61"/>
<circle cx="134.19" cy="839.82" r="0.75" fill="#b01010" opacity="0.46"/>
<circle cx="64.98" cy="841.54" r="0.64" fill="#b01010" opacity="0.45"/>
<circle cx="63.07" cy="876.14" r="0.69" fill="#b01010" opacity="0.39"/>
<circle cx="38.11" cy="818.4" r="0.89" fill="#b01010" opacity="0.45"/>
<circle cx="140.53" cy="819.74" r="0.79" fill="#b01010" opacity="0.5"/>
<circle cx="151.71" cy="844.35" r="0.67" fill="#b01010" opacity="0.43"/>
<circle cx="128.8" cy="869.41" r="0.81" fill="#b01010" opacity="0.52"/>
<circle cx="85.96" cy="874.33" r="0.88" fill="#b01010" opacity="0.37"/>
<circle cx="142.49" cy="864.47" r="0.8" fill="#b01010" opacity="0.73"/>
<circle cx="174.7" cy="821.02" r="0.95" fill="#b01010" opacity="0.45"/>
<circle cx="94.23" cy="881.35" r="0.58" fill="#b01010" opacity="0.48"/>
<circle cx="133.9" cy="823.24" r="0.62" fill="#b01010" opacity="0.66"/>
<circle cx="131.74" cy="862.14" r="0.86" fill="#b01010" opacity="0.69"/>
<circle cx="177.05" cy="868.71" r="0.94" fill="#b01010" opacity="0.52"/>
<circle cx="146.1" cy="843.15" r="0.94" fill="#b01010" opacity="0.59"/>
<circle cx="102.41" cy="855.55" r="0.63" fill="#b01010" opacity="0.36"/>
<circle cx="95.27" cy="812.01" r="0.5" fill="#b01010" opacity="0.34"/>
<circle cx="106.24" cy="863.75" r="0.52" fill="#b01010" opacity="0.59"/>
<circle cx="50.95" cy="842.86" r="0.63" fill="#b01010" opacity="0.5"/>
<circle cx="147.76" cy="834.85" r="0.68" fill="#b01010" opacity="0.63"/>
<circle cx="51.68" cy="829.52" r="0.82" fill="#b01010" opacity="0.68"/>
<circle cx="190.88" cy="821.94" r="0.78" fill="#b01010" opacity="0.44"/>
<circle cx="146.14" cy="870.6" r="0.56" fill="#b01010" opacity="0.46"/>
<circle cx="183.92" cy="829.81" r="0.78" fill="#b01010" opacity="0.67"/>
<circle cx="77.93" cy="865.41" r="0.5" fill="#b01010" opacity="0.45"/>
<circle cx="59.9" cy="829.27" r="0.6" fill="#b01010" opacity="0.31"/>
<circle cx="162.46" cy="815.03" r="0.76" fill="#b01010" opacity="0.55"/>
<circle cx="169.94" cy="870.66" r="0.78" fill="#b01010" opacity="0.38"/>
<circle cx="155.65" cy="808.75" r="0.92" fill="#b01010" opacity="0.44"/>
<circle cx="73.75" cy="818.59" r="0.68" fill="#b01010" opacity="0.66"/>
<rect x="33" y="800.7" width="161.2" height="82.6" fill="#000" opacity="0.1"/>
</g>
<clipPath id="hc4"><rect x="196.9" y="800.7" width="161.5" height="82.6"/></clipPath>
<g clip-path="url(#hc4)">
<rect x="196.9" y="800.7" width="161.5" height="82.6" fill="#2a0404" filter="url(#nz2)"/>
<rect x="196.9" y="800.7" width="161.5" height="82.6" fill="#2a0404" filter="url(#hz)" opacity="0.5"/>
<circle cx="334.96" cy="862.32" r="0.83" fill="#b01010" opacity="0.41"/>
<circle cx="248.77" cy="825.83" r="0.7" fill="#b01010" opacity="0.69"/>
<circle cx="357.75" cy="807.62" r="0.93" fill="#b01010" opacity="0.71"/>
<circle cx="271.34" cy="857.93" r="0.85" fill="#b01010" opacity="0.38"/>
<circle cx="296.36" cy="881.79" r="0.9" fill="#b01010" opacity="0.71"/>
<circle cx="210.58" cy="859.73" r="0.72" fill="#b01010" opacity="0.71"/>
<circle cx="223.85" cy="846.03" r="0.55" fill="#b01010" opacity="0.66"/>
<circle cx="313.59" cy="803.27" r="0.64" fill="#b01010" opacity="0.36"/>
<circle cx="299.53" cy="852.74" r="0.53" fill="#b01010" opacity="0.73"/>
<circle cx="352.79" cy="837.1" r="0.76" fill="#b01010" opacity="0.46"/>
<circle cx="294.8" cy="833.61" r="0.7" fill="#b01010" opacity="0.64"/>
<circle cx="227.01" cy="825.34" r="0.84" fill="#b01010" opacity="0.4"/>
<circle cx="208.01" cy="875.99" r="0.57" fill="#b01010" opacity="0.48"/>
<circle cx="247.53" cy="822.32" r="0.66" fill="#b01010" opacity="0.54"/>
<circle cx="215.64" cy="844.75" r="0.52" fill="#b01010" opacity="0.34"/>
<circle cx="229.55" cy="820.55" r="0.65" fill="#b01010" opacity="0.43"/>
<circle cx="332.05" cy="855.05" r="0.71" fill="#b01010" opacity="0.65"/>
<circle cx="307.67" cy="826.75" r="0.78" fill="#b01010" opacity="0.64"/>
<circle cx="283.19" cy="862.86" r="0.78" fill="#b01010" opacity="0.72"/>
<circle cx="239.56" cy="856.17" r="0.94" fill="#b01010" opacity="0.54"/>
<circle cx="343.1" cy="808.52" r="0.83" fill="#b01010" opacity="0.42"/>
<circle cx="318.07" cy="835.68" r="0.74" fill="#b01010" opacity="0.41"/>
<circle cx="238.41" cy="872.19" r="0.79" fill="#b01010" opacity="0.58"/>
<circle cx="215.59" cy="824.91" r="0.94" fill="#b01010" opacity="0.39"/>
<circle cx="283.76" cy="858.24" r="0.73" fill="#b01010" opacity="0.55"/>
<circle cx="353.58" cy="865.24" r="0.61" fill="#b01010" opacity="0.49"/>
<circle cx="264.68" cy="857.18" r="0.8" fill="#b01010" opacity="0.42"/>
<circle cx="308.72" cy="836.32" r="0.51" fill="#b01010" opacity="0.43"/>
<circle cx="257.77" cy="816.97" r="0.8" fill="#b01010" opacity="0.75"/>
<circle cx="347.34" cy="852.71" r="0.89" fill="#b01010" opacity="0.52"/>
<circle cx="291.64" cy="874.52" r="0.53" fill="#b01010" opacity="0.46"/>
<circle cx="257.32" cy="828.87" r="0.69" fill="#b01010" opacity="0.33"/>
<circle cx="306.57" cy="879.73" r="0.61" fill="#b01010" opacity="0.38"/>
<circle cx="250.95" cy="866.49" r="0.6" fill="#b01010" opacity="0.65"/>
<circle cx="224.79" cy="849.85" r="0.82" fill="#b01010" opacity="0.6"/>
<circle cx="210.54" cy="879.72" r="0.88" fill="#b01010" opacity="0.52"/>
<circle cx="335.69" cy="850.34" r="0.58" fill="#b01010" opacity="0.48"/>
<circle cx="329.45" cy="839.01" r="0.52" fill="#b01010" opacity="0.37"/>
<circle cx="226.97" cy="849.1" r="0.79" fill="#b01010" opacity="0.5"/>
<circle cx="262.11" cy="880.23" r="0.65" fill="#b01010" opacity="0.6"/>
<circle cx="229.94" cy="843.16" r="0.58" fill="#b01010" opacity="0.35"/>
<circle cx="251.28" cy="810.2" r="0.67" fill="#b01010" opacity="0.59"/>
<circle cx="285.58" cy="866.42" r="0.71" fill="#b01010" opacity="0.34"/>
<circle cx="314.37" cy="833.91" r="0.84" fill="#b01010" opacity="0.74"/>
<circle cx="281.56" cy="821.39" r="0.66" fill="#b01010" opacity="0.52"/>
<circle cx="248.44" cy="809.08" r="0.68" fill="#b01010" opacity="0.6"/>
<circle cx="328.69" cy="863.61" r="0.9" fill="#b01010" opacity="0.66"/>
<circle cx="263.34" cy="853.92" r="0.52" fill="#b01010" opacity="0.66"/>
<circle cx="311.24" cy="822.61" r="0.71" fill="#b01010" opacity="0.42"/>
<circle cx="325.31" cy="835.94" r="0.85" fill="#b01010" opacity="0.72"/>
<circle cx="322.49" cy="832.1" r="0.65" fill="#b01010" opacity="0.73"/>
<circle cx="342.98" cy="816.37" r="0.66" fill="#b01010" opacity="0.65"/>
<circle cx="319.06" cy="824.09" r="0.7" fill="#b01010" opacity="0.73"/>
<circle cx="211.47" cy="823.34" r="0.8" fill="#b01010" opacity="0.71"/>
<circle cx="349.82" cy="839.47" r="0.86" fill="#b01010" opacity="0.74"/>
<ellipse cx="233.4" cy="818" rx="9" ry="6.5" fill="#1626e0" opacity="0.85" filter="url(#bb3)" transform="rotate(35 233.4 818)"/>
<ellipse cx="260.3" cy="822" rx="12" ry="9" fill="#1a28c8" opacity="0.65" filter="url(#bb2)" transform="rotate(0 260.3 822)"/>
<ellipse cx="259" cy="828.2" rx="7.5" ry="3.2" fill="#1422f0" opacity="0.9" filter="url(#bb3)" transform="rotate(-5 259 828.2)"/>
<ellipse cx="259" cy="828.2" rx="5.4" ry="2.24" fill="#0c28ff" filter="url(#bb)" transform="rotate(-5 259 828.2)"/>
<ellipse cx="320.3" cy="807.8" rx="9" ry="5.5" fill="#1a2cc0" opacity="0.5" filter="url(#bb3)" transform="rotate(0 320.3 807.8)"/>
<ellipse cx="333.1" cy="835.9" rx="10.5" ry="4" fill="#1422f0" opacity="0.9" filter="url(#bb3)" transform="rotate(5 333.1 835.9)"/>
<ellipse cx="333.1" cy="835.9" rx="7.56" ry="2.8" fill="#0c28ff" filter="url(#bb)" transform="rotate(5 333.1 835.9)"/>
<ellipse cx="315" cy="833" rx="6" ry="4" fill="#1a2cc0" opacity="0.5" filter="url(#bb3)" transform="rotate(0 315 833)"/>
<ellipse cx="301.9" cy="863.5" rx="8.5" ry="3.6" fill="#1422f0" opacity="0.9" filter="url(#bb3)" transform="rotate(-5 301.9 863.5)"/>
<ellipse cx="301.9" cy="863.5" rx="6.12" ry="2.52" fill="#0c28ff" filter="url(#bb)" transform="rotate(-5 301.9 863.5)"/>
<ellipse cx="241.9" cy="873.7" rx="10.5" ry="4" fill="#1422f0" opacity="0.9" filter="url(#bb3)" transform="rotate(0 241.9 873.7)"/>
<ellipse cx="241.9" cy="873.7" rx="7.56" ry="2.8" fill="#0c28ff" filter="url(#bb)" transform="rotate(0 241.9 873.7)"/>
<ellipse cx="287.1" cy="878.8" rx="10" ry="3.6" fill="#1422f0" opacity="0.9" filter="url(#bb3)" transform="rotate(-8 287.1 878.8)"/>
<ellipse cx="287.1" cy="878.8" rx="7.2" ry="2.52" fill="#0c28ff" filter="url(#bb)" transform="rotate(-8 287.1 878.8)"/>
<ellipse cx="198.5" cy="856" rx="3" ry="6" fill="#1a2cc0" opacity="0.5" filter="url(#bb3)" transform="rotate(0 198.5 856)"/>
</g>
<clipPath id="hc5"><rect x="33" y="886.1" width="161.2" height="83.6"/></clipPath>
<g clip-path="url(#hc5)">
<rect x="33" y="886.1" width="161.2" height="83.6" fill="#2a0404" filter="url(#nz)"/>
<rect x="33" y="886.1" width="161.2" height="83.6" fill="#2a0404" filter="url(#hz)" opacity="0.4"/>
<circle cx="86.11" cy="905.12" r="0.62" fill="#b01010" opacity="0.65"/>
<circle cx="55.5" cy="931.8" r="0.92" fill="#b01010" opacity="0.39"/>
<circle cx="134.35" cy="930.4" r="0.93" fill="#b01010" opacity="0.53"/>
<circle cx="112.13" cy="961.64" r="0.84" fill="#b01010" opacity="0.37"/>
<circle cx="162.57" cy="919.47" r="0.94" fill="#b01010" opacity="0.73"/>
<circle cx="112.51" cy="920.88" r="0.6" fill="#b01010" opacity="0.42"/>
<circle cx="66.22" cy="900.16" r="0.83" fill="#b01010" opacity="0.32"/>
<circle cx="129.52" cy="936.08" r="0.83" fill="#b01010" opacity="0.56"/>
<circle cx="182.48" cy="909.61" r="0.54" fill="#b01010" opacity="0.56"/>
<circle cx="76.42" cy="968.71" r="0.91" fill="#b01010" opacity="0.61"/>
<circle cx="167.38" cy="906.53" r="0.72" fill="#b01010" opacity="0.47"/>
<circle cx="88.64" cy="917.35" r="0.71" fill="#b01010" opacity="0.59"/>
<circle cx="37.06" cy="931.19" r="0.56" fill="#b01010" opacity="0.74"/>
<circle cx="121.94" cy="935.36" r="0.64" fill="#b01010" opacity="0.62"/>
<circle cx="147.46" cy="962.18" r="0.76" fill="#b01010" opacity="0.42"/>
<circle cx="134.32" cy="890.31" r="0.83" fill="#b01010" opacity="0.44"/>
<circle cx="148.96" cy="897.13" r="0.77" fill="#b01010" opacity="0.38"/>
<circle cx="38.89" cy="908.15" r="0.88" fill="#b01010" opacity="0.47"/>
<circle cx="117.28" cy="952.17" r="0.94" fill="#b01010" opacity="0.42"/>
<circle cx="144.88" cy="951.46" r="0.86" fill="#b01010" opacity="0.46"/>
<circle cx="109.47" cy="951.64" r="0.61" fill="#b01010" opacity="0.52"/>
<circle cx="135.12" cy="957.26" r="0.61" fill="#b01010" opacity="0.6"/>
<circle cx="68" cy="899.22" r="0.71" fill="#b01010" opacity="0.59"/>
<circle cx="136.19" cy="965.36" r="0.57" fill="#b01010" opacity="0.54"/>
<circle cx="110.38" cy="907.74" r="0.91" fill="#b01010" opacity="0.36"/>
<circle cx="75" cy="889.48" r="0.79" fill="#b01010" opacity="0.6"/>
<circle cx="69.05" cy="963.16" r="0.79" fill="#b01010" opacity="0.39"/>
<circle cx="184.8" cy="957.44" r="0.64" fill="#b01010" opacity="0.69"/>
<circle cx="54" cy="915.18" r="0.69" fill="#b01010" opacity="0.73"/>
<circle cx="81.16" cy="918.35" r="0.59" fill="#b01010" opacity="0.67"/>
<circle cx="62.58" cy="956.97" r="0.65" fill="#b01010" opacity="0.55"/>
<circle cx="174.31" cy="908.39" r="0.74" fill="#b01010" opacity="0.59"/>
<circle cx="126.13" cy="920.16" r="0.79" fill="#b01010" opacity="0.44"/>
<circle cx="57.99" cy="886.85" r="0.77" fill="#b01010" opacity="0.56"/>
<circle cx="161.9" cy="899.21" r="0.8" fill="#b01010" opacity="0.5"/>
<circle cx="117.63" cy="955.61" r="0.73" fill="#b01010" opacity="0.5"/>
<circle cx="137.07" cy="898.46" r="0.89" fill="#b01010" opacity="0.53"/>
<circle cx="39.83" cy="926.35" r="0.93" fill="#b01010" opacity="0.74"/>
<circle cx="101.72" cy="908.29" r="0.92" fill="#b01010" opacity="0.43"/>
<circle cx="35.89" cy="906.75" r="0.71" fill="#b01010" opacity="0.6"/>
<circle cx="43.79" cy="914.05" r="0.83" fill="#b01010" opacity="0.45"/>
<circle cx="61.31" cy="945.55" r="0.7" fill="#b01010" opacity="0.61"/>
<circle cx="111.06" cy="954.02" r="0.73" fill="#b01010" opacity="0.74"/>
<circle cx="164.07" cy="946.43" r="0.72" fill="#b01010" opacity="0.57"/>
<circle cx="93.72" cy="892.48" r="0.9" fill="#b01010" opacity="0.66"/>
<circle cx="156.63" cy="957.93" r="0.75" fill="#b01010" opacity="0.75"/>
<circle cx="109.28" cy="968.08" r="0.54" fill="#b01010" opacity="0.47"/>
<circle cx="125.06" cy="954.52" r="0.73" fill="#b01010" opacity="0.66"/>
<circle cx="93.25" cy="942.7" r="0.86" fill="#b01010" opacity="0.57"/>
<circle cx="36.36" cy="941.02" r="0.5" fill="#b01010" opacity="0.44"/>
<circle cx="51.49" cy="949.92" r="0.58" fill="#b01010" opacity="0.62"/>
<circle cx="44.65" cy="903.4" r="0.81" fill="#b01010" opacity="0.72"/>
<circle cx="44.53" cy="937.46" r="0.68" fill="#b01010" opacity="0.58"/>
<circle cx="45.46" cy="887.5" r="0.54" fill="#b01010" opacity="0.7"/>
<circle cx="112.07" cy="937.3" r="0.56" fill="#b01010" opacity="0.61"/>
<circle cx="178.25" cy="902.65" r="0.85" fill="#b01010" opacity="0.68"/>
<circle cx="192.94" cy="933.4" r="0.79" fill="#b01010" opacity="0.46"/>
<circle cx="158.88" cy="912.06" r="0.78" fill="#b01010" opacity="0.58"/>
<circle cx="192.48" cy="951.91" r="0.54" fill="#b01010" opacity="0.38"/>
<circle cx="90.58" cy="919.23" r="0.82" fill="#b01010" opacity="0.42"/>
<rect x="33" y="886.1" width="161.2" height="83.6" fill="#000" opacity="0.28"/>
</g>
<clipPath id="hc6"><rect x="196.9" y="886.1" width="161.5" height="83.6"/></clipPath>
<g clip-path="url(#hc6)">
<rect x="196.9" y="886.1" width="161.5" height="83.6" fill="#2a0404" filter="url(#nz2)"/>
<rect x="196.9" y="886.1" width="161.5" height="83.6" fill="#2a0404" filter="url(#hz)" opacity="0.5"/>
<circle cx="287.17" cy="923.9" r="0.64" fill="#b01010" opacity="0.59"/>
<circle cx="267" cy="967.99" r="0.56" fill="#b01010" opacity="0.7"/>
<circle cx="299.8" cy="924.47" r="0.54" fill="#b01010" opacity="0.59"/>
<circle cx="326.63" cy="915.35" r="0.82" fill="#b01010" opacity="0.54"/>
<circle cx="211.48" cy="957.94" r="0.64" fill="#b01010" opacity="0.52"/>
<circle cx="319.88" cy="959.33" r="0.88" fill="#b01010" opacity="0.47"/>
<circle cx="333.72" cy="898.87" r="0.75" fill="#b01010" opacity="0.49"/>
<circle cx="336.77" cy="946.48" r="0.8" fill="#b01010" opacity="0.66"/>
<circle cx="253.05" cy="923.22" r="0.55" fill="#b01010" opacity="0.46"/>
<circle cx="229.11" cy="947.24" r="0.56" fill="#b01010" opacity="0.71"/>
<circle cx="293.83" cy="923.4" r="0.55" fill="#b01010" opacity="0.5"/>
<circle cx="287.95" cy="898.15" r="0.94" fill="#b01010" opacity="0.46"/>
<circle cx="267.08" cy="909.94" r="0.67" fill="#b01010" opacity="0.42"/>
<circle cx="334.84" cy="892.09" r="0.66" fill="#b01010" opacity="0.57"/>
<circle cx="274.34" cy="913.22" r="0.72" fill="#b01010" opacity="0.33"/>
<circle cx="246.53" cy="922.48" r="0.85" fill="#b01010" opacity="0.49"/>
<circle cx="263.97" cy="940.78" r="0.62" fill="#b01010" opacity="0.55"/>
<circle cx="228.35" cy="937.69" r="0.74" fill="#b01010" opacity="0.59"/>
<circle cx="338.17" cy="952.57" r="0.94" fill="#b01010" opacity="0.4"/>
<circle cx="350.96" cy="923.29" r="0.66" fill="#b01010" opacity="0.5"/>
<circle cx="345.68" cy="965.89" r="0.86" fill="#b01010" opacity="0.44"/>
<circle cx="216.09" cy="903.13" r="0.8" fill="#b01010" opacity="0.62"/>
<circle cx="207.5" cy="886.4" r="0.95" fill="#b01010" opacity="0.45"/>
<circle cx="203.64" cy="925.01" r="0.54" fill="#b01010" opacity="0.67"/>
<circle cx="282.4" cy="937.28" r="0.92" fill="#b01010" opacity="0.36"/>
<circle cx="231.65" cy="951.88" r="0.77" fill="#b01010" opacity="0.5"/>
<circle cx="254.42" cy="937.89" r="0.93" fill="#b01010" opacity="0.73"/>
<circle cx="345.06" cy="967.9" r="0.56" fill="#b01010" opacity="0.31"/>
<circle cx="330.81" cy="906.76" r="0.73" fill="#b01010" opacity="0.51"/>
<circle cx="354.15" cy="923.1" r="0.56" fill="#b01010" opacity="0.39"/>
<circle cx="342.85" cy="954.31" r="0.56" fill="#b01010" opacity="0.73"/>
<circle cx="256.95" cy="946.9" r="0.75" fill="#b01010" opacity="0.69"/>
<circle cx="275.95" cy="888.58" r="0.75" fill="#b01010" opacity="0.68"/>
<circle cx="263.24" cy="955.19" r="0.7" fill="#b01010" opacity="0.46"/>
<circle cx="254.9" cy="905.2" r="0.73" fill="#b01010" opacity="0.73"/>
<circle cx="292.31" cy="950.28" r="0.58" fill="#b01010" opacity="0.47"/>
<circle cx="290.61" cy="918.18" r="0.5" fill="#b01010" opacity="0.69"/>
<circle cx="217.75" cy="941.18" r="0.94" fill="#b01010" opacity="0.43"/>
<circle cx="240.46" cy="913.8" r="0.74" fill="#b01010" opacity="0.74"/>
<circle cx="220.26" cy="906.58" r="0.9" fill="#b01010" opacity="0.42"/>
<circle cx="304.63" cy="946.43" r="0.5" fill="#b01010" opacity="0.31"/>
<circle cx="319.49" cy="962.88" r="0.81" fill="#b01010" opacity="0.51"/>
<circle cx="213.21" cy="930.15" r="0.55" fill="#b01010" opacity="0.45"/>
<circle cx="202.58" cy="929.15" r="0.71" fill="#b01010" opacity="0.43"/>
<circle cx="232.65" cy="891.63" r="0.51" fill="#b01010" opacity="0.36"/>
<circle cx="355.57" cy="888.87" r="0.82" fill="#b01010" opacity="0.51"/>
<circle cx="291.8" cy="911.58" r="0.94" fill="#b01010" opacity="0.66"/>
<circle cx="262.25" cy="922.17" r="0.91" fill="#b01010" opacity="0.37"/>
<circle cx="338.06" cy="937.86" r="0.76" fill="#b01010" opacity="0.54"/>
<circle cx="292.33" cy="893.69" r="0.61" fill="#b01010" opacity="0.46"/>
<circle cx="232.65" cy="893.26" r="0.82" fill="#b01010" opacity="0.49"/>
<circle cx="316.59" cy="918.87" r="0.92" fill="#b01010" opacity="0.41"/>
<circle cx="279.65" cy="921.45" r="0.86" fill="#b01010" opacity="0.36"/>
<circle cx="285.06" cy="924.03" r="0.78" fill="#b01010" opacity="0.4"/>
<circle cx="284.56" cy="968.45" r="0.55" fill="#b01010" opacity="0.74"/>
<rect x="196.9" y="886.1" width="161.5" height="83.6" fill="#000" opacity="0.28"/>
<ellipse cx="230.9" cy="888.2" rx="25" ry="3.6" fill="#1422f0" opacity="0.9" filter="url(#bb3)" transform="rotate(-3 230.9 888.2)"/>
<ellipse cx="230.9" cy="888.2" rx="18" ry="2.52" fill="#0c28ff" filter="url(#bb)" transform="rotate(-3 230.9 888.2)"/>
<ellipse cx="325.4" cy="889" rx="13" ry="3.4" fill="#1422f0" opacity="0.9" filter="url(#bb3)" transform="rotate(5 325.4 889)"/>
<ellipse cx="325.4" cy="889" rx="9.36" ry="2.38" fill="#0c28ff" filter="url(#bb)" transform="rotate(5 325.4 889)"/>
<ellipse cx="199" cy="910.7" rx="4" ry="6" fill="#1422f0" opacity="0.9" filter="url(#bb3)" transform="rotate(0 199 910.7)"/>
<ellipse cx="199" cy="910.7" rx="2.88" ry="4.2" fill="#0c28ff" filter="url(#bb)" transform="rotate(0 199 910.7)"/>
<ellipse cx="354" cy="917" rx="6" ry="5" fill="#1422f0" opacity="0.9" filter="url(#bb3)" transform="rotate(0 354 917)"/>
<ellipse cx="354" cy="917" rx="4.32" ry="3.5" fill="#0c28ff" filter="url(#bb)" transform="rotate(0 354 917)"/>
<ellipse cx="279.4" cy="907.6" rx="19" ry="1.6" fill="#1a2cc0" opacity="0.5" filter="url(#bb3)" transform="rotate(-10 279.4 907.6)"/>
<ellipse cx="228.3" cy="922.2" rx="24" ry="1.8" fill="#1a2cc0" opacity="0.5" filter="url(#bb3)" transform="rotate(-8 228.3 922.2)"/>
<ellipse cx="207.9" cy="940.8" rx="14" ry="4" fill="#1422f0" opacity="0.9" filter="url(#bb3)" transform="rotate(-15 207.9 940.8)"/>
<ellipse cx="207.9" cy="940.8" rx="10.08" ry="2.8" fill="#0c28ff" filter="url(#bb)" transform="rotate(-15 207.9 940.8)"/>
<ellipse cx="343.3" cy="940.8" rx="12" ry="2.2" fill="#1626e0" opacity="0.85" filter="url(#bb3)" transform="rotate(-3 343.3 940.8)"/>
<ellipse cx="310" cy="935" rx="5" ry="2" fill="#1a2cc0" opacity="0.5" filter="url(#bb3)" transform="rotate(0 310 935)"/>
<ellipse cx="294.8" cy="963" rx="30" ry="2.4" fill="#1422f0" opacity="0.9" filter="url(#bb3)" transform="rotate(8 294.8 963)"/>
<ellipse cx="294.8" cy="963" rx="21.6" ry="1.68" fill="#0c28ff" filter="url(#bb)" transform="rotate(8 294.8 963)"/>
<ellipse cx="199" cy="954" rx="3" ry="6" fill="#1a2cc0" opacity="0.5" filter="url(#bb3)" transform="rotate(0 199 954)"/>
</g>
<text x="39.9" y="726.1" font-size="8.5" font-weight="bold" fill="#e23a42">SPARC</text>
<text x="204" y="725.8" font-size="8.5" font-weight="bold" fill="#e23a42">SPARC</text>
<text x="240.3" y="724.5" font-size="8.4" font-weight="bold" fill="#1c6ee0">DAPI</text>
<text x="30.7" y="753.6" font-size="8.5" text-anchor="middle" font-weight="bold" transform="rotate(-90 30.7 753.6)">NC</text>
<text x="30.7" y="834.3" font-size="8.5" text-anchor="middle" font-weight="bold" transform="rotate(-90 30.7 834.3)">FD-F</text>
<text x="30.7" y="924.7" font-size="8.5" text-anchor="middle" font-weight="bold" transform="rotate(-90 30.7 924.7)">FD-T</text>
<text x="345.3" y="962.8" font-size="7.6" text-anchor="middle" font-weight="bold" fill="#fff">5 μm</text>
<rect x="336.4" y="965.4" width="19.2" height="1.4" fill="#fff"/>
</g>
<g id="pi">
<text x="403.5" y="712.6" font-size="16.8" font-weight="bold">i</text>
<circle cx="481.4" cy="706.4" r="2.6" fill="#000"/>
<text x="493.1" y="709.4" font-size="8.3" font-weight="bold" fill="#231815">NC</text>
<circle cx="528.3" cy="706.4" r="2.6" fill="#9a9a9a"/>
<text x="539.6" y="709.4" font-size="8.3" font-weight="bold" fill="#231815">FD-F</text>
<circle cx="582" cy="706.4" r="2.6" fill="#0fa55a"/>
<text x="593.8" y="709.4" font-size="8.3" font-weight="bold" fill="#231815">FD-T</text>
<line x1="447.7" y1="718.2" x2="447.7" y2="827.9" stroke="#000" stroke-width="0.8"/>
<line x1="445.3" y1="827.5" x2="447.7" y2="827.5" stroke="#000" stroke-width="0.8"/>
<text x="444.6" y="830.5" font-size="8.5" text-anchor="end" font-weight="bold">0.0</text>
<line x1="445.3" y1="809.35" x2="447.7" y2="809.35" stroke="#000" stroke-width="0.8"/>
<text x="444.6" y="812.35" font-size="8.5" text-anchor="end" font-weight="bold">0.5</text>
<line x1="445.3" y1="791.2" x2="447.7" y2="791.2" stroke="#000" stroke-width="0.8"/>
<text x="444.6" y="794.2" font-size="8.5" text-anchor="end" font-weight="bold">1.0</text>
<line x1="445.3" y1="773.05" x2="447.7" y2="773.05" stroke="#000" stroke-width="0.8"/>
<text x="444.6" y="776.05" font-size="8.5" text-anchor="end" font-weight="bold">1.5</text>
<line x1="445.3" y1="754.9" x2="447.7" y2="754.9" stroke="#000" stroke-width="0.8"/>
<text x="444.6" y="757.9" font-size="8.5" text-anchor="end" font-weight="bold">2.0</text>
<line x1="445.3" y1="736.75" x2="447.7" y2="736.75" stroke="#000" stroke-width="0.8"/>
<text x="444.6" y="739.75" font-size="8.5" text-anchor="end" font-weight="bold">2.5</text>
<line x1="445.3" y1="718.6" x2="447.7" y2="718.6" stroke="#000" stroke-width="0.8"/>
<text x="444.6" y="721.6" font-size="8.5" text-anchor="end" font-weight="bold">3.0</text>
<line x1="447.7" y1="827.5" x2="666.1" y2="827.5" stroke="#000" stroke-width="0.8"/>
<text x="427.8" y="773" font-size="8.65" text-anchor="middle" font-weight="bold" transform="rotate(-90 427.8 773)">Relative intensity</text>
<line x1="416.3" y1="719.1" x2="416.3" y2="823" stroke="#231815" stroke-width="0.8"/>
<text x="411.2" y="767.7" font-size="8.8" text-anchor="middle" font-weight="bold" fill="#231815" transform="rotate(-90 411.2 767.7)">FD48h</text>
<rect x="452.74" y="792.01" width="7.74" height="35.49" fill="#fbfbfb" stroke="#000" stroke-width="0.8"/>
<line x1="456.61" y1="789.54" x2="456.61" y2="794.29" stroke="#000" stroke-width="0.7"/>
<line x1="454.01" y1="789.54" x2="459.21" y2="789.54" stroke="#000" stroke-width="0.7"/>
<line x1="454.01" y1="794.29" x2="459.21" y2="794.29" stroke="#000" stroke-width="0.7"/>
<rect x="462.8" y="785.94" width="7.74" height="41.56" fill="#fbfbfb" stroke="#000" stroke-width="0.8"/>
<line x1="466.67" y1="782.9" x2="466.67" y2="788.78" stroke="#000" stroke-width="0.7"/>
<line x1="464.07" y1="782.9" x2="469.27" y2="782.9" stroke="#000" stroke-width="0.7"/>
<line x1="464.07" y1="788.78" x2="469.27" y2="788.78" stroke="#000" stroke-width="0.7"/>
<line x1="466.67" y1="827.5" x2="466.67" y2="829.9" stroke="#000" stroke-width="0.7"/>
<rect x="472.66" y="799.6" width="7.74" height="27.9" fill="#fbfbfb" stroke="#000" stroke-width="0.8"/>
<line x1="476.53" y1="797.32" x2="476.53" y2="801.88" stroke="#000" stroke-width="0.7"/>
<line x1="473.93" y1="797.32" x2="479.13" y2="797.32" stroke="#000" stroke-width="0.7"/>
<line x1="473.93" y1="801.88" x2="479.13" y2="801.88" stroke="#000" stroke-width="0.7"/>
<circle cx="453.66" cy="788.21" r="1.75" fill="#000"/>
<circle cx="458.6" cy="785.37" r="1.75" fill="#000"/>
<circle cx="455.18" cy="790.68" r="1.75" fill="#000"/>
<circle cx="458.98" cy="791.06" r="1.75" fill="#000"/>
<circle cx="453.66" cy="794.29" r="1.75" fill="#000"/>
<circle cx="458.03" cy="794.86" r="1.75" fill="#000"/>
<circle cx="455.18" cy="796.75" r="1.75" fill="#000"/>
<circle cx="463.72" cy="780.05" r="1.75" fill="#9a9a9a"/>
<circle cx="468.85" cy="778.15" r="1.75" fill="#9a9a9a"/>
<circle cx="465.62" cy="783.47" r="1.75" fill="#9a9a9a"/>
<circle cx="468.47" cy="786.32" r="1.75" fill="#9a9a9a"/>
<circle cx="465.62" cy="790.11" r="1.75" fill="#9a9a9a"/>
<circle cx="467.52" cy="792.96" r="1.75" fill="#9a9a9a"/>
<circle cx="466.19" cy="796.37" r="1.75" fill="#9a9a9a"/>
<circle cx="474.16" cy="795.81" r="1.75" fill="#0fa55a"/>
<circle cx="479.29" cy="794.29" r="1.75" fill="#0fa55a"/>
<circle cx="475.11" cy="799.6" r="1.75" fill="#0fa55a"/>
<circle cx="478.91" cy="800.55" r="1.75" fill="#0fa55a"/>
<circle cx="474.16" cy="801.5" r="1.75" fill="#0fa55a"/>
<circle cx="476.63" cy="804.92" r="1.75" fill="#0fa55a"/>
<circle cx="478.91" cy="802.45" r="1.75" fill="#0fa55a"/>
<rect x="488.8" y="791.06" width="7.74" height="36.44" fill="#fbfbfb" stroke="#000" stroke-width="0.8"/>
<line x1="492.67" y1="787.26" x2="492.67" y2="794.86" stroke="#000" stroke-width="0.7"/>
<line x1="490.07" y1="787.26" x2="495.27" y2="787.26" stroke="#000" stroke-width="0.7"/>
<line x1="490.07" y1="794.86" x2="495.27" y2="794.86" stroke="#000" stroke-width="0.7"/>
<rect x="498.86" y="779.1" width="7.74" height="48.4" fill="#fbfbfb" stroke="#000" stroke-width="0.8"/>
<line x1="502.73" y1="773.41" x2="502.73" y2="784.8" stroke="#000" stroke-width="0.7"/>
<line x1="500.13" y1="773.41" x2="505.33" y2="773.41" stroke="#000" stroke-width="0.7"/>
<line x1="500.13" y1="784.8" x2="505.33" y2="784.8" stroke="#000" stroke-width="0.7"/>
<line x1="502.73" y1="827.5" x2="502.73" y2="829.9" stroke="#000" stroke-width="0.7"/>
<rect x="508.72" y="793.91" width="7.74" height="33.59" fill="#fbfbfb" stroke="#000" stroke-width="0.8"/>
<line x1="512.59" y1="790.68" x2="512.59" y2="797.13" stroke="#000" stroke-width="0.7"/>
<line x1="509.99" y1="790.68" x2="515.19" y2="790.68" stroke="#000" stroke-width="0.7"/>
<line x1="509.99" y1="797.13" x2="515.19" y2="797.13" stroke="#000" stroke-width="0.7"/>
<circle cx="492.19" cy="777.78" r="1.75" fill="#000"/>
<circle cx="490.86" cy="785.75" r="1.75" fill="#000"/>
<circle cx="495.04" cy="790.68" r="1.75" fill="#000"/>
<circle cx="489.72" cy="792.96" r="1.75" fill="#000"/>
<circle cx="495.04" cy="793.91" r="1.75" fill="#000"/>
<circle cx="489.72" cy="796.75" r="1.75" fill="#000"/>
<circle cx="492.76" cy="799.98" r="1.75" fill="#000"/>
<circle cx="502.25" cy="754.62" r="1.75" fill="#9a9a9a"/>
<circle cx="500.73" cy="778.72" r="1.75" fill="#9a9a9a"/>
<circle cx="505.48" cy="780.62" r="1.75" fill="#9a9a9a"/>
<circle cx="500.35" cy="783.47" r="1.75" fill="#9a9a9a"/>
<circle cx="504.53" cy="786.32" r="1.75" fill="#9a9a9a"/>
<circle cx="502.63" cy="788.21" r="1.75" fill="#9a9a9a"/>
<circle cx="510.22" cy="786.32" r="1.75" fill="#0fa55a"/>
<circle cx="515.35" cy="784.42" r="1.75" fill="#0fa55a"/>
<circle cx="510.22" cy="792.96" r="1.75" fill="#0fa55a"/>
<circle cx="515.35" cy="793.91" r="1.75" fill="#0fa55a"/>
<circle cx="510.22" cy="798.65" r="1.75" fill="#0fa55a"/>
<circle cx="514.97" cy="799.6" r="1.75" fill="#0fa55a"/>
<circle cx="510.6" cy="801.5" r="1.75" fill="#0fa55a"/>
<rect x="524.86" y="768.29" width="7.74" height="59.21" fill="#fbfbfb" stroke="#000" stroke-width="0.8"/>
<line x1="528.73" y1="764.49" x2="528.73" y2="772.08" stroke="#000" stroke-width="0.7"/>
<line x1="526.13" y1="764.49" x2="531.33" y2="764.49" stroke="#000" stroke-width="0.7"/>
<line x1="526.13" y1="772.08" x2="531.33" y2="772.08" stroke="#000" stroke-width="0.7"/>
<rect x="534.73" y="764.49" width="7.93" height="63.01" fill="#fbfbfb" stroke="#000" stroke-width="0.8"/>
<line x1="538.69" y1="759.18" x2="538.69" y2="769.8" stroke="#000" stroke-width="0.7"/>
<line x1="536.09" y1="759.18" x2="541.29" y2="759.18" stroke="#000" stroke-width="0.7"/>
<line x1="536.09" y1="769.8" x2="541.29" y2="769.8" stroke="#000" stroke-width="0.7"/>
<line x1="538.69" y1="827.5" x2="538.69" y2="829.9" stroke="#000" stroke-width="0.7"/>
<rect x="544.78" y="775.88" width="7.74" height="51.62" fill="#fbfbfb" stroke="#000" stroke-width="0.8"/>
<line x1="548.65" y1="771.13" x2="548.65" y2="780.62" stroke="#000" stroke-width="0.7"/>
<line x1="546.05" y1="771.13" x2="551.25" y2="771.13" stroke="#000" stroke-width="0.7"/>
<line x1="546.05" y1="780.62" x2="551.25" y2="780.62" stroke="#000" stroke-width="0.7"/>
<circle cx="528.63" cy="755.57" r="1.75" fill="#000"/>
<circle cx="528.63" cy="761.07" r="1.75" fill="#000"/>
<circle cx="526.35" cy="767.34" r="1.75" fill="#000"/>
<circle cx="531.1" cy="768.29" r="1.75" fill="#000"/>
<circle cx="526.35" cy="771.13" r="1.75" fill="#000"/>
<circle cx="528.63" cy="773.98" r="1.75" fill="#000"/>
<circle cx="528.63" cy="777.78" r="1.75" fill="#000"/>
<circle cx="538.31" cy="751.2" r="1.75" fill="#9a9a9a"/>
<circle cx="535.84" cy="756.52" r="1.75" fill="#9a9a9a"/>
<circle cx="541.54" cy="758.8" r="1.75" fill="#9a9a9a"/>
<circle cx="538.31" cy="763.54" r="1.75" fill="#9a9a9a"/>
<circle cx="538.31" cy="771.13" r="1.75" fill="#9a9a9a"/>
<circle cx="538.31" cy="776.83" r="1.75" fill="#9a9a9a"/>
<circle cx="538.31" cy="781" r="1.75" fill="#9a9a9a"/>
<circle cx="546.28" cy="767.34" r="1.75" fill="#0fa55a"/>
<circle cx="551.41" cy="765.44" r="1.75" fill="#0fa55a"/>
<circle cx="547.23" cy="771.13" r="1.75" fill="#0fa55a"/>
<circle cx="551.03" cy="771.13" r="1.75" fill="#0fa55a"/>
<circle cx="548.56" cy="777.78" r="1.75" fill="#0fa55a"/>
<circle cx="548.56" cy="782.52" r="1.75" fill="#0fa55a"/>
<circle cx="548.56" cy="792.96" r="1.75" fill="#0fa55a"/>
<rect x="560.52" y="793.91" width="7.74" height="33.59" fill="#fbfbfb" stroke="#000" stroke-width="0.8"/>
<line x1="564.39" y1="790.11" x2="564.39" y2="797.7" stroke="#000" stroke-width="0.7"/>
<line x1="561.79" y1="790.11" x2="566.99" y2="790.11" stroke="#000" stroke-width="0.7"/>
<line x1="561.79" y1="797.7" x2="566.99" y2="797.7" stroke="#000" stroke-width="0.7"/>
<rect x="570.58" y="788.21" width="7.74" height="39.29" fill="#fbfbfb" stroke="#000" stroke-width="0.8"/>
<line x1="574.45" y1="784.8" x2="574.45" y2="791.44" stroke="#000" stroke-width="0.7"/>
<line x1="571.85" y1="784.8" x2="577.05" y2="784.8" stroke="#000" stroke-width="0.7"/>
<line x1="571.85" y1="791.44" x2="577.05" y2="791.44" stroke="#000" stroke-width="0.7"/>
<line x1="574.45" y1="827.5" x2="574.45" y2="829.9" stroke="#000" stroke-width="0.7"/>
<rect x="580.45" y="797.32" width="7.93" height="30.18" fill="#fbfbfb" stroke="#000" stroke-width="0.8"/>
<line x1="584.42" y1="795.81" x2="584.42" y2="798.65" stroke="#000" stroke-width="0.7"/>
<line x1="581.82" y1="795.81" x2="587.02" y2="795.81" stroke="#000" stroke-width="0.7"/>
<line x1="581.82" y1="798.65" x2="587.02" y2="798.65" stroke="#000" stroke-width="0.7"/>
<circle cx="562.02" cy="784.42" r="1.75" fill="#000"/>
<circle cx="567.34" cy="782.52" r="1.75" fill="#000"/>
<circle cx="564.49" cy="792.39" r="1.75" fill="#000"/>
<circle cx="562.02" cy="795.81" r="1.75" fill="#000"/>
<circle cx="567.34" cy="798.65" r="1.75" fill="#000"/>
<circle cx="564.49" cy="806.24" r="1.75" fill="#000"/>
<circle cx="574.93" cy="775.31" r="1.75" fill="#9a9a9a"/>
<circle cx="574.93" cy="783.47" r="1.75" fill="#9a9a9a"/>
<circle cx="572.46" cy="790.11" r="1.75" fill="#9a9a9a"/>
<circle cx="576.83" cy="791.06" r="1.75" fill="#9a9a9a"/>
<circle cx="572.46" cy="793.91" r="1.75" fill="#9a9a9a"/>
<circle cx="582.14" cy="793.91" r="1.75" fill="#0fa55a"/>
<circle cx="587.26" cy="794.29" r="1.75" fill="#0fa55a"/>
<circle cx="582.52" cy="796.75" r="1.75" fill="#0fa55a"/>
<circle cx="586.88" cy="797.7" r="1.75" fill="#0fa55a"/>
<circle cx="584.8" cy="802.07" r="1.75" fill="#0fa55a"/>
<rect x="596.58" y="788.78" width="7.74" height="38.72" fill="#fbfbfb" stroke="#000" stroke-width="0.8"/>
<line x1="600.45" y1="784.42" x2="600.45" y2="792.96" stroke="#000" stroke-width="0.7"/>
<line x1="597.85" y1="784.42" x2="603.05" y2="784.42" stroke="#000" stroke-width="0.7"/>
<line x1="597.85" y1="792.96" x2="603.05" y2="792.96" stroke="#000" stroke-width="0.7"/>
<rect x="606.64" y="783.47" width="7.74" height="44.03" fill="#fbfbfb" stroke="#000" stroke-width="0.8"/>
<line x1="610.51" y1="779.29" x2="610.51" y2="787.26" stroke="#000" stroke-width="0.7"/>
<line x1="607.91" y1="779.29" x2="613.11" y2="779.29" stroke="#000" stroke-width="0.7"/>
<line x1="607.91" y1="787.26" x2="613.11" y2="787.26" stroke="#000" stroke-width="0.7"/>
<line x1="610.51" y1="827.5" x2="610.51" y2="829.9" stroke="#000" stroke-width="0.7"/>
<rect x="616.7" y="792.96" width="7.74" height="34.54" fill="#fbfbfb" stroke="#000" stroke-width="0.8"/>
<line x1="620.57" y1="788.59" x2="620.57" y2="797.13" stroke="#000" stroke-width="0.7"/>
<line x1="617.97" y1="788.59" x2="623.17" y2="788.59" stroke="#000" stroke-width="0.7"/>
<line x1="617.97" y1="797.13" x2="623.17" y2="797.13" stroke="#000" stroke-width="0.7"/>
<circle cx="600.55" cy="774.55" r="1.75" fill="#000"/>
<circle cx="598.08" cy="782.52" r="1.75" fill="#000"/>
<circle cx="603.4" cy="784.42" r="1.75" fill="#000"/>
<circle cx="598.08" cy="792.96" r="1.75" fill="#000"/>
<circle cx="603.4" cy="795.81" r="1.75" fill="#000"/>
<circle cx="600.55" cy="799.98" r="1.75" fill="#000"/>
<circle cx="610.61" cy="765.44" r="1.75" fill="#9a9a9a"/>
<circle cx="608.14" cy="779.67" r="1.75" fill="#9a9a9a"/>
<circle cx="612.89" cy="779.67" r="1.75" fill="#9a9a9a"/>
<circle cx="610.61" cy="784.42" r="1.75" fill="#9a9a9a"/>
<circle cx="608.14" cy="792.96" r="1.75" fill="#9a9a9a"/>
<circle cx="612.89" cy="793.91" r="1.75" fill="#9a9a9a"/>
<circle cx="620.86" cy="775.5" r="1.75" fill="#0fa55a"/>
<circle cx="618.58" cy="792.01" r="1.75" fill="#0fa55a"/>
<circle cx="623.32" cy="792.39" r="1.75" fill="#0fa55a"/>
<circle cx="622.38" cy="800.55" r="1.75" fill="#0fa55a"/>
<circle cx="619.53" cy="804.35" r="1.75" fill="#0fa55a"/>
<rect x="632.83" y="766.96" width="7.74" height="60.54" fill="#fbfbfb" stroke="#000" stroke-width="0.8"/>
<line x1="636.7" y1="759.75" x2="636.7" y2="774.36" stroke="#000" stroke-width="0.7"/>
<line x1="634.1" y1="759.75" x2="639.3" y2="759.75" stroke="#000" stroke-width="0.7"/>
<line x1="634.1" y1="774.36" x2="639.3" y2="774.36" stroke="#000" stroke-width="0.7"/>
<rect x="643.08" y="771.13" width="7.74" height="56.37" fill="#fbfbfb" stroke="#000" stroke-width="0.8"/>
<line x1="646.95" y1="763.54" x2="646.95" y2="777.78" stroke="#000" stroke-width="0.7"/>
<line x1="644.35" y1="763.54" x2="649.55" y2="763.54" stroke="#000" stroke-width="0.7"/>
<line x1="644.35" y1="777.78" x2="649.55" y2="777.78" stroke="#000" stroke-width="0.7"/>
<line x1="646.95" y1="827.5" x2="646.95" y2="829.9" stroke="#000" stroke-width="0.7"/>
<rect x="653.14" y="775.88" width="7.74" height="51.62" fill="#fbfbfb" stroke="#000" stroke-width="0.8"/>
<line x1="657.01" y1="770.56" x2="657.01" y2="780.62" stroke="#000" stroke-width="0.7"/>
<line x1="654.41" y1="770.56" x2="659.61" y2="770.56" stroke="#000" stroke-width="0.7"/>
<line x1="654.41" y1="780.62" x2="659.61" y2="780.62" stroke="#000" stroke-width="0.7"/>
<circle cx="636.61" cy="740.39" r="1.75" fill="#000"/>
<circle cx="636.61" cy="750.26" r="1.75" fill="#000"/>
<circle cx="639.46" cy="772.08" r="1.75" fill="#000"/>
<circle cx="634.33" cy="774.93" r="1.75" fill="#000"/>
<circle cx="639.46" cy="779.67" r="1.75" fill="#000"/>
<circle cx="634.33" cy="782.9" r="1.75" fill="#000"/>
<circle cx="647.05" cy="739.82" r="1.75" fill="#9a9a9a"/>
<circle cx="647.05" cy="765.44" r="1.75" fill="#9a9a9a"/>
<circle cx="645.15" cy="772.08" r="1.75" fill="#9a9a9a"/>
<circle cx="649.33" cy="773.03" r="1.75" fill="#9a9a9a"/>
<circle cx="647.05" cy="792.96" r="1.75" fill="#9a9a9a"/>
<circle cx="659.38" cy="764.49" r="1.75" fill="#0fa55a"/>
<circle cx="654.26" cy="767.34" r="1.75" fill="#0fa55a"/>
<circle cx="659.38" cy="770.18" r="1.75" fill="#0fa55a"/>
<circle cx="656.92" cy="774.36" r="1.75" fill="#0fa55a"/>
<circle cx="656.92" cy="780.62" r="1.75" fill="#0fa55a"/>
<circle cx="656.92" cy="793.91" r="1.75" fill="#0fa55a"/>
<text x="467.5" y="722.9" font-size="8.45" text-anchor="middle" font-weight="bold">0.0457</text>
<path d="M454.8 728.5V725.6H479.5V728.5" stroke="#000" stroke-width="0.7" fill="none"/>
<text x="467.5" y="738.1" font-size="8.45" text-anchor="middle" font-weight="bold">0.0011</text>
<path d="M468.8 743.3V739.9H479.5V743.3" stroke="#000" stroke-width="0.7" fill="none"/>
<text x="506.8" y="738.1" font-size="8.45" text-anchor="middle" font-weight="bold">0.0449</text>
<path d="M503 743.3V739.9H513.6V743.3" stroke="#000" stroke-width="0.7" fill="none"/>
<line x1="447.7" y1="844.11" x2="447.7" y2="953.3" stroke="#000" stroke-width="0.8"/>
<line x1="445.3" y1="952.9" x2="447.7" y2="952.9" stroke="#000" stroke-width="0.8"/>
<text x="444.6" y="955.9" font-size="8.5" text-anchor="end" font-weight="bold">0.0</text>
<line x1="445.3" y1="934.83" x2="447.7" y2="934.83" stroke="#000" stroke-width="0.8"/>
<text x="444.6" y="937.83" font-size="8.5" text-anchor="end" font-weight="bold">0.5</text>
<line x1="445.3" y1="916.77" x2="447.7" y2="916.77" stroke="#000" stroke-width="0.8"/>
<text x="444.6" y="919.77" font-size="8.5" text-anchor="end" font-weight="bold">1.0</text>
<line x1="445.3" y1="898.7" x2="447.7" y2="898.7" stroke="#000" stroke-width="0.8"/>
<text x="444.6" y="901.7" font-size="8.5" text-anchor="end" font-weight="bold">1.5</text>
<line x1="445.3" y1="880.64" x2="447.7" y2="880.64" stroke="#000" stroke-width="0.8"/>
<text x="444.6" y="883.64" font-size="8.5" text-anchor="end" font-weight="bold">2.0</text>
<line x1="445.3" y1="862.57" x2="447.7" y2="862.57" stroke="#000" stroke-width="0.8"/>
<text x="444.6" y="865.57" font-size="8.5" text-anchor="end" font-weight="bold">2.5</text>
<line x1="445.3" y1="844.51" x2="447.7" y2="844.51" stroke="#000" stroke-width="0.8"/>
<text x="444.6" y="847.51" font-size="8.5" text-anchor="end" font-weight="bold">3.0</text>
<line x1="447.7" y1="952.9" x2="666.1" y2="952.9" stroke="#000" stroke-width="0.8"/>
<text x="427.8" y="900" font-size="8.65" text-anchor="middle" font-weight="bold" transform="rotate(-90 427.8 900)">Relative intensity</text>
<line x1="416.3" y1="845.01" x2="416.3" y2="948.4" stroke="#231815" stroke-width="0.8"/>
<text x="411.2" y="894.6" font-size="8.8" text-anchor="middle" font-weight="bold" fill="#231815" transform="rotate(-90 411.2 894.6)">FD2W</text>
<rect x="452.84" y="917.87" width="7.52" height="35.03" fill="#fbfbfb" stroke="#000" stroke-width="0.8"/>
<line x1="456.6" y1="916.11" x2="456.6" y2="919.4" stroke="#000" stroke-width="0.7"/>
<line x1="454" y1="916.11" x2="459.2" y2="916.11" stroke="#000" stroke-width="0.7"/>
<line x1="454" y1="919.4" x2="459.2" y2="919.4" stroke="#000" stroke-width="0.7"/>
<rect x="462.69" y="916.55" width="7.74" height="36.35" fill="#fbfbfb" stroke="#000" stroke-width="0.8"/>
<line x1="466.56" y1="913.92" x2="466.56" y2="919.4" stroke="#000" stroke-width="0.7"/>
<line x1="463.96" y1="913.92" x2="469.16" y2="913.92" stroke="#000" stroke-width="0.7"/>
<line x1="463.96" y1="919.4" x2="469.16" y2="919.4" stroke="#000" stroke-width="0.7"/>
<line x1="466.56" y1="952.9" x2="466.56" y2="955.3" stroke="#000" stroke-width="0.7"/>
<rect x="472.98" y="928.81" width="7.52" height="24.09" fill="#fbfbfb" stroke="#000" stroke-width="0.8"/>
<line x1="476.75" y1="927.06" x2="476.75" y2="930.78" stroke="#000" stroke-width="0.7"/>
<line x1="474.15" y1="927.06" x2="479.35" y2="927.06" stroke="#000" stroke-width="0.7"/>
<line x1="474.15" y1="930.78" x2="479.35" y2="930.78" stroke="#000" stroke-width="0.7"/>
<circle cx="456.6" cy="913.49" r="1.75" fill="#000"/>
<circle cx="454.41" cy="918.74" r="1.75" fill="#000"/>
<circle cx="458.79" cy="918.3" r="1.75" fill="#000"/>
<circle cx="463.83" cy="914.36" r="1.75" fill="#9a9a9a"/>
<circle cx="469.3" cy="912.83" r="1.75" fill="#9a9a9a"/>
<circle cx="463.83" cy="917.87" r="1.75" fill="#9a9a9a"/>
<circle cx="469.3" cy="919.4" r="1.75" fill="#9a9a9a"/>
<circle cx="474.77" cy="925.97" r="1.75" fill="#0fa55a"/>
<circle cx="479.59" cy="924.87" r="1.75" fill="#0fa55a"/>
<circle cx="474.77" cy="930.35" r="1.75" fill="#0fa55a"/>
<circle cx="479.15" cy="930.78" r="1.75" fill="#0fa55a"/>
<rect x="488.75" y="913.49" width="7.52" height="39.41" fill="#fbfbfb" stroke="#000" stroke-width="0.8"/>
<line x1="492.51" y1="911.74" x2="492.51" y2="915.02" stroke="#000" stroke-width="0.7"/>
<line x1="489.91" y1="911.74" x2="495.11" y2="911.74" stroke="#000" stroke-width="0.7"/>
<line x1="489.91" y1="915.02" x2="495.11" y2="915.02" stroke="#000" stroke-width="0.7"/>
<rect x="498.82" y="907.36" width="7.74" height="45.54" fill="#fbfbfb" stroke="#000" stroke-width="0.8"/>
<line x1="502.69" y1="903.41" x2="502.69" y2="911.3" stroke="#000" stroke-width="0.7"/>
<line x1="500.09" y1="903.41" x2="505.29" y2="903.41" stroke="#000" stroke-width="0.7"/>
<line x1="500.09" y1="911.3" x2="505.29" y2="911.3" stroke="#000" stroke-width="0.7"/>
<line x1="502.69" y1="952.9" x2="502.69" y2="955.3" stroke="#000" stroke-width="0.7"/>
<rect x="509.11" y="914.36" width="7.52" height="38.54" fill="#fbfbfb" stroke="#000" stroke-width="0.8"/>
<line x1="512.87" y1="907.36" x2="512.87" y2="921.59" stroke="#000" stroke-width="0.7"/>
<line x1="510.27" y1="907.36" x2="515.47" y2="907.36" stroke="#000" stroke-width="0.7"/>
<line x1="510.27" y1="921.59" x2="515.47" y2="921.59" stroke="#000" stroke-width="0.7"/>
<circle cx="492.29" cy="910.64" r="1.75" fill="#000"/>
<circle cx="490.54" cy="914.36" r="1.75" fill="#000"/>
<circle cx="494.48" cy="914.36" r="1.75" fill="#000"/>
<circle cx="502.8" cy="897.06" r="1.75" fill="#9a9a9a"/>
<circle cx="500.61" cy="907.36" r="1.75" fill="#9a9a9a"/>
<circle cx="504.99" cy="908.45" r="1.75" fill="#9a9a9a"/>
<circle cx="502.8" cy="911.74" r="1.75" fill="#9a9a9a"/>
<circle cx="513.09" cy="894.66" r="1.75" fill="#0fa55a"/>
<circle cx="510.47" cy="917.21" r="1.75" fill="#0fa55a"/>
<circle cx="515.72" cy="918.3" r="1.75" fill="#0fa55a"/>
<circle cx="513.09" cy="925.97" r="1.75" fill="#0fa55a"/>
<rect x="525.22" y="897.02" width="7.63" height="55.88" fill="#fbfbfb" stroke="#000" stroke-width="0.8"/>
<line x1="529.03" y1="886.67" x2="529.03" y2="907.14" stroke="#000" stroke-width="0.7"/>
<line x1="526.43" y1="886.67" x2="531.63" y2="886.67" stroke="#000" stroke-width="0.7"/>
<line x1="526.43" y1="907.14" x2="531.63" y2="907.14" stroke="#000" stroke-width="0.7"/>
<rect x="535.33" y="895.1" width="7.63" height="57.8" fill="#fbfbfb" stroke="#000" stroke-width="0.8"/>
<line x1="539.15" y1="886.19" x2="539.15" y2="904.73" stroke="#000" stroke-width="0.7"/>
<line x1="536.55" y1="886.19" x2="541.75" y2="886.19" stroke="#000" stroke-width="0.7"/>
<line x1="536.55" y1="904.73" x2="541.75" y2="904.73" stroke="#000" stroke-width="0.7"/>
<line x1="539.15" y1="952.9" x2="539.15" y2="955.3" stroke="#000" stroke-width="0.7"/>
<rect x="545.21" y="899.91" width="7.63" height="52.99" fill="#fbfbfb" stroke="#000" stroke-width="0.8"/>
<line x1="549.02" y1="886.19" x2="549.02" y2="912.44" stroke="#000" stroke-width="0.7"/>
<line x1="546.42" y1="886.19" x2="551.62" y2="886.19" stroke="#000" stroke-width="0.7"/>
<line x1="546.42" y1="912.44" x2="551.62" y2="912.44" stroke="#000" stroke-width="0.7"/>
<circle cx="528.91" cy="877.76" r="1.75" fill="#000"/>
<circle cx="528.91" cy="902.32" r="1.75" fill="#000"/>
<circle cx="528.91" cy="909.07" r="1.75" fill="#000"/>
<circle cx="538.79" cy="873.42" r="1.75" fill="#9a9a9a"/>
<circle cx="538.79" cy="891.48" r="1.75" fill="#9a9a9a"/>
<circle cx="538.79" cy="898.71" r="1.75" fill="#9a9a9a"/>
<circle cx="538.79" cy="917.25" r="1.75" fill="#9a9a9a"/>
<circle cx="548.9" cy="863.06" r="1.75" fill="#0fa55a"/>
<circle cx="546.49" cy="904.73" r="1.75" fill="#0fa55a"/>
<circle cx="551.31" cy="906.42" r="1.75" fill="#0fa55a"/>
<circle cx="548.9" cy="923.52" r="1.75" fill="#0fa55a"/>
<rect x="561.34" y="921.59" width="7.63" height="31.31" fill="#fbfbfb" stroke="#000" stroke-width="0.8"/>
<line x1="565.16" y1="919.66" x2="565.16" y2="922.79" stroke="#000" stroke-width="0.7"/>
<line x1="562.56" y1="919.66" x2="567.76" y2="919.66" stroke="#000" stroke-width="0.7"/>
<line x1="562.56" y1="922.79" x2="567.76" y2="922.79" stroke="#000" stroke-width="0.7"/>
<rect x="571.46" y="914.36" width="7.63" height="38.54" fill="#fbfbfb" stroke="#000" stroke-width="0.8"/>
<line x1="575.27" y1="911.47" x2="575.27" y2="917.25" stroke="#000" stroke-width="0.7"/>
<line x1="572.67" y1="911.47" x2="577.87" y2="911.47" stroke="#000" stroke-width="0.7"/>
<line x1="572.67" y1="917.25" x2="577.87" y2="917.25" stroke="#000" stroke-width="0.7"/>
<line x1="575.27" y1="952.9" x2="575.27" y2="955.3" stroke="#000" stroke-width="0.7"/>
<rect x="581.33" y="924.72" width="7.63" height="28.18" fill="#fbfbfb" stroke="#000" stroke-width="0.8"/>
<line x1="585.15" y1="917.98" x2="585.15" y2="931.22" stroke="#000" stroke-width="0.7"/>
<line x1="582.55" y1="917.98" x2="587.75" y2="917.98" stroke="#000" stroke-width="0.7"/>
<line x1="582.55" y1="931.22" x2="587.75" y2="931.22" stroke="#000" stroke-width="0.7"/>
<circle cx="565.04" cy="917.98" r="1.75" fill="#000"/>
<circle cx="562.87" cy="922.07" r="1.75" fill="#000"/>
<circle cx="566.97" cy="921.59" r="1.75" fill="#000"/>
<circle cx="574.91" cy="907.86" r="1.75" fill="#9a9a9a"/>
<circle cx="572.99" cy="915.57" r="1.75" fill="#9a9a9a"/>
<circle cx="577.08" cy="916.29" r="1.75" fill="#9a9a9a"/>
<circle cx="574.91" cy="917.98" r="1.75" fill="#9a9a9a"/>
<circle cx="585.03" cy="911.96" r="1.75" fill="#0fa55a"/>
<circle cx="585.03" cy="917.98" r="1.75" fill="#0fa55a"/>
<circle cx="585.03" cy="931.22" r="1.75" fill="#0fa55a"/>
<circle cx="585.03" cy="937.24" r="1.75" fill="#0fa55a"/>
<rect x="597.47" y="911.47" width="7.63" height="41.43" fill="#fbfbfb" stroke="#000" stroke-width="0.8"/>
<line x1="601.29" y1="905.93" x2="601.29" y2="916.77" stroke="#000" stroke-width="0.7"/>
<line x1="598.69" y1="905.93" x2="603.89" y2="905.93" stroke="#000" stroke-width="0.7"/>
<line x1="598.69" y1="916.77" x2="603.89" y2="916.77" stroke="#000" stroke-width="0.7"/>
<rect x="607.59" y="903.04" width="7.63" height="49.86" fill="#fbfbfb" stroke="#000" stroke-width="0.8"/>
<line x1="611.4" y1="896.78" x2="611.4" y2="909.07" stroke="#000" stroke-width="0.7"/>
<line x1="608.8" y1="896.78" x2="614" y2="896.78" stroke="#000" stroke-width="0.7"/>
<line x1="608.8" y1="909.07" x2="614" y2="909.07" stroke="#000" stroke-width="0.7"/>
<line x1="611.4" y1="952.9" x2="611.4" y2="955.3" stroke="#000" stroke-width="0.7"/>
<rect x="617.46" y="918.46" width="7.63" height="34.44" fill="#fbfbfb" stroke="#000" stroke-width="0.8"/>
<line x1="621.28" y1="911.23" x2="621.28" y2="925.2" stroke="#000" stroke-width="0.7"/>
<line x1="618.68" y1="911.23" x2="623.88" y2="911.23" stroke="#000" stroke-width="0.7"/>
<line x1="618.68" y1="925.2" x2="623.88" y2="925.2" stroke="#000" stroke-width="0.7"/>
<circle cx="601.17" cy="901.12" r="1.75" fill="#000"/>
<circle cx="599" cy="915.57" r="1.75" fill="#000"/>
<circle cx="603.09" cy="914.36" r="1.75" fill="#000"/>
<circle cx="608.63" cy="892.69" r="1.75" fill="#9a9a9a"/>
<circle cx="613.45" cy="892.69" r="1.75" fill="#9a9a9a"/>
<circle cx="608.63" cy="911.96" r="1.75" fill="#9a9a9a"/>
<circle cx="613.45" cy="911.47" r="1.75" fill="#9a9a9a"/>
<circle cx="621.16" cy="899.91" r="1.75" fill="#0fa55a"/>
<circle cx="621.16" cy="914.36" r="1.75" fill="#0fa55a"/>
<circle cx="618.75" cy="928.82" r="1.75" fill="#0fa55a"/>
<circle cx="624.05" cy="928.33" r="1.75" fill="#0fa55a"/>
<rect x="633.6" y="891" width="7.63" height="61.9" fill="#fbfbfb" stroke="#000" stroke-width="0.8"/>
<line x1="637.41" y1="878.72" x2="637.41" y2="903.53" stroke="#000" stroke-width="0.7"/>
<line x1="634.81" y1="878.72" x2="640.01" y2="878.72" stroke="#000" stroke-width="0.7"/>
<line x1="634.81" y1="903.53" x2="640.01" y2="903.53" stroke="#000" stroke-width="0.7"/>
<rect x="643.71" y="899.91" width="7.63" height="52.99" fill="#fbfbfb" stroke="#000" stroke-width="0.8"/>
<line x1="647.53" y1="892.21" x2="647.53" y2="907.14" stroke="#000" stroke-width="0.7"/>
<line x1="644.93" y1="892.21" x2="650.13" y2="892.21" stroke="#000" stroke-width="0.7"/>
<line x1="644.93" y1="907.14" x2="650.13" y2="907.14" stroke="#000" stroke-width="0.7"/>
<line x1="647.53" y1="952.9" x2="647.53" y2="955.3" stroke="#000" stroke-width="0.7"/>
<rect x="653.59" y="902.32" width="7.63" height="50.58" fill="#fbfbfb" stroke="#000" stroke-width="0.8"/>
<line x1="657.4" y1="887.15" x2="657.4" y2="916.77" stroke="#000" stroke-width="0.7"/>
<line x1="654.8" y1="887.15" x2="660" y2="887.15" stroke="#000" stroke-width="0.7"/>
<line x1="654.8" y1="916.77" x2="660" y2="916.77" stroke="#000" stroke-width="0.7"/>
<circle cx="637.29" cy="867.4" r="1.75" fill="#000"/>
<circle cx="637.29" cy="897.51" r="1.75" fill="#000"/>
<circle cx="637.29" cy="906.66" r="1.75" fill="#000"/>
<circle cx="647.17" cy="885.94" r="1.75" fill="#9a9a9a"/>
<circle cx="644.76" cy="895.1" r="1.75" fill="#9a9a9a"/>
<circle cx="650.06" cy="896.3" r="1.75" fill="#9a9a9a"/>
<circle cx="647.17" cy="919.18" r="1.75" fill="#9a9a9a"/>
<circle cx="657.28" cy="859.69" r="1.75" fill="#0fa55a"/>
<circle cx="657.28" cy="904.73" r="1.75" fill="#0fa55a"/>
<circle cx="657.28" cy="917.5" r="1.75" fill="#0fa55a"/>
<circle cx="657.28" cy="923.28" r="1.75" fill="#0fa55a"/>
<text x="467.1" y="849" font-size="8.45" text-anchor="middle" font-weight="bold">0.0090</text>
<path d="M455.5 853.6V851H477V853.6" stroke="#000" stroke-width="0.7" fill="none"/>
<text x="467.1" y="864.3" font-size="8.45" text-anchor="middle" font-weight="bold">0.0048</text>
<path d="M466.7 868.5V865.7H477V868.5" stroke="#000" stroke-width="0.7" fill="none"/>
<text x="465.4" y="963.1" font-size="8.3" text-anchor="middle" font-weight="bold" fill="#e4007f">iPPS</text>
<text x="498.9" y="963.1" font-size="8.3" text-anchor="middle" font-weight="bold" fill="#f5a14a">oPPS</text>
<text x="534.5" y="963.1" font-size="8.3" text-anchor="middle" font-weight="bold" fill="#5ab2dc">Peripheral</text>
<text x="574.9" y="963.1" font-size="8.3" text-anchor="middle" font-weight="bold" fill="#e4007f">iPPS</text>
<text x="609.6" y="963.1" font-size="8.3" text-anchor="middle" font-weight="bold" fill="#f5a14a">oPPS</text>
<text x="647.2" y="963.1" font-size="8.3" text-anchor="middle" font-weight="bold" fill="#5ab2dc">Peripheral</text>
<line x1="447.4" y1="966.5" x2="552" y2="966.5" stroke="#231815" stroke-width="0.8"/>
<line x1="560.2" y1="966.5" x2="665.2" y2="966.5" stroke="#231815" stroke-width="0.8"/>
<text x="501" y="976.4" font-size="8.3" text-anchor="middle" font-weight="bold" fill="#231815">Temporal</text>
<text x="609.6" y="976.4" font-size="8.3" text-anchor="middle" font-weight="bold" fill="#231815">Nasal</text>
</g>
</svg>
</body></html>
